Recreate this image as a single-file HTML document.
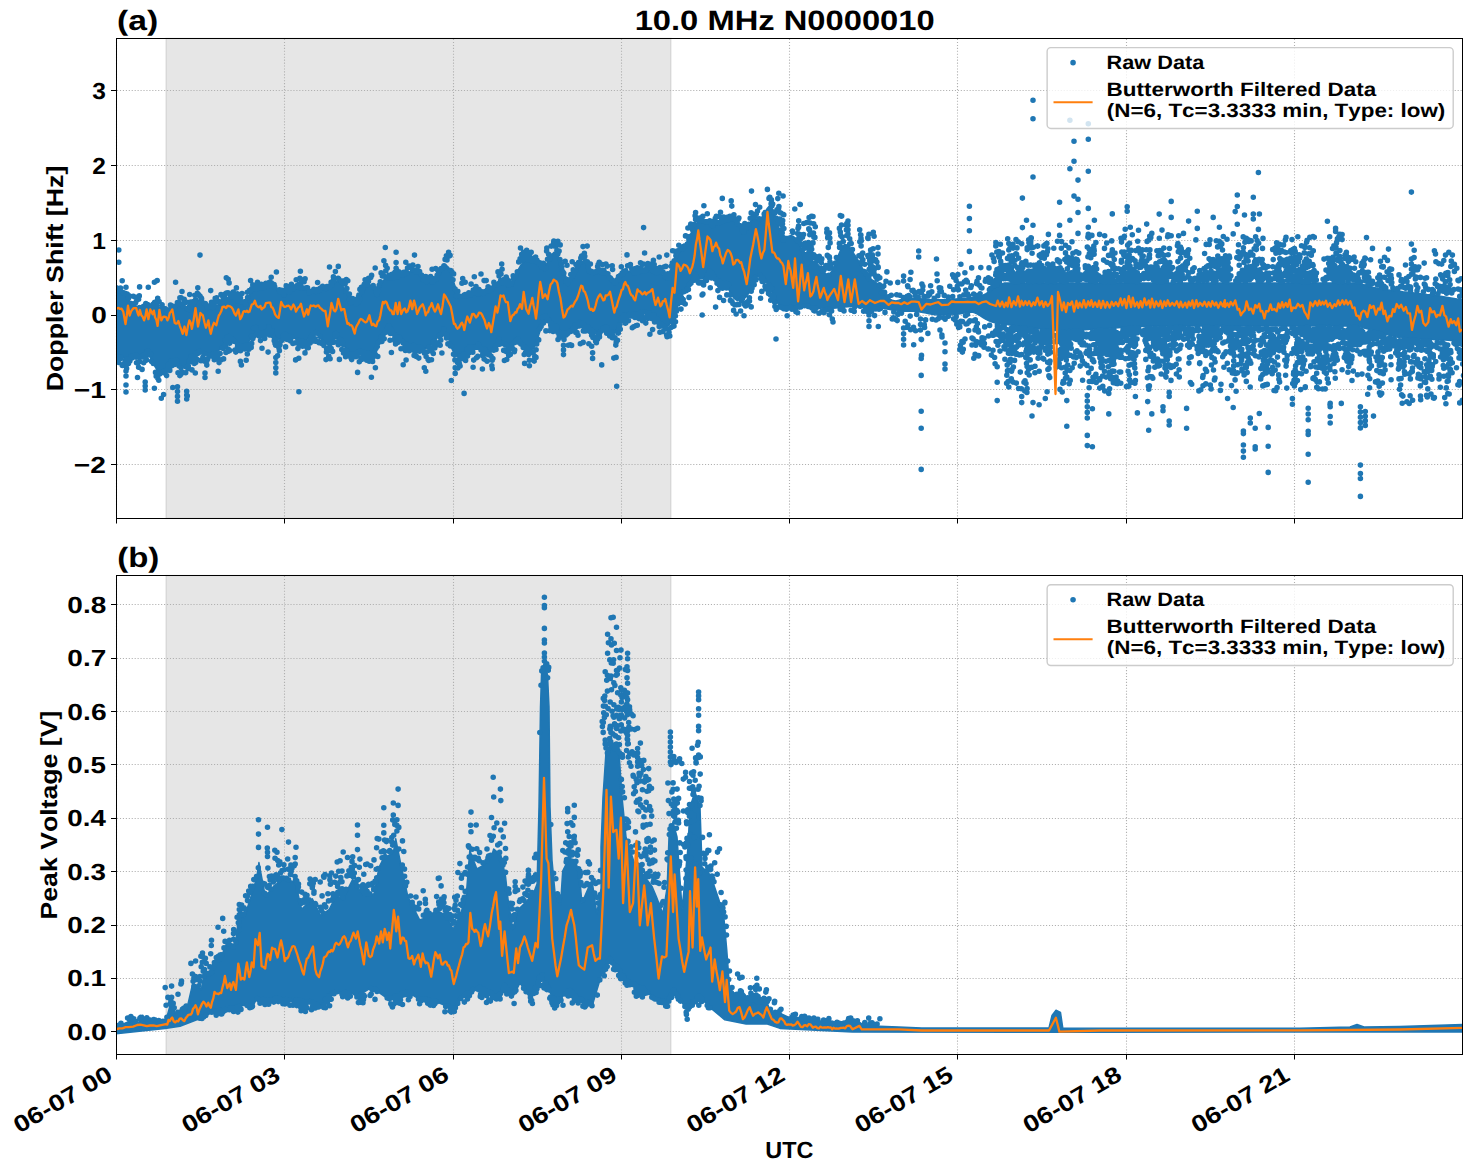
<!DOCTYPE html>
<html><head><meta charset="utf-8"><title>10.0 MHz N0000010</title><style>html,body{margin:0;padding:0;background:#fff;overflow:hidden}svg{display:block}text{font-family:"Liberation Sans",sans-serif;font-weight:bold;fill:#000;font-kerning:none;text-rendering:geometricPrecision}</style></head><body>
<svg width="1471" height="1172" viewBox="0 0 1471 1172">
<defs><clipPath id="c1"><rect x="116.5" y="38.4" width="1345.95" height="480"/></clipPath><clipPath id="c2"><rect x="116.5" y="575.5" width="1345.95" height="479"/></clipPath></defs>
<rect width="1471" height="1172" fill="#fff"/>
<rect x="166" y="38.4" width="504.9" height="480" fill="#808080" fill-opacity="0.2" stroke="#808080" stroke-opacity="0.2" stroke-width="1.39"/>
<path d="M116.5 39V518M284.5 39V518M453.5 39V518M621.5 39V518M789.5 39V518M957.5 39V518M1126.5 39V518M1294.5 39V518M117 90.5H1462M117 165.5H1462M117 240.5H1462M117 315.5H1462M117 389.5H1462M117 464.5H1462" fill="none" stroke="#b0b0b0" stroke-width="1.11" stroke-dasharray="1.11,1.83"/>
<g clip-path="url(#c1)">
<path fill="#1f77b4" stroke="#1f77b4" stroke-width="1.5" stroke-linejoin="round" d="M116 290.4 L119 290.8 L122 291.7 L125 294.7 L128 299 L131 302.4 L134 305.1 L137 306.3 L140 307 L143 308 L146 307.8 L149 306.5 L152 305.6 L155 305.8 L158 307 L161 308.8 L164 310.3 L167 310.9 L170 310.5 L173 309.2 L176 307.1 L179 305.8 L182 305.6 L185 306.5 L188 307.1 L191 306 L194 303.1 L197 300.3 L200 299.7 L203 301.4 L206 304.3 L209 306.1 L212 306.6 L215 305.8 L218 304.7 L221 303.5 L224 301.3 L227 298.9 L230 297.7 L233 298 L236 300.2 L239 302.1 L242 303.1 L245 301.2 L248 297 L251 292.8 L254 289.1 L257 288 L260 287.8 L263 287.2 L266 286.4 L269 285.7 L272 285.8 L275 287.2 L278 290.1 L281 292.3 L284 293.6 L287 293.3 L290 291.8 L293 290.3 L296 288.9 L299 288.2 L302 288.5 L305 289.7 L308 291 L311 291.6 L314 291.3 L317 290.4 L320 289.5 L323 288.6 L326 287.9 L329 286.3 L332 283.6 L335 281.7 L338 281 L341 283.1 L344 287.8 L347 293.3 L350 298.2 L353 301.7 L356 302.1 L359 298.5 L362 293.4 L365 287.8 L368 284.3 L371 285.3 L374 287.9 L377 288 L380 285.6 L383 281.1 L386 277.6 L389 277.1 L392 277.3 L395 277.2 L398 276.7 L401 275.7 L404 274.4 L407 272.9 L410 271.8 L413 271.3 L416 272.1 L419 274.6 L422 277.4 L425 279.9 L428 281.4 L431 281.1 L434 279.4 L437 276.6 L440 272.5 L443 267.6 L446 265.1 L449 267.9 L452 276.1 L455 286.1 L458 293.1 L461 295.8 L464 295.3 L467 294.9 L470 294.5 L473 294.1 L476 293.7 L479 293.3 L482 292.6 L485 291.7 L488 290.6 L491 289 L494 287.2 L497 285 L500 283.5 L503 282.9 L506 283.2 L509 283.6 L512 281.4 L515 276.5 L518 270.2 L521 264.8 L524 261.4 L527 260.3 L530 260.1 L533 260.6 L536 262 L539 264.3 L542 265.9 L545 265.5 L548 261.8 L551 255.4 L554 252.2 L557 253.8 L560 260.8 L563 270.6 L566 276.9 L569 278.5 L572 276.1 L575 271 L578 265.8 L581 261.6 L584 261.6 L587 264.4 L590 268.7 L593 271.6 L596 271.6 L599 271.3 L602 271.9 L605 273.8 L608 276.5 L611 279.1 L614 280.8 L617 280.4 L620 278.1 L623 274.7 L626 272.1 L629 271.2 L632 271.7 L635 272.4 L638 272.3 L641 271.3 L644 270.2 L647 269.5 L650 269.5 L653 270.2 L656 271.6 L659 273.1 L662 274.6 L665 275.5 L668 273.8 L671 269.2 L674 262.7 L677 256.4 L680 251.7 L683 248.4 L686 244 L689 237.9 L692 231.1 L695 225.2 L698 221.6 L701 220.7 L704 221.2 L707 222.5 L710 223.6 L713 224 L716 223.6 L719 222.5 L722 221.4 L725 220.3 L728 219.4 L731 219.5 L734 221 L737 223.9 L740 227.4 L743 228.6 L746 227.4 L749 223.9 L752 219.7 L755 218.1 L758 219.7 L761 218.4 L764 214 L767 208.8 L770 205.3 L773 209.7 L776 218.2 L779 227.7 L782 234.1 L785 236.3 L788 236.4 L791 235.5 L794 237 L797 240.3 L800 245.7 L803 252.8 L806 258.1 L809 261.6 L812 261.4 L815 261.7 L818 264.4 L821 268.4 L824 272.2 L827 274.6 L830 273.8 L833 269 L836 261.9 L839 253.7 L842 247.1 L845 244.4 L848 245.2 L851 248.9 L854 253.9 L857 258.4 L860 263.6 L863 269.5 L866 274.9 L869 278.4 L872 279.8 L875 281.4 L878 284.6 L881 288.8 L884 292.9 L887 296.5 L890 299.2 L893 300.6 L896 300.9 L899 300.1 L902 299.3 L905 298.8 L908 298.5 L911 298.5 L914 298.5 L917 298.6 L920 298.7 L923 298.9 L926 299.1 L929 299.4 L932 299.7 L935 299.8 L938 299.8 L941 299.7 L944 299.6 L947 299.4 L950 299.2 L953 299.1 L956 298.9 L959 298.7 L962 298.5 L965 298.3 L968 297.9 L971 297.5 L974 297.1 L977 296.7 L980 296.1 L983 295.1 L986 293.6 L989 291.7 L992 289.6 L995 287.4 L998 285.4 L1001 283.9 L1004 283.1 L1007 283 L1010 283 L1013 283 L1016 283 L1019 283 L1022 283 L1025 283 L1028 283 L1031 283 L1034 283 L1037 283 L1040 283 L1043 283 L1046 283 L1049 283 L1052 283 L1055 283 L1058 283 L1061 283 L1064 283 L1067 283 L1070 283 L1073 283 L1076 283 L1079 283 L1082 283 L1085 283 L1088 283 L1091 283 L1094 283 L1097 283 L1100 283 L1103 283 L1106 283 L1109 283 L1112 283 L1115 283 L1118 283 L1121 283 L1124 283 L1127 283 L1130 283 L1133 283 L1136 283 L1139 283 L1142 283 L1145 283 L1148 283 L1151 283 L1154 283 L1157 283 L1160 283 L1163 283 L1166 283 L1169 283 L1172 283 L1175 283 L1178 283 L1181 283 L1184 283 L1187 283 L1190 283 L1193 283 L1196 283 L1199 283 L1202 283 L1205 283 L1208 283 L1211 283 L1214 283 L1217 283 L1220 283 L1223 283 L1226 283 L1229 283 L1232 283 L1235 283 L1238 283 L1241 283 L1244 283 L1247 283 L1250 283 L1253 283 L1256 283 L1259 283 L1262 283 L1265 283 L1268 283 L1271 283 L1274 283 L1277 283 L1280 283 L1283 283 L1286 283 L1289 283 L1292 283 L1295 283 L1298 283 L1301 283 L1304 283 L1307 283 L1310 283 L1313 283 L1316 283 L1319 283 L1322 283 L1325 283 L1328 283 L1331 283 L1334 283 L1337 283 L1340 283 L1343 283 L1346 283 L1349 283 L1352 283 L1355 283.1 L1358 283.5 L1361 284.1 L1364 284.8 L1367 285.6 L1370 286.4 L1373 287.2 L1376 287.9 L1379 288.6 L1382 289.2 L1385 289.6 L1388 289.9 L1391 290.3 L1394 290.6 L1397 291 L1400 291.3 L1403 291.7 L1406 292 L1409 292.4 L1412 292.7 L1415 293.1 L1418 293.4 L1421 293.8 L1424 294.1 L1427 294.5 L1430 294.8 L1433 295.2 L1436 295.5 L1439 295.9 L1442 296.4 L1445 296.9 L1448 297.4 L1451 297.9 L1454 298.4 L1457 299 L1460 299.3 L1463 299.6 L1463 299.6 L1463 340.9 L1463 340.9 L1460 340.8 L1457 340.7 L1454 340.6 L1451 340.4 L1448 340.3 L1445 340.1 L1442 340 L1439 339.9 L1436 339.7 L1433 339.6 L1430 339.4 L1427 339.3 L1424 339.1 L1421 339 L1418 338.9 L1415 338.7 L1412 338.6 L1409 338.4 L1406 338.3 L1403 338.1 L1400 337.7 L1397 337.1 L1394 336.3 L1391 335.5 L1388 334.7 L1385 333.8 L1382 333 L1379 332.1 L1376 331.3 L1373 330.5 L1370 329.6 L1367 328.8 L1364 328 L1361 327.1 L1358 326.5 L1355 326.2 L1352 326 L1349 326 L1346 326 L1343 326 L1340 326 L1337 326 L1334 326 L1331 326 L1328 326 L1325 326 L1322 326 L1319 326 L1316 326 L1313 326 L1310 326 L1307 326 L1304 326 L1301 326 L1298 326 L1295 326 L1292 326 L1289 326 L1286 326 L1283 326 L1280 326 L1277 326 L1274 326 L1271 326 L1268 326 L1265 326 L1262 326 L1259 326 L1256 326 L1253 326 L1250 326 L1247 326 L1244 326 L1241 326 L1238 326 L1235 326 L1232 326 L1229 326 L1226 326 L1223 326 L1220 326 L1217 326 L1214 326 L1211 326 L1208 326 L1205 326 L1202 326 L1199 326 L1196 326 L1193 326 L1190 326 L1187 326 L1184 326 L1181 326 L1178 326 L1175 326 L1172 326 L1169 326 L1166 326 L1163 326 L1160 326 L1157 326 L1154 326 L1151 326.1 L1148 326.1 L1145 326.3 L1142 326.4 L1139 326.6 L1136 326.8 L1133 327 L1130 327.1 L1127 327.3 L1124 327.5 L1121 327.6 L1118 327.8 L1115 328 L1112 328.1 L1109 328.3 L1106 328.5 L1103 328.6 L1100 328.8 L1097 329 L1094 329.1 L1091 329.3 L1088 329.5 L1085 329.7 L1082 329.8 L1079 330 L1076 330.2 L1073 330.3 L1070 330.5 L1067 330.7 L1064 330.8 L1061 330.8 L1058 330.7 L1055 330.4 L1052 330.1 L1049 329.8 L1046 329.5 L1043 329.2 L1040 328.9 L1037 328.6 L1034 328.3 L1031 327.9 L1028 327.5 L1025 327.1 L1022 326.7 L1019 326.2 L1016 325.8 L1013 325.4 L1010 324.9 L1007 324.5 L1004 324 L1001 323.6 L998 323.2 L995 322.7 L992 322 L989 320.9 L986 319.4 L983 317.5 L980 315.6 L977 313.8 L974 312.6 L971 312.1 L968 312.2 L965 312.8 L962 313.4 L959 314 L956 314.5 L953 314.8 L950 315 L947 315 L944 315 L941 315 L938 314.9 L935 314.7 L932 314.2 L929 313.7 L926 313.1 L923 312.5 L920 311.9 L917 311.5 L914 311.3 L911 311.2 L908 311.2 L905 311.2 L902 311.2 L899 311 L896 310.7 L893 310.2 L890 309.6 L887 309 L884 308.4 L881 307.8 L878 307.4 L875 307 L872 306.7 L869 306.4 L866 306.1 L863 305.9 L860 305.9 L857 306 L854 306.2 L851 306.5 L848 306.8 L845 307.1 L842 307.4 L839 307.7 L836 308 L833 308.3 L830 308.6 L827 308.9 L824 308.9 L821 308.8 L818 308.3 L815 307.7 L812 307.1 L809 306.6 L806 306.1 L803 306 L800 306 L797 306.3 L794 306.6 L791 306.9 L788 307 L785 307 L782 306.7 L779 305.1 L776 300.5 L773 294.7 L770 288.1 L767 282.9 L764 279.7 L761 277.2 L758 276.4 L755 279.5 L752 285.9 L749 292.7 L746 297 L743 299 L740 299.8 L737 300.5 L734 298.4 L731 293.9 L728 288.1 L725 284 L722 282 L719 279.9 L716 277.1 L713 274.4 L710 273.9 L707 275.7 L704 278.1 L701 279 L698 278.2 L695 278.1 L692 280.4 L689 284.8 L686 289.3 L683 293.8 L680 299.8 L677 307.2 L674 315.7 L671 322.5 L668 325.9 L665 326.6 L662 324.6 L659 321.5 L656 318.5 L653 315.9 L650 313.9 L647 312.8 L644 312.2 L641 312.2 L638 312.7 L635 313.7 L632 314.4 L629 314.8 L626 315.3 L623 318.2 L620 323.9 L617 329.2 L614 332.8 L611 332.4 L608 329.9 L605 329.3 L602 330.4 L599 332.1 L596 332.9 L593 332 L590 329.8 L587 327.5 L584 325.4 L581 324.4 L578 324.5 L575 325.8 L572 327.9 L569 330.3 L566 332.2 L563 332.4 L560 330.8 L557 327.7 L554 324.5 L551 321.5 L548 319 L545 319.4 L542 325 L539 334.2 L536 343.8 L533 349.6 L530 350.8 L527 348.6 L524 345.5 L521 342.3 L518 341 L515 341.8 L512 344.2 L509 345.4 L506 344.6 L503 342.4 L500 342.1 L497 344.9 L494 349 L491 352.2 L488 352.5 L485 350.4 L482 348.1 L479 346.7 L476 346.3 L473 346.9 L470 348.2 L467 350.1 L464 352.8 L461 356.1 L458 357.2 L455 354.9 L452 348.9 L449 340.1 L446 334.1 L443 331.9 L440 333.4 L437 337.5 L434 341.3 L431 344.9 L428 347.5 L425 348.8 L422 348.8 L419 347.8 L416 346.9 L413 346.1 L410 345.3 L407 344 L404 342.2 L401 339.7 L398 336.9 L395 333.7 L392 330.7 L389 329.6 L386 330.4 L383 334.1 L380 339.9 L377 346.2 L374 351.2 L371 353.6 L368 353.4 L365 352.3 L362 352 L359 352.5 L356 353.7 L353 354.1 L350 352.9 L347 350 L344 345.7 L341 341.2 L338 338.6 L335 338.7 L332 341.3 L329 343.9 L326 344.1 L323 341.4 L320 337.1 L317 334.7 L314 334.6 L311 336.8 L308 339.6 L305 341.1 L302 341.2 L299 340.2 L296 339 L293 337.8 L290 336.4 L287 335.6 L284 337.3 L281 339 L278 339.3 L275 336.9 L272 332.5 L269 330.3 L266 330.2 L263 331 L260 330.8 L257 330.8 L254 334.1 L251 338.4 L248 343.2 L245 345.7 L242 345.6 L239 344.6 L236 342.9 L233 340.5 L230 338.5 L227 339.4 L224 342.9 L221 347.5 L218 351.6 L215 353.7 L212 354.7 L209 355.1 L206 354.9 L203 354 L200 353.3 L197 353.7 L194 355.4 L191 359 L188 363.7 L185 366.8 L182 367.3 L179 364.6 L176 361.5 L173 361.2 L170 363.7 L167 367.8 L164 370.9 L161 372.9 L158 371.6 L155 366.7 L152 360.7 L149 355.4 L146 353.6 L143 354.7 L140 355.8 L137 356.2 L134 356.6 L131 357.2 L128 357.9 L125 358.3 L122 358 L119 357.5 L116 357Z"/><path fill="none" stroke="#1f77b4" stroke-width="5.56" stroke-linecap="round" d="M118.8 250h0M118.8 262.3h0M154.4 282.2h0M148.3 287.2h0M182 291.5h0M189.7 294.5h0M228.2 279.2h0M300.4 271.2h0M333.4 276.9h0M126 371h0M126 376h0M126 385h0M126 392h0M137.5 377.5h0M145.2 382h0M145.2 386h0M145.2 390h0M154.4 388.2h0M161.3 398.2h0M172.8 387.5h0M177.5 386.7h0M177.5 391.6h0M177.5 396.4h0M177.5 401.3h0M186.7 391.3h0M186.7 395.1h0M186.7 399h0M205 373h0M205 377.5h0M218.2 371.3h0M240.4 361.4h0M228.2 349h0M235.8 352.1h0M262 348.3h0M268.1 352.1h0M275.8 357.5h0M275.8 362.6h0M275.8 367.8h0M275.8 372.9h0M298.8 358.3h0M305 352.9h0M328.8 356h0M396.1 252.3h0M396.1 262.6h0M396.1 268.2h0M414.5 255.1h0M432.1 269.2h0M448.6 252.3h0M465.2 282.3h0M502.1 269.2h0M523.7 252.3h0M523.7 258.8h0M531.2 252.3h0M553.8 241h0M338.3 266.4h0M346.3 279.5h0M370.7 277.6h0M357.6 372.4h0M375.4 367.7h0M409.2 350.8h0M416.7 350.8h0M426.1 356.5h0M440.2 345.2h0M455.2 367.7h0M455.2 373.4h0M487.1 361.2h0M491.8 365.8h0M508.7 355.5h0M514.3 351.8h0M529.4 360.2h0M529.4 365.8h0M536 357.4h0M548.1 320.8h0M598.2 264.5h0M659.2 257h0M666.8 255.1h0M665.8 266.4h0M563.5 345.2h0M563.5 349.9h0M563.5 354.6h0M583.2 342.4h0M591.7 346.2h0M592.6 352.7h0M592.6 358.4h0M616.1 357.4h0M659.2 326.5h0M760.6 298.3h0M794.8 209h0M848 221h0M848 225.3h0M848 229.7h0M848 234h0M878 247.6h0M878 254h0M918.7 251h0M918.7 257h0M936.5 259h0M903.6 276h0M903.6 281h0M969.4 206.3h0M969.4 218.5h0M969.4 230.7h0M969.4 251.4h0M991.9 255h0M955.5 277.5h0M937 274h0M959 284h0M921.2 339.3h0M921.2 358.4h0M921.2 375.4h0M921.2 411.2h0M921.2 428.2h0M921.2 469.4h0M972 338h0M972 345h0M978.5 332h0M978.5 356h0M988.5 336h0M988.5 349h0M832.3 319h0M833 322h0M869 315h0M869 320.8h0M869 326.5h0M878.3 326.5h0M903.6 328h0M903.6 333.7h0M903.6 339.3h0M903.6 345h0M920.5 319h0M920.5 324.5h0M920.5 330h0M921.5 339.6h0M921.5 355.4h0M936 320h0M940 330h0M942 337h0M945 343h0M945 351.8h0M945 364h0M945 369h0M969 322h0M975 330h0M982 337.7h0M978.7 355.6h0M988 349h0M1033 100.2h0M1033 118.7h0M1033 177h0M1022.4 198.1h0M1026.5 220.2h0M1022.4 227.6h0M1033 225.2h0M1059.6 202.2h0M1074 141.2h0M1088.3 139.2h0M1074 161.3h0M1069.9 168.8h0M1088.3 171.3h0M1078 180.1h0M1074 196.1h0M1078 199.2h0M1078 212.5h0M1088.3 208.4h0M1069.9 220.2h0M1094.4 220.2h0M1059.6 225.2h0M1059.6 235.4h0M1048.4 234.4h0M1088.3 227.2h0M1088.3 234.4h0M1078 233.4h0M1099.6 234.4h0M1104.7 235.8h0M1112.3 213.9h0M1127.2 206.7h0M1127.2 211.2h0M1130.3 227.2h0M1125.2 229.3h0M1138.5 230.3h0M1146.7 224.1h0M1159.2 214.1h0M1171.2 201.4h0M1171.2 217.4h0M1162 230.1h0M1188.6 221.1h0M1197.3 211.2h0M1197.3 228.4h0M1213.2 217.4h0M1219.4 227.2h0M1183.5 233.4h0M1171.2 235.8h0M1151.8 233.4h0M1069.9 120.3h0M1088.3 123.8h0M997.2 366.8h0M997.2 382.2h0M997.2 400.6h0M1021.7 396.5h0M1021.7 402.6h0M1032 416h0M1039.1 404.7h0M1033 402.6h0M1045.3 398.5h0M1026.9 392.4h0M1066.8 400.6h0M1066.8 426.2h0M1066.8 377h0M1087.3 395.5h0M1087.3 401.1h0M1087.3 406.8h0M1087.3 412.4h0M1087.3 418h0M1092.4 408.8h0M1087.3 435.4h0M1087.3 445.6h0M1092.4 446.7h0M1108.8 393.4h0M1108.8 413.9h0M1137.4 412.9h0M1147.7 401.6h0M1151.8 413.9h0M1148.7 430.3h0M1163 406.7h0M1163 410.8h0M1169.2 421h0M1169.2 425h0M1186.6 408.4h0M1186.6 428.2h0M1169.2 392.4h0M1169.2 396.5h0M1135.4 396.5h0M1220.4 390.4h0M1227.6 398.5h0M1191.7 384.2h0M1258.4 172.5h0M1237.3 195h0M1253.3 197.2h0M1237.3 206.5h0M1235.2 211.6h0M1244.5 215h0M1253.3 214h0M1253.3 219h0M1259.4 214h0M1237.3 224.3h0M1258.4 229.4h0M1233.2 233.9h0M1327.4 221.2h0M1335.6 228.4h0M1335.6 231.4h0M1342.1 234.5h0M1342.1 239.6h0M1313 236.6h0M1411.4 192.1h0M1411.4 244.1h0M1411.4 259h0M1411.4 264.1h0M1411.4 269.3h0M1411.4 274.4h0M1454.4 264.2h0M1454.4 271.4h0M1330 369.7h0M1342.1 369.7h0M1327.4 361.5h0M1336.6 357.4h0M1317.2 335.9h0M1330 404.5h0M1341.3 403.5h0M1399 363.5h0M1399 378.9h0M1439 374.8h0M1439 378.9h0M1448.2 374.8h0M1448.2 381h0M1243.4 431h0M1243.4 433.6h0M1243.4 445h0M1243.4 451.1h0M1243.4 457.3h0M1255.2 446.7h0M1255.2 449h0M1268.2 446.3h0M1268.2 472.4h0M1268.2 427.4h0M1255.2 428.2h0M1250.3 418h0M1250.3 423h0M1259.3 413.5h0M1233.2 407.5h0M1292.4 398.5h0M1292.4 404.2h0M1308.2 408.3h0M1308.2 414h0M1308.2 419.7h0M1308.2 431.2h0M1308.2 434.4h0M1308.2 454.3h0M1308.2 482.2h0M1330.2 403.4h0M1330.2 406.7h0M1330.2 416.5h0M1330.2 423h0M1341.3 403.4h0M1360.4 406.7h0M1360.4 412h0M1360.4 417.3h0M1360.4 422.6h0M1360.4 427.9h0M1365.3 411.6h0M1365.3 416.2h0M1365.3 420.8h0M1365.3 425.4h0M1373.5 416.1h0M1360.4 465.1h0M1360.4 473.6h0M1360.4 478.5h0M1360.4 496.4h0M1406.9 401.8h0M1412.6 400.2h0M1427.3 396.9h0M116.4 287.7h0M117.1 288.4h0M118.1 288.7h0M118.8 291.2h0M120.5 288h0M122.2 280.8h0M122.5 292.2h0M123.7 292.9h0M125 293.3h0M126 287.2h0M127.2 294.1h0M128.5 298.2h0M129.2 295.8h0M129.8 304.1h0M132.3 306.6h0M133.3 296.3h0M135 297h0M135.6 302.7h0M136.8 300.2h0M139.3 295.9h0M139.6 307.5h0M142.1 309.8h0M143.2 309.5h0M143.6 306.3h0M144.8 308.8h0M145.8 303.6h0M146.9 308h0M147.6 304.6h0M148.8 306.8h0M149.8 305.7h0M153.1 304.3h0M154.5 302.6h0M155.4 302.1h0M156.4 305.5h0M156.7 306.1h0M157.7 298.2h0M159.1 301.5h0M159.5 309.6h0M161.2 309.8h0M162.1 304.9h0M163.2 310.6h0M165.4 308.9h0M166.4 310.9h0M166.8 312.2h0M167.7 312.3h0M168.6 309.8h0M170.5 305.1h0M171.1 307.9h0M171.5 311.1h0M173.5 306.2h0M175.2 306.6h0M175.6 282.3h0M177.4 302.6h0M178.3 302.2h0M179.2 304.2h0M179.9 297.7h0M181.1 297.9h0M182.1 303.8h0M183.1 305.9h0M184.2 299.4h0M185.1 302.8h0M185.6 301.8h0M187.1 308.7h0M188.2 308.6h0M189.4 306.8h0M189.8 310.1h0M190.7 307.9h0M191.9 303.4h0M193.2 304.3h0M194.3 302.2h0M194.9 295.3h0M195.6 299.9h0M197.3 293.4h0M197.8 287.8h0M198.8 294.7h0M200.1 296.3h0M201.3 298.1h0M201.6 298.7h0M204.2 303.3h0M205.3 303.5h0M206.5 305.3h0M207.6 307.8h0M210.1 306.3h0M211.5 302.3h0M212 307h0M213 307.4h0M213.8 306.4h0M215 302.6h0M215.9 301.5h0M216.6 297.8h0M217.6 301.3h0M219.4 301.9h0M220.4 302h0M221 294.5h0M222.2 303.4h0M223.2 300.2h0M224.5 295.4h0M225.3 300.3h0M226.4 293h0M226.9 299.4h0M228 292.8h0M230.3 295.1h0M231.3 294.9h0M232 296.8h0M233.2 292h0M234.4 297.1h0M235.8 298.9h0M237 299h0M237.8 300.7h0M239.4 298h0M240.5 297.8h0M240.7 301.5h0M242.1 302.1h0M243.9 302h0M245 301.6h0M246 304.3h0M247.4 292.2h0M247.6 297.5h0M249.4 290.5h0M249.7 291.7h0M250.6 280.6h0M251.7 288.9h0M252.8 284.9h0M253.6 285.6h0M255 288.5h0M256 288.2h0M256.9 287.4h0M257.7 288.4h0M259 285.4h0M260.4 285.7h0M261.3 284.3h0M261.8 287.7h0M263.5 287.7h0M263.7 287.7h0M264.6 286.7h0M266.3 285.5h0M267.2 285.2h0M269.4 282.2h0M270 285.4h0M271.2 282.9h0M271.6 285.5h0M274.1 284.5h0M274.7 286.9h0M276.4 272h0M279.3 289.7h0M280 291.4h0M280.5 292.1h0M281.7 290.2h0M282.9 291.5h0M284 295.1h0M286.2 289.1h0M286.9 290.8h0M288.5 291.3h0M289.4 292.2h0M290.3 287.5h0M291.4 284.3h0M292.3 286.7h0M292.6 286.8h0M293.5 288.6h0M295.1 286.7h0M296.2 279.7h0M297.1 285.5h0M298.5 287.1h0M299.3 284.1h0M300.1 287.7h0M300.9 287h0M302.6 287.7h0M304.1 281.8h0M305.1 278.7h0M306.3 287.8h0M307.5 287.7h0M309 292.8h0M310.1 291.3h0M312 291.1h0M312.8 291.1h0M313.8 289.4h0M314.5 290.8h0M315.7 291.5h0M317.4 289.6h0M318.5 290.8h0M319.4 290.4h0M320.5 288.1h0M321.4 287.6h0M322.5 287.7h0M322.6 286.4h0M323.7 287.3h0M325.9 288.4h0M326.8 286.5h0M328.3 286.5h0M329.5 267h0M329.6 286.9h0M331.1 282.3h0M332.2 284.8h0M333.1 280.8h0M333.7 281.3h0M335.4 271.5h0M338.1 278.4h0M338.6 278.7h0M341.1 280.9h0M341.7 282.5h0M343.3 281.1h0M345.1 284h0M345.9 291.2h0M346.9 288.5h0M347.8 280.7h0M349.4 294h0M349.6 299.4h0M350.6 303h0M352.2 301.2h0M352.6 298.6h0M353.6 300.3h0M355.2 299.8h0M355.9 304h0M356.6 303.2h0M358.4 302.1h0M358.9 295h0M359.8 299h0M361.4 287.4h0M361.9 292.1h0M362.9 288.6h0M364.3 284.2h0M365.1 279.7h0M366.4 280.5h0M367 284.9h0M368.5 281.5h0M368.6 278.3h0M369.6 278h0M371.6 275.4h0M373.2 285.5h0M373.7 287.8h0M375.3 288.9h0M376.5 292.7h0M377 294.4h0M378.4 290.7h0M379.2 285.2h0M380.3 281.9h0M381.1 272.9h0M382.3 276h0M382.6 275.1h0M383.9 260.7h0M384.9 276.6h0M385.6 265.4h0M387.1 277.4h0M387.6 277.3h0M389.4 275.2h0M390.7 277.9h0M392.1 274.4h0M392.8 278h0M393.8 273.6h0M395 272.4h0M396.4 270.5h0M397.5 275.2h0M397.5 276.9h0M398.9 271.9h0M399.8 274.8h0M400.7 273.4h0M403.3 274.6h0M403.7 272.4h0M404.8 273.7h0M406.1 271.9h0M407 272.8h0M407.5 268.1h0M409.3 266.1h0M410.6 267h0M412.5 269.4h0M412.8 265h0M414.4 270.2h0M416 271.8h0M417.3 272.2h0M417.6 271.8h0M419.2 271.7h0M419.6 271.5h0M421.5 275.1h0M421.5 275.2h0M422.7 276.3h0M423.5 280.1h0M424.7 277h0M425.9 281.4h0M426.8 281.4h0M427.8 278.8h0M428.8 278h0M430.2 279.7h0M430.6 276.5h0M432.2 282.3h0M432.9 281.9h0M433.6 278.9h0M434.6 280.1h0M436.4 279h0M437.1 275.4h0M437.9 270.4h0M438.5 273.2h0M440.5 269.5h0M441.1 268.5h0M443.2 268h0M444 265.8h0M445.1 259.4h0M446.4 258.4h0M447 259.9h0M448.5 255h0M449.3 255.9h0M450.1 255.4h0M450.7 270.5h0M451.8 271.9h0M453 279.7h0M453.6 273.9h0M455.1 289.1h0M456.4 296h0M457.1 291.5h0M457.8 291.2h0M459.1 296.2h0M460 296.3h0M463.4 281.3h0M464.2 295.1h0M465.1 294.5h0M465.7 296h0M466.9 295.3h0M468 295.1h0M468.8 292.7h0M470.2 295.3h0M471.1 284.1h0M472.1 293.4h0M473.3 290.1h0M474.3 276.7h0M474.9 293h0M476 286.5h0M477.4 292.6h0M478.2 294.3h0M479.1 289.7h0M480.1 292.9h0M482 291.9h0M483.2 293.5h0M483.8 292.3h0M484.6 291.9h0M486.2 280.6h0M487.3 290.1h0M488.1 286.8h0M489.3 290.9h0M490.5 288.1h0M491.8 288.7h0M493.9 282.4h0M494.5 284.5h0M497 284.7h0M498 271.9h0M499.4 283.1h0M500.3 282.8h0M500.7 280.5h0M501.7 264h0M503.4 282.5h0M504.8 279.3h0M506.2 277.1h0M507.4 280.4h0M507.7 284.6h0M508.7 280.9h0M510.2 284.6h0M511.2 284.3h0M511.7 283.1h0M513.2 275.7h0M513.6 278.3h0M515 276.8h0M516.1 275.7h0M517.3 271.8h0M518.7 261.9h0M519.7 261h0M520.5 248h0M521.9 258.1h0M522.7 260.2h0M523.9 258.6h0M525 256.4h0M526.2 254.8h0M526.7 250.4h0M528.1 259.9h0M529.3 258.1h0M529.7 254.8h0M531.1 259.8h0M532.1 260.9h0M533.4 258.5h0M533.5 261.3h0M534.9 260.3h0M535.6 257.1h0M537 260.2h0M537.6 262.6h0M538.8 264h0M539.8 262.9h0M541.3 266.5h0M541.7 267.2h0M543.3 263.3h0M544.7 268.6h0M546 268h0M546.6 251.1h0M547.5 259.3h0M548.6 254.3h0M549.9 258.8h0M553.2 244.7h0M554.1 246h0M555.4 244.8h0M556.5 245.6h0M556.9 250.5h0M557.8 254.1h0M559.1 251h0M559.9 259.5h0M561.3 263.7h0M561.7 267.4h0M562.7 271.6h0M563.8 273.3h0M565.2 261.3h0M565.9 281.3h0M567.8 283.4h0M569.9 279.9h0M570.8 274.6h0M572.4 276.4h0M573.2 269.9h0M573.8 272.9h0M575.4 270.8h0M576 264.6h0M577.5 266.2h0M578.5 262.6h0M580 262.5h0M580.8 258.1h0M581.6 256.1h0M583.2 256.3h0M584.4 253.3h0M584.8 256.2h0M585.5 261h0M587.3 261.9h0M588.2 267.2h0M589.2 271.3h0M590.4 264.1h0M590.6 271h0M591.6 272.3h0M593 272.1h0M593.9 272.4h0M595.2 271.9h0M595.8 271.7h0M597.1 271h0M598.2 268.8h0M599.6 270.5h0M601 272.1h0M601.8 270.4h0M602.8 272.8h0M603.8 270.2h0M605 272.8h0M605.9 264h0M607.3 266.1h0M607.9 273.9h0M609.3 277.4h0M610.4 278.1h0M611.8 279.8h0M612.6 269.5h0M614.2 281.8h0M615 282.7h0M616 281.7h0M617.1 279.9h0M618.5 276.5h0M619.4 279.8h0M620.2 275.5h0M621.3 266.8h0M622 273.6h0M622.8 274h0M623.7 271.5h0M624.7 271.4h0M625.6 270.9h0M627.6 265.8h0M629 265.6h0M630.4 264.5h0M632.3 270.5h0M632.8 269.4h0M633.8 273.1h0M635.3 268.5h0M636.2 272.6h0M637.3 267.8h0M638.2 271.9h0M638.5 272.3h0M640.5 262.7h0M640.9 268h0M642.4 269.8h0M643.2 271.1h0M643.8 270.8h0M644.6 253h0M646 270.4h0M646.8 268.6h0M647.8 263.6h0M649.3 266.4h0M650.2 267.8h0M650.6 264.4h0M652.4 270.2h0M652.6 268.7h0M654.1 271.5h0M654.8 268.6h0M655.9 270.2h0M656.6 272.9h0M657.6 272.3h0M659.5 271.7h0M660 267.5h0M660.9 269.3h0M663.1 272.3h0M664.4 266.8h0M665.3 275h0M665.5 276.9h0M666.6 277.6h0M667.8 273.7h0M668.7 277.7h0M670 274.7h0M671.2 266.2h0M672.3 263h0M672.6 250.8h0M674.2 260.9h0M674.5 251.3h0M675.9 255.8h0M677.3 251.8h0M677.9 250.9h0M678.8 245.3h0M680.7 246.8h0M682.2 247.7h0M682.6 249.1h0M683.5 246.5h0M684.8 245.7h0M685.7 235.9h0M687.3 244.1h0M687.9 228h0M688.9 239.4h0M689.8 236.6h0M690.8 224h0M692.5 229.8h0M692.9 224.8h0M694.1 224.5h0M695.1 215.8h0M695.6 219.4h0M697 218h0M697.9 219.9h0M699.1 218.3h0M700.1 221.2h0M701.1 217.9h0M702 220.2h0M702.8 216.4h0M703.9 205.7h0M705.5 221.8h0M706.3 221.9h0M707.3 213.7h0M708.5 221.5h0M709.8 220.9h0M711 223.7h0M711.8 225.5h0M713.1 225.6h0M713.7 223.1h0M715.3 218.3h0M716.3 216.4h0M716.6 222.7h0M719.3 216.5h0M719.9 222.4h0M721.4 219.3h0M723.1 221.2h0M723.7 217.1h0M724.5 219.3h0M726.1 219.7h0M727.2 217.4h0M728.2 219.8h0M728.6 219.5h0M729.9 216.3h0M731.2 200.9h0M731.8 217.4h0M733.1 218.9h0M733.9 214.8h0M735.4 219.7h0M735.7 219.2h0M737.4 223.7h0M738.2 219.4h0M738.9 218h0M739.9 225.6h0M741.9 230.4h0M743.2 231.6h0M743.9 232.3h0M744.8 223.6h0M746.3 228.3h0M747 224.9h0M748.9 224.2h0M750.2 218.3h0M751.4 213.1h0M752.9 216.7h0M754.2 216.6h0M755.5 204.6h0M756.3 214.1h0M757.5 211h0M759.2 218.8h0M759.7 207.3h0M760.9 225.4h0M761.7 228.4h0M763.2 223.2h0M764.2 214h0M765 212.6h0M767.4 189.4h0M769 198.4h0M769.8 197.2h0M771.1 203.8h0M772 205.7h0M772.7 204h0M773.7 212.2h0M775 212.7h0M776.4 218.4h0M777 209.8h0M778.4 222.2h0M777.8 219.2h0M777.8 198.6h0M778.8 193.3h0M778.9 206.6h0M778.6 208.2h0M779 222.8h0M780.4 212.8h0M780 223.5h0M779.8 219h0M779.9 219.4h0M781.2 233.1h0M780.9 223.4h0M780.9 234h0M782.1 225.1h0M781.8 225.1h0M782.5 229h0M782.5 224h0M782.2 232.9h0M783 214.3h0M783.1 196h0M783.2 240.3h0M782.7 220.5h0M783.8 214.8h0M783.8 239.6h0M783.9 228.6h0M792.4 231h0M792.8 232.6h0M796.6 239.8h0M798.4 227.1h0M798 228.5h0M797.7 240.9h0M797.7 233.5h0M798.6 227.2h0M798.7 220.8h0M799.1 236.8h0M799.3 240.1h0M798.6 226.1h0M800.3 204.5h0M800 234.6h0M799.9 204.2h0M800.5 238.7h0M800.9 244h0M802.5 237.3h0M802.7 244.9h0M803.4 249h0M802.6 249.9h0M803.6 234.5h0M804.3 254.5h0M803.8 223.5h0M805.5 256.4h0M804.9 259.1h0M805.1 255.5h0M804.8 243.4h0M806.5 264.2h0M805.7 246h0M807.1 256.2h0M806.7 254.5h0M806.6 246.4h0M806.7 222.6h0M807.7 257.8h0M808.2 248.5h0M808.4 261.7h0M807.7 254.7h0M808.4 242.6h0M808 246.8h0M808.8 228.9h0M809 253.6h0M809.1 217.6h0M808.5 253.4h0M810.5 252.7h0M810.1 259.2h0M809.5 229.9h0M810.2 223h0M809.8 234.7h0M811.4 216.2h0M811.1 246.8h0M810.6 258.6h0M812.2 257.1h0M811.7 249.2h0M811.6 258.5h0M812.9 257.3h0M813 242.9h0M813 216.5h0M813.5 233h0M813.7 223.7h0M813.9 237.2h0M813.8 254.7h0M814.9 237.4h0M815.3 226.7h0M815.7 256.6h0M816.3 256.7h0M816.8 261h0M819 259h0M818.9 258.3h0M819.3 256.2h0M821.3 262.6h0M820.8 268h0M821.8 258.9h0M822.8 271.3h0M823.9 269.9h0M825.4 268.1h0M825.6 266.9h0M826 265.6h0M826.9 229.2h0M827.3 255.4h0M826.8 232.6h0M827.8 236.7h0M828.3 247.4h0M828 265.5h0M827.7 237.7h0M829.5 232.9h0M828.8 257h0M828.9 275.2h0M829.3 256.9h0M829.2 268.4h0M829.5 258h0M830.1 262.5h0M829.8 238h0M830.1 242.9h0M830 262h0M830.9 264.7h0M830.9 264.6h0M834.3 269.1h0M835.4 263h0M836.4 257.6h0M839.4 228.4h0M839.3 243.5h0M840.3 232.1h0M839.6 247.4h0M840.3 215.5h0M840.3 246.4h0M841.4 216.2h0M840.8 235.5h0M841.7 216.1h0M842.1 237.1h0M841.5 225h0M843.3 241.6h0M846.4 229.9h0M846.4 225.3h0M846.8 235.6h0M847.2 226h0M846.8 223.5h0M849.7 244.1h0M849.7 238.8h0M850.6 243.4h0M851.2 243.5h0M852.4 249.5h0M858.9 255.7h0M859.8 241.8h0M859.7 229.7h0M861.4 257.1h0M861.3 240.7h0M860.9 235.1h0M861.1 245.9h0M860.6 234.8h0M861 238.4h0M861.7 261.8h0M861.9 263.7h0M861.9 254.4h0M862.4 263.7h0M862.7 253h0M862.9 259.8h0M863.7 271.5h0M864.2 271.6h0M864.8 264.2h0M866.6 274.4h0M867.8 237.9h0M868.1 238.4h0M867.8 255.6h0M868.4 257h0M868 277.1h0M868.8 278.9h0M869.2 269.4h0M868.9 234.2h0M868.7 277.1h0M870.1 269.3h0M869.9 263.3h0M870 259.1h0M869.7 260.4h0M870.4 258.6h0M869.6 254.9h0M871.5 261.2h0M870.6 259.7h0M870.9 263.7h0M870.6 250.1h0M870.6 266.9h0M872.3 254.9h0M871.6 273.7h0M871.9 273.7h0M872.4 256.7h0M872.7 267.1h0M872.7 260.8h0M873.3 232.3h0M873.1 248.7h0M874.1 270h0M874.1 268.5h0M874.1 273.8h0M874.1 236.2h0M875.8 276.7h0M875.6 259.9h0M877 279.1h0M876.9 262.1h0M877.1 279.2h0M878.2 267.4h0M878 276.4h0M878 266.7h0M879.4 284.9h0M131.3 303.5h0M138.6 299.2h0M139.6 286.9h0M157.2 280.6h0M189.5 302.2h0M190.7 302h0M192.8 301.7h0M200 255.1h0M210.7 290.6h0M215.2 298.4h0M222.7 296.5h0M225.1 294.1h0M226.3 277.8h0M229.1 282.9h0M236.4 287.9h0M237.3 293.9h0M242 293.5h0M257.5 282.3h0M265.9 283.3h0M271.2 277.2h0M286.2 285.9h0M299.9 278.3h0M301.6 282.4h0M317.6 282.5h0M358.4 297h0M359.9 289.4h0M375.2 268h0M375.7 289.9h0M376.7 288.9h0M385.3 247.5h0M385.8 270.9h0M387.2 268.3h0M396.7 270h0M405.8 262.2h0M418 266.6h0M425.8 276.5h0M435.7 268.5h0M446.4 255.8h0M461.9 283.3h0M462.7 278.5h0M478.7 289.4h0M481 274h0M484.1 280.6h0M488.1 286.9h0M499.1 275.9h0M501 274h0M504.3 279.4h0M506.9 279.1h0M520.1 258.9h0M521.7 254.4h0M524.9 256.3h0M546.8 248h0M549.8 255.6h0M551.2 246.1h0M553.7 242.6h0M557.9 241.3h0M558.6 251.8h0M560.2 244.9h0M567 265.3h0M572.2 261.8h0M583 246.6h0M587.2 246.1h0M597.6 266.5h0M599.2 262.2h0M602.4 264.5h0M612.2 265.7h0M622.2 273h0M627 254.9h0M631.8 268.9h0M632.6 268.8h0M635.2 269.2h0M643.4 264.1h0M643.6 227.6h0M647.3 264.5h0M653.4 260.2h0M654.2 264.6h0M657.9 268.5h0M676 252.7h0M685.5 235.9h0M690.2 226.4h0M695.6 212.5h0M714.9 220h0M720.5 212.3h0M722.3 198.4h0M731.8 206.1h0M743.7 225.9h0M751.2 212.9h0M751.5 191.1h0M753.4 214.2h0M771.4 199.9h0M116.2 359.8h0M116.7 356.4h0M118.2 356.9h0M118.7 359.2h0M120.3 358.8h0M120.8 356.9h0M122.3 365.4h0M123.2 364.6h0M123.8 364.2h0M125.3 360.9h0M125.9 360.2h0M126.6 359.1h0M128.5 363.6h0M129.2 360h0M129.9 360.9h0M131 356.9h0M132.1 358h0M133 355.8h0M133.7 356.3h0M135.2 355.5h0M136.2 357.2h0M136.6 355.4h0M138.1 362.5h0M139.4 357.3h0M139.7 361.7h0M141.2 357.1h0M142.1 369.4h0M143.1 355.4h0M143.9 357.2h0M144.8 354.5h0M145.6 356.7h0M147.1 351.5h0M147.5 353.6h0M148.6 351.3h0M150.8 354.3h0M151.6 361.4h0M153.3 363.5h0M155.5 372.4h0M156.2 376.2h0M157 373.4h0M157.8 378.3h0M158.8 380.2h0M159.7 374.1h0M160.9 372.9h0M163.3 371.7h0M164.3 371h0M165.1 373.3h0M165.9 370.6h0M166.6 375.6h0M167.8 366.9h0M168.6 364.4h0M170.4 364.9h0M171 361.1h0M171.8 365.7h0M172.6 360.7h0M174.6 364.4h0M175.8 360h0M177.2 360.9h0M178 372.7h0M179.1 365.9h0M180.4 372.7h0M181 367.8h0M181.8 372.1h0M182.6 372.3h0M186.2 367.1h0M187.3 395.9h0M188.3 366h0M189.3 361.2h0M190.5 359.5h0M191.3 358.2h0M191.5 356h0M193.4 356.6h0M194.4 361.6h0M195.3 373h0M196 353.2h0M196.7 354.1h0M197.7 353.4h0M199.3 351.4h0M200.1 352.1h0M201 360.8h0M201.7 359.8h0M202.9 357.2h0M204.4 353.5h0M204.7 361.2h0M206.8 365.1h0M207.7 358.9h0M208.9 354.9h0M209.7 356.2h0M212.4 356h0M213.4 353.8h0M214.3 359.8h0M215.2 357.8h0M215.6 353.5h0M216.6 355.5h0M218 355.3h0M218.9 359.5h0M220.1 353.6h0M220.9 360h0M222.2 348.1h0M222.9 348.3h0M225.3 340.3h0M225.9 352.5h0M227.2 337.4h0M228.8 336.5h0M229.7 350.6h0M230.7 339.1h0M231.6 338.9h0M232.9 339.8h0M233.5 341.1h0M234.7 341.5h0M236.2 350.8h0M237.3 347.9h0M237.6 344.7h0M239 347.7h0M240.2 345.6h0M240.7 347h0M242.1 348.3h0M243.2 346.1h0M245.4 345.5h0M246.3 346h0M246.6 346.3h0M248.2 345.2h0M249.2 347h0M249.9 345.2h0M251.6 336h0M252.9 338.4h0M253.5 328.2h0M254.7 328h0M255.9 327.6h0M256.6 333.7h0M258.1 332.2h0M259.1 335.9h0M260.1 332.9h0M260.9 334.7h0M262.9 333.8h0M263.9 335.1h0M265.1 334.2h0M266 331.7h0M267.2 333.3h0M268.1 330.2h0M268.9 326.8h0M269.5 334.9h0M271 333.3h0M272.3 330.7h0M272.6 335.5h0M274.2 340.8h0M274.5 338.7h0M276.2 341h0M277.4 342.8h0M277.6 355.7h0M278.9 348.1h0M280 344.7h0M281.7 340.6h0M283.4 336h0M283.5 335.2h0M285.2 334.1h0M285.6 346.9h0M286.5 339.2h0M288.2 335.9h0M289 339.4h0M290 336.6h0M290.6 341h0M292.1 337.1h0M295.4 342.8h0M295.6 359.9h0M296.7 342.6h0M298 340h0M299.1 344.2h0M300.7 342.8h0M301.8 341.4h0M302.6 346.2h0M304.2 342h0M305.2 342.5h0M305.8 342.6h0M307.1 347.7h0M308.9 341.9h0M310.2 339.4h0M311.4 336.4h0M312.4 334.7h0M313.1 334.9h0M313.7 340.9h0M315 338.9h0M316.2 332.5h0M317.2 333.1h0M318.3 341.7h0M319.1 342.7h0M320.1 336.6h0M321.8 343.6h0M322.7 342.6h0M323.9 345.4h0M326 359.6h0M326.6 348.6h0M327.6 348.8h0M328.5 350.5h0M329.7 344.2h0M331.2 348.6h0M332.4 342.5h0M332.6 351.4h0M334.3 342.1h0M335.4 335.7h0M335.6 333.6h0M336.7 334.4h0M338.3 344.7h0M338.5 341.2h0M340.4 339.6h0M341.2 340.5h0M342.4 342.2h0M343.1 344.6h0M345.4 350.4h0M345.6 356.7h0M346.7 350.9h0M348.7 354.2h0M350.2 354.2h0M350.9 357.7h0M351.9 356.5h0M353.2 355.6h0M353.6 354h0M355.3 355h0M355.9 356.7h0M357 354.4h0M357.7 352.2h0M359.3 361.7h0M360.2 351.2h0M360.9 357.8h0M361.7 352.7h0M362.9 357.9h0M363.7 352.3h0M365.5 358.2h0M365.8 352.8h0M366.7 353.2h0M367.6 352.8h0M369.4 357.2h0M370.1 354.8h0M372.9 357.4h0M373.8 353.9h0M374.6 352.2h0M375.9 348.5h0M377.3 346.6h0M377.8 356.5h0M378.6 342.6h0M379.9 341.4h0M380.8 337.2h0M381.8 336.9h0M383.1 334.8h0M384.2 338.8h0M385.3 331.5h0M386.4 332.1h0M386.8 329.3h0M388.4 326.6h0M388.7 326h0M390.4 333.4h0M390.9 329.4h0M392.1 331.2h0M394.4 334.5h0M394.8 338.4h0M395.6 343.9h0M396.8 338.4h0M397.7 342.5h0M399 337.3h0M399.6 338h0M401 348.7h0M402.2 341.1h0M403.2 342.9h0M405.4 350.5h0M406.4 349h0M406.6 344.4h0M408 345.8h0M410.1 345.8h0M410.7 346.5h0M411.6 346.5h0M413.4 345.3h0M414.1 355.4h0M414.8 348h0M417.2 350.7h0M418.1 346.7h0M418.8 358.1h0M420.1 347.2h0M420.7 350.5h0M422 349.7h0M422.7 349.3h0M424.3 367.8h0M424.6 353.2h0M425.8 371.3h0M427.1 351.8h0M428 359.2h0M429.1 347.1h0M429.9 347.8h0M431.5 351.3h0M431.8 347.7h0M433.1 341.8h0M434.2 345.1h0M434.9 341.3h0M436.2 345.2h0M437.4 342.9h0M439.2 336.5h0M440.2 334.9h0M440.6 335.5h0M442.4 333.6h0M443.2 332.4h0M443.8 328.9h0M445.3 334.3h0M445.8 334.5h0M447 335.3h0M447.9 343.9h0M449.4 343.8h0M450.4 345.9h0M451.5 345.7h0M453.5 354.3h0M454.5 354.7h0M454.9 360h0M456.1 360.6h0M457.5 362.5h0M457.8 360.1h0M458.7 361.2h0M460.1 366.1h0M460.7 356.1h0M461.7 358.7h0M463 356.1h0M463.6 354h0M467.2 349.3h0M467.5 356.1h0M469.4 350.2h0M469.6 346.9h0M471.4 346.7h0M472.4 350.7h0M473.1 367.3h0M473.7 360.1h0M475 347.4h0M476.5 357.8h0M477.5 347.3h0M478.4 344.4h0M478.8 344.6h0M480.5 347.8h0M481 350.1h0M482.4 369h0M483 355.8h0M484.1 359.1h0M485 349.6h0M486.1 351.5h0M488 354.6h0M488.8 353.9h0M489.7 355h0M491.1 356.2h0M492.3 368.8h0M492.9 358.5h0M493.7 350.2h0M495.1 347.7h0M496.2 345.6h0M498.4 340.9h0M499.2 339.1h0M499.6 344.3h0M503 343.5h0M503.7 350.4h0M505.3 344.4h0M505.5 344.9h0M506.8 359.5h0M508 347.1h0M508.7 351.9h0M510 347.7h0M511.5 347.9h0M511.8 344.8h0M512.6 348.5h0M514.1 342.7h0M514.7 350.1h0M516.1 340.2h0M517.3 342h0M517.9 339.1h0M519.4 341.5h0M519.8 341.6h0M520.8 344h0M522.2 344.7h0M523.2 345.7h0M524.2 354.5h0M525.4 347.2h0M527.1 349h0M528.2 350.4h0M528.6 354.5h0M530.1 352.2h0M531.4 352.3h0M533.1 353h0M533.9 360h0M534.7 356.2h0M536.1 349.8h0M536.7 343.9h0M538.3 339.6h0M538.7 339.9h0M539.7 328.8h0M541.1 326.4h0M542 317.6h0M542.9 322.5h0M543.5 323.1h0M545.3 316h0M545.5 316.6h0M547.1 318.4h0M547.6 319.6h0M548.9 320.2h0M549.8 330.6h0M551 326.4h0M551.6 323.3h0M553.1 331.5h0M554.2 330.2h0M554.5 326.4h0M556.4 326.2h0M556.5 328.1h0M557.9 332.5h0M559.2 335.8h0M560.2 335.7h0M561.4 334.2h0M562.3 333h0M563.3 335.2h0M564 339.4h0M564.6 333.4h0M566.1 335h0M566.9 334h0M567.7 333.4h0M569.3 331.6h0M570.3 344.9h0M570.8 331.5h0M571.6 345.4h0M573.2 328.2h0M573.6 329.9h0M575.1 325.1h0M575.8 327.3h0M577 332.5h0M578 335.3h0M579.3 326h0M579.7 322.3h0M581.1 322.9h0M581.5 324.5h0M582.7 326.1h0M583.6 324.6h0M584.9 329.3h0M585.7 330.9h0M587.1 327.7h0M588.3 327.4h0M588.6 328.5h0M590 331.6h0M590.6 329.7h0M591.6 335.2h0M592.9 337.5h0M594 332.1h0M594.9 337.3h0M596.4 342.7h0M597.5 339.3h0M598.3 333.8h0M599.4 334.1h0M600.4 331.8h0M603.2 328.2h0M605.1 327.4h0M605.7 330.9h0M606.9 327.6h0M608.9 332h0M610.2 331.5h0M611.3 331.7h0M612.3 337.7h0M612.9 335.4h0M614.2 337.7h0M615 337.7h0M616.2 342.2h0M617.5 340.3h0M617.7 332h0M618.9 327.7h0M620.3 329.3h0M621.4 320.3h0M621.7 317.5h0M622.9 317.4h0M624 315.3h0M625 323.1h0M625.6 320.9h0M626.7 316.7h0M628.5 320.8h0M629.2 314.6h0M630.3 315.3h0M631.5 316h0M632.3 327.7h0M633.2 314.3h0M634.9 317.4h0M636.2 325.5h0M637.3 325.3h0M637.8 313.8h0M638.9 318.6h0M639.9 312.5h0M640.6 316.9h0M642.2 317h0M642.6 312.6h0M643.5 319.1h0M645.5 312.2h0M645.8 323.1h0M647.3 314.9h0M648.3 318.2h0M649 312.7h0M649.9 334.3h0M650.8 315.3h0M651.6 318.5h0M653.5 316.8h0M653.9 314.8h0M654.6 321.9h0M656.1 318.6h0M657.4 319.3h0M657.9 321.7h0M658.9 323h0M659.9 332.2h0M660.7 324.1h0M662.3 325.9h0M662.7 325.5h0M663.7 326h0M666.2 328.5h0M666.7 335.2h0M668.4 334.4h0M669 332.6h0M669.8 336h0M671 327.6h0M672.3 322.1h0M673.4 318.6h0M674 326.1h0M675.4 316h0M676.4 311.3h0M676.8 309.5h0M677.8 304h0M679 300.8h0M680.2 295.8h0M681.4 297.5h0M683.2 299.5h0M683.9 291.8h0M685.2 304h0M686.2 290.8h0M687.1 288.8h0M688.4 289.5h0M689 285h0M690.3 283.8h0M691.1 283.1h0M692.8 280.4h0M694.1 280.3h0M694.7 277.5h0M695.6 274.2h0M697.3 278.3h0M698.2 281.9h0M698.7 283h0M699.9 282.9h0M700.8 282.6h0M702.1 295h0M703.5 282.9h0M703.6 284.9h0M705 280.8h0M706.3 279.2h0M707.4 274.7h0M707.7 275.1h0M709.6 271.1h0M711.1 273.5h0M712.2 273.1h0M712.8 274.6h0M713.7 276.4h0M715.2 279.1h0M715.8 278.7h0M718 282.8h0M719.2 281.3h0M719.7 285.7h0M720.5 281.7h0M721.8 282.7h0M722.5 288.3h0M723.6 300.5h0M724.9 286.5h0M726.3 283.6h0M726.5 288h0M728.5 284.4h0M730.4 300.4h0M730.6 300.8h0M731.9 301.6h0M732.9 303.6h0M733.6 310.4h0M734.7 304.7h0M736.1 314h0M736.8 304.8h0M737.6 304.3h0M739.1 304.5h0M740.6 311h0M741.8 300.8h0M742.6 298.3h0M744 315.8h0M744.7 304.7h0M745.6 306h0M747.1 302.3h0M748.4 301.4h0M749.4 297.7h0M749.5 301.1h0M751.2 291.2h0M752 288.2h0M753.2 282.5h0M754.2 284.7h0M754.7 277.5h0M755.8 280.1h0M760.3 275.4h0M760.9 278.5h0M762.2 281.4h0M763.1 278.3h0M764.5 281h0M765 286.2h0M765.7 288.8h0M766.7 287h0M768.4 291.2h0M768.7 285h0M769.6 286.5h0M770.6 295.3h0M771.7 288.3h0M772.8 294.7h0M774 297.3h0M774.7 302.3h0M776.2 309.5h0M778.3 307.3h0M778.9 307.1h0M780.8 306.8h0M782.5 307.9h0M783.6 308.7h0M785.4 307.9h0M786.4 309.2h0M787.2 315.8h0M790.5 307.2h0M791.9 309.2h0M792.9 308.9h0M795.9 311.7h0M796.8 307.6h0M797.6 312.7h0M799.3 307.1h0M800.7 306.9h0M804.6 305.8h0M808.2 306.4h0M811.9 307.9h0M813.8 310.6h0M814.8 310.9h0M816 308.2h0M819 313.3h0M822.1 311.2h0M823 312.2h0M824.1 312.6h0M824.7 310.2h0M826 309.9h0M828.4 309.1h0M829.4 314.7h0M831.6 311.1h0M840.2 309.3h0M841.2 307.8h0M842.5 308.7h0M844 310.9h0M851.1 310.2h0M854.2 311.4h0M854.8 306.7h0M860.1 306.2h0M860.8 306.1h0M863.6 311.2h0M865.5 307.9h0M867.1 311.4h0M869.9 309.4h0M871.2 306.7h0M871.6 311.1h0M873.1 308.9h0M874.6 315.6h0M875.9 309h0M879 309.2h0M880.4 308.4h0M118.8 362.4h0M124.7 363.1h0M125.8 365.1h0M126.6 368.6h0M136.5 362.8h0M138.6 367.3h0M143.7 362.7h0M146.6 360.1h0M147.8 355.1h0M163.6 394.6h0M169.8 370.4h0M171.8 365.4h0M179.8 375.6h0M180.8 374.4h0M185.7 372.8h0M188.3 368.5h0M192 369.9h0M192.9 362.2h0M194.3 363.5h0M195.7 362.6h0M196.8 359.4h0M206.9 360.8h0M219.1 362.6h0M223.6 358.9h0M225.6 344.8h0M227.5 342h0M228.4 351.3h0M229.6 343.3h0M235 350.1h0M237.2 349.1h0M240.5 350.7h0M241.4 365h0M244.6 349h0M246.2 360.3h0M247.3 354h0M248.9 349.3h0M251.2 347.4h0M251.7 343.4h0M253.9 336.1h0M259.6 336.2h0M260.5 340.6h0M264.7 338.5h0M275 343.5h0M275.7 345.2h0M279.4 350.8h0M287.3 339.4h0M292.9 343.4h0M297.9 348.6h0M298.9 391.8h0M301.7 345.6h0M303.3 345.5h0M308.3 347.8h0M309.3 343h0M310.1 343.1h0M313 340.4h0M315.3 341.3h0M321 342.2h0M326.4 352h0M330.1 358.7h0M339.4 359.4h0M341.8 349.6h0M343.5 353h0M345.4 351.4h0M351.7 359.6h0M361.7 359.5h0M363.3 355.8h0M364.3 354.5h0M366.7 360.2h0M369.2 361.2h0M371.4 377.2h0M372.6 361.5h0M375.9 355.2h0M379.8 341.7h0M381.9 341.5h0M382.9 339.6h0M390 340.3h0M391.4 352.5h0M395.2 341.3h0M403.2 364.8h0M404.9 346.5h0M406.1 360h0M406.5 349.1h0M408.8 348.6h0M411.6 349.7h0M412.7 349.2h0M415.1 352.3h0M416.3 356.4h0M419.6 351.3h0M428.8 360.5h0M431.5 359.8h0M433.3 353.5h0M434.8 348h0M440.8 340.2h0M441.9 353h0M446.5 337.9h0M451.3 380.5h0M457.9 368h0M459.4 363.9h0M464.1 393.4h0M465.4 356.4h0M465.6 360.4h0M466.8 355.5h0M468.1 352.1h0M469.6 352.6h0M472.8 352.2h0M477.8 356.4h0M482.1 350.8h0M482.8 354h0M492.2 360.3h0M496 349.4h0M504.4 360.5h0M506.2 351.6h0M510.3 354.5h0M519 342h0M523.2 347.4h0M524.6 363.4h0M525.6 352.6h0M534.2 361.1h0M545.9 330.9h0M550.7 325h0M558 339.5h0M559.4 337.6h0M568.3 345.3h0M575.8 332.5h0M580.3 343.7h0M583.3 331h0M588.8 343.7h0M595.6 341.3h0M599.5 336.9h0M601.7 364.9h0M606.7 333.2h0M609.7 336h0M613.8 358.1h0M615.8 345.1h0M616.7 386.3h0M618.3 333.1h0M619.7 325h0M622.6 319h0M625.7 323.1h0M633.6 326.8h0M636.4 316.9h0M640 315.2h0M642.5 320.8h0M646.2 317.2h0M652.6 329.6h0M654.5 321.3h0M663 331.5h0M667.1 336.8h0M675.5 321.8h0M681 309.1h0M681.6 302.2h0M683.8 303.1h0M689 297.4h0M702.2 315h0M702.9 294h0M706.5 280.5h0M710.3 287.8h0M711.5 278h0M715.6 307.1h0M717 283.3h0M717.9 290.6h0M719.3 285.1h0M719.6 297.4h0M726.8 294.9h0M730.1 294.9h0M738.6 304.4h0M741.5 299.6h0M748 304.6h0M751.2 306.9h0M761.8 291.4h0M768.5 293.6h0M770.7 300.3h0M774.9 306.6h0M776 339h0M879.8 277.7h0M882.6 287.1h0M883.8 286.1h0M884.6 292.4h0M886 281.2h0M886.9 271.9h0M888.3 296.8h0M890.2 283h0M891.3 295.2h0M896.7 294.8h0M897.8 282.4h0M899.8 295.3h0M903.4 297.6h0M907.2 296.2h0M908 286.8h0M908.7 295.5h0M909.9 296.9h0M910.9 272.3h0M912 290.6h0M913.1 290.3h0M914.4 292.3h0M915.4 295.8h0M918.2 296.9h0M919 291.5h0M921.3 292.3h0M921.9 284.1h0M922.7 290h0M924 296.4h0M925 296.5h0M928.2 296h0M928.8 293h0M929.7 294.4h0M930.6 285.8h0M931.8 291.7h0M934.2 298.2h0M937.2 280.7h0M937.9 295.8h0M939.2 287.8h0M939.9 291.7h0M941.3 291.5h0M944.2 295.4h0M948.2 297.1h0M949.8 286.3h0M952.7 296.5h0M953.7 277.2h0M956.1 280.6h0M957.3 286.2h0M958.3 289.7h0M959.9 296.8h0M963.9 294.9h0M964.9 272.7h0M967.3 281.9h0M967.6 294.1h0M968.6 295.8h0M973.7 294h0M975.6 295.3h0M978.5 277.9h0M980.1 293.8h0M981.2 287.7h0M981.9 288h0M985.3 281.2h0M989.4 289.7h0M990.4 288.6h0M990.6 279h0M993.9 285.7h0M995.1 283.1h0M885 312.4h0M892.2 319h0M893.3 317.8h0M893.8 312h0M895.9 319.5h0M897.2 320.6h0M897.9 314.5h0M899.4 312.8h0M901.5 313.1h0M905.2 321.3h0M907 327.3h0M908 325h0M910.2 316.1h0M910.6 329.7h0M913.5 327.3h0M913.7 344.8h0M915.6 330.7h0M916.7 314.4h0M924.3 324.8h0M924.6 327.5h0M925.6 319.9h0M927.9 333.4h0M932.3 319.3h0M938.2 318.8h0M939.6 317.3h0M941.9 335.1h0M943.5 317.7h0M945.1 319.3h0M948.4 316.3h0M953.6 318.7h0M955.1 320.1h0M956.2 316.8h0M956.8 324.2h0M958.6 327.5h0M959.8 326.9h0M962.5 321.6h0M965.5 315.8h0M967.5 314.2h0M973.4 320.7h0M975.3 319.7h0M976.3 327h0M989.6 325.4h0M995.7 275.1h0M996.1 244.5h0M996 272.8h0M995.8 245.9h0M995.9 242.6h0M997 282.1h0M996.8 275.4h0M996.8 252h0M997 269.6h0M997.3 284.8h0M998 279.2h0M997.5 277.5h0M997.5 280.7h0M997.8 272.1h0M997.7 277.6h0M998.5 255.4h0M999.3 282h0M998.9 251.6h0M999 270.9h0M999.3 257.2h0M998.6 281.3h0M1000.1 272.7h0M999.5 268.6h0M999.8 276.3h0M1000.4 244.3h0M1000.7 275.5h0M1001.3 271.7h0M1001.1 264.3h0M1000.7 261.4h0M1002.4 274.5h0M1002 277h0M1002.2 268.5h0M1002.6 270.2h0M1002.5 253h0M1003.6 278.7h0M1003.6 277.9h0M1005.3 265.6h0M1006.1 275.9h0M1005.6 278.6h0M1007.5 258.4h0M1007.3 270.2h0M1007.3 275.1h0M1007.7 238.8h0M1007.6 268.2h0M1008 265.8h0M1008 265.4h0M1008.8 278.8h0M1008.8 250h0M1008.8 243.5h0M1009.3 269.3h0M1009.9 248.2h0M1009.5 256.1h0M1009.6 257.9h0M1010.1 274.3h0M1009.9 258.9h0M1010.8 268.7h0M1010.7 274.4h0M1011.3 261.8h0M1011.4 267.3h0M1011.3 269.5h0M1012.4 245.5h0M1012.4 257.8h0M1012 273.7h0M1012 260h0M1011.8 280.4h0M1011.9 255.9h0M1013.1 248.1h0M1012.9 278.3h0M1012.6 272.3h0M1012.9 244.4h0M1013 276.3h0M1013.7 261.6h0M1013.9 281.8h0M1014.5 274.4h0M1015.1 260.2h0M1015 265.6h0M1014.7 276.7h0M1015.2 280.8h0M1015.4 278.1h0M1016.4 275.5h0M1015.7 280.3h0M1015.9 253.8h0M1016 239.6h0M1017.2 267.5h0M1016.6 254.2h0M1017 247.9h0M1017.9 281.9h0M1018.4 276.3h0M1017.5 281.2h0M1018.3 271.8h0M1018.2 276.4h0M1018.1 241.7h0M1018.6 258.1h0M1019.4 276.6h0M1018.8 277.8h0M1019 279.4h0M1020 278.5h0M1020 280h0M1020.1 274h0M1020.7 272h0M1021.4 264.2h0M1020.8 275.2h0M1021.4 269.9h0M1020.7 273.3h0M1021 269.3h0M1021.7 243.7h0M1021.9 262.7h0M1021.9 265.9h0M1022.1 268.6h0M1022.8 281.3h0M1022.8 267.3h0M1023.1 278.9h0M1023.7 277.5h0M1024.4 263.8h0M1024 279.9h0M1024.5 276h0M1025.5 276.1h0M1024.8 278.7h0M1025.5 273.1h0M1025.1 263.9h0M1025.8 261.2h0M1025.9 273.4h0M1025.8 277.7h0M1025.9 262.9h0M1027.2 247.9h0M1026.8 264.6h0M1027.2 249.6h0M1027.9 265.2h0M1027.5 276.1h0M1028 271.6h0M1028.4 278.5h0M1028.6 271.2h0M1029.1 279.7h0M1028.9 242.7h0M1028.7 239.8h0M1028.7 271.1h0M1028.5 281.4h0M1030.1 279.6h0M1030 271.7h0M1029.6 281.2h0M1030.5 265.1h0M1029.6 277h0M1031 237.7h0M1030.8 240.8h0M1030.8 273.8h0M1031.1 271.6h0M1031.3 238h0M1030.7 247.7h0M1030.7 242.8h0M1032.5 271.4h0M1032.2 272.1h0M1032.1 253.2h0M1032.2 278.4h0M1032.6 275h0M1033.2 280.7h0M1032.9 281.6h0M1033.4 247.3h0M1033.9 279.9h0M1033.9 281.3h0M1033.8 265.2h0M1035 278.5h0M1035 272.9h0M1035 267.6h0M1036.5 277.8h0M1037.4 246.1h0M1036.9 264.7h0M1036.7 278.8h0M1037.3 270.8h0M1037.8 281.1h0M1037.7 269.1h0M1037.8 246.1h0M1038.4 280h0M1038.6 276h0M1039.4 262.9h0M1038.9 272.3h0M1039.3 255.4h0M1039.4 281.9h0M1040.3 268.9h0M1039.8 278.4h0M1039.9 275.2h0M1039.6 271.6h0M1040.5 279.6h0M1040.8 254.2h0M1041.1 273.1h0M1040.7 256.2h0M1041.2 257.4h0M1042.5 269.4h0M1041.8 265.5h0M1042.4 256.2h0M1043 268.7h0M1043.1 274h0M1043.1 252.7h0M1042.9 280.5h0M1044.4 274.2h0M1043.9 245.9h0M1043.7 275.5h0M1044.3 258.3h0M1044.1 268.5h0M1045 278.8h0M1045 277.9h0M1044.7 274.2h0M1045.4 275.3h0M1045.7 244.4h0M1046.2 270.6h0M1045.9 278.5h0M1046.5 254.8h0M1046 279h0M1047.4 269.7h0M1047.3 281.7h0M1046.9 243.4h0M1047.3 251.8h0M1046.6 270.5h0M1047.9 248.7h0M1047.6 264.1h0M1049.2 277.9h0M1049.2 277.6h0M1049.5 266.6h0M1050.4 273.8h0M1049.6 266.8h0M1050.1 280.4h0M1051 280.5h0M1051 275.5h0M1051.2 269.5h0M1051.4 278.7h0M1051.9 265.1h0M1052.1 275.4h0M1053.5 271.6h0M1053.1 267h0M1053.4 277h0M1052.8 264h0M1054.4 275.7h0M1053.8 248.2h0M1053.5 267.6h0M1054.9 268.6h0M1054.7 281.9h0M1054.8 277.6h0M1055.1 276.8h0M1056 269h0M1055.9 278.2h0M1055.9 276.5h0M1056.5 277.1h0M1057.4 268.9h0M1057.4 259.8h0M1057.5 241.2h0M1057.2 274.2h0M1057.4 269.6h0M1057.7 280h0M1057.7 272.4h0M1058 274.9h0M1057.8 261h0M1059.5 262.3h0M1059.4 261h0M1059.5 271.7h0M1060.2 267.8h0M1060.3 280.6h0M1061.5 241.6h0M1061.5 272.3h0M1060.7 279.1h0M1061.3 248.2h0M1061.9 276.9h0M1061.5 269.8h0M1063.2 272.6h0M1062.7 281.5h0M1064.2 277.4h0M1063.9 275.9h0M1065.5 252.9h0M1064.8 259.5h0M1065.1 281.1h0M1064.7 281.7h0M1065.5 277.8h0M1066.5 281h0M1065.5 245.3h0M1067.4 257h0M1066.8 257.7h0M1066.6 261.9h0M1067.3 268.8h0M1068.4 280.1h0M1067.7 275.9h0M1068.5 273.9h0M1068.9 247.9h0M1069.2 263.7h0M1069.9 263.6h0M1069.7 260.1h0M1070.2 277.9h0M1070.2 279.7h0M1070.9 263.1h0M1071.3 272.9h0M1070.9 279.9h0M1071.8 265.2h0M1071.5 257.8h0M1072 241.7h0M1072.8 280h0M1072.9 253.2h0M1072.6 277.3h0M1072.5 261.3h0M1073 261.3h0M1072.6 260.6h0M1074.2 279.2h0M1074.4 260.8h0M1074.1 265.9h0M1073.8 265h0M1075.4 277.9h0M1075 270.4h0M1076.2 251.7h0M1076.1 276.2h0M1076.3 275.8h0M1075.7 259.1h0M1076.5 268.6h0M1076.7 273.2h0M1076.6 261.3h0M1077 259.6h0M1077.3 264.8h0M1077.3 268.9h0M1077.3 274.3h0M1077.9 268.5h0M1077.8 277.1h0M1077.9 281.5h0M1077.7 261.1h0M1077.7 271.6h0M1078.8 253.1h0M1079.5 274.9h0M1080.4 279.5h0M1081.4 275.1h0M1083.9 278.8h0M1085.3 265.8h0M1084.9 279.1h0M1085.7 273.6h0M1085.5 267.9h0M1086.2 276.5h0M1087.3 247.1h0M1086.6 279.7h0M1087.1 273.5h0M1086.9 276.5h0M1087.9 236.9h0M1087.9 256.7h0M1087.6 269.8h0M1088.3 266.6h0M1088.3 266.4h0M1088.2 277.2h0M1088.7 237.6h0M1089.3 253.7h0M1089.2 249.1h0M1089.8 269.3h0M1090 252.9h0M1090.3 280.9h0M1090.1 268.7h0M1091.1 272.3h0M1090.8 257.7h0M1091.1 276.3h0M1092.3 272.3h0M1092.1 280.5h0M1091.9 235.4h0M1092.2 276h0M1092.8 277.5h0M1092.7 275.9h0M1092.8 279h0M1094.1 281.3h0M1094 249.4h0M1093.5 267.6h0M1093.8 246h0M1094.2 250.7h0M1094.1 254.3h0M1095 280.4h0M1095.2 277.8h0M1094.6 281.3h0M1095.4 281.7h0M1095.9 242.6h0M1096.5 269h0M1095.9 263.7h0M1095.6 273.5h0M1095.6 266.8h0M1097.1 274.7h0M1096.7 269h0M1098.4 278.6h0M1098.7 275.9h0M1100.2 278.4h0M1100.8 280.7h0M1101.1 280.6h0M1102.4 277.3h0M1103 281.4h0M1104.5 248.4h0M1104.1 278.7h0M1103.6 260.1h0M1105.1 272.3h0M1105 275.8h0M1105.7 281.4h0M1105.9 281.5h0M1106.7 243.1h0M1107.1 277.1h0M1106.9 262.2h0M1107.1 279.3h0M1108.3 277h0M1108.5 271.6h0M1107.9 278.7h0M1107.6 277.5h0M1109.4 273.5h0M1108.5 255.4h0M1109.2 272.1h0M1109.2 279.9h0M1110.1 263.5h0M1110.2 282h0M1110.4 280h0M1110.5 281h0M1111.1 275.6h0M1111.2 275.8h0M1110.8 281h0M1111.2 279h0M1112 274.7h0M1112.3 249.8h0M1111.7 277.1h0M1111.5 264.9h0M1111.7 240.9h0M1112 252.5h0M1113 274h0M1113.4 281.5h0M1112.6 255.9h0M1112.9 268.2h0M1112.9 264.9h0M1114.3 275.6h0M1114.3 259.6h0M1114.5 269.1h0M1114.4 267.7h0M1115.1 268.3h0M1115 253h0M1115.3 281.4h0M1114.8 280.9h0M1115.6 274.2h0M1116.2 274.3h0M1118.3 278.5h0M1118.6 277.5h0M1118.6 268.7h0M1120.2 280.5h0M1120.2 278.6h0M1120.4 280.9h0M1121.4 260.2h0M1121.4 272.5h0M1121 238.3h0M1121.3 262.2h0M1121.7 269.6h0M1122.1 273.1h0M1121.5 242.1h0M1122.5 275h0M1121.8 252.1h0M1123.2 278.5h0M1122.7 276.1h0M1123.8 237.8h0M1123.6 270.7h0M1124.4 236.3h0M1123.8 255.1h0M1124.2 252h0M1125.1 275h0M1124.9 256.2h0M1124.8 267.3h0M1125.4 273.8h0M1125.4 280.7h0M1125.3 276.9h0M1125.6 272.9h0M1126.5 281h0M1125.6 277.1h0M1126.2 279.7h0M1127.1 262.2h0M1127.2 257.6h0M1127.1 277.6h0M1127 262.8h0M1127.6 267.5h0M1127.6 245.2h0M1128.3 260.3h0M1127.7 275.9h0M1129.2 254.5h0M1128.7 276.5h0M1128.9 261.6h0M1129.4 261.6h0M1128.6 280h0M1129.1 250.1h0M1130.1 266.1h0M1129.9 271.6h0M1129.8 280.6h0M1129.6 243.3h0M1130.7 250.7h0M1131.3 278.9h0M1131.4 281.2h0M1131.3 250.4h0M1131.3 280.3h0M1132.3 234.7h0M1132 280.6h0M1131.9 278.8h0M1132.4 258.5h0M1132.8 278.1h0M1132.7 274.1h0M1133.3 259.6h0M1132.8 269.7h0M1134 271.5h0M1133.9 277h0M1134.1 269.6h0M1134.9 281.1h0M1135.1 260.7h0M1135.8 250.6h0M1136 265.3h0M1136.1 264.1h0M1136.9 281.9h0M1137.3 272.8h0M1137.2 265.3h0M1136.7 276.1h0M1138 281.5h0M1137.7 241.3h0M1137.5 281.8h0M1137.8 279.9h0M1138 279.8h0M1138.6 278.2h0M1139.3 267.5h0M1138.5 248.3h0M1138.7 279.8h0M1139.6 280h0M1140.1 264.2h0M1139.6 275.5h0M1140.1 253.3h0M1140.8 252.7h0M1140.9 267.3h0M1141.1 261.2h0M1141.6 276.8h0M1142 259.3h0M1142.2 249.9h0M1142 256.3h0M1143.2 256h0M1143.9 278.6h0M1143.8 273.5h0M1145.2 264.1h0M1145.4 265.8h0M1146.4 275.6h0M1146.4 249.8h0M1146.4 266.5h0M1147.1 241.4h0M1146.8 260.8h0M1146.9 272.7h0M1146.9 268.6h0M1148.3 278.4h0M1148 276.7h0M1148.3 278.4h0M1148.7 240.2h0M1148.9 257h0M1149.5 254.7h0M1149.5 258.1h0M1148.9 272.4h0M1149.9 249.9h0M1150.2 277.6h0M1150.3 238.2h0M1150.5 277.2h0M1149.7 236.3h0M1151.1 277.2h0M1150.7 270.5h0M1150.6 267.1h0M1150.8 237.4h0M1152 275h0M1152.3 278h0M1152.1 267.4h0M1152.6 269.7h0M1152.8 276.9h0M1153.4 279.9h0M1153.8 272.1h0M1153.7 277h0M1154.5 281.1h0M1154.8 270.1h0M1156 263.6h0M1155.9 271.5h0M1156 280.7h0M1155.8 275.9h0M1156.9 281.4h0M1156.6 272.7h0M1157.2 267h0M1156.9 250.7h0M1156.8 275.4h0M1158.1 274.5h0M1158.1 274.8h0M1157.8 272.9h0M1158.2 255.7h0M1159.4 276.8h0M1159.3 238.2h0M1159 276.2h0M1159.2 255.6h0M1158.7 270.3h0M1158.6 272.9h0M1159.7 275.6h0M1160.4 278.5h0M1159.8 250.5h0M1160.3 275.7h0M1159.6 261.8h0M1161.3 254.7h0M1161.3 274.7h0M1160.6 270.6h0M1161 281.8h0M1161.2 253.2h0M1161 250.8h0M1162.4 260.4h0M1162 281.7h0M1161.5 277.3h0M1162.7 274.9h0M1163.1 261.6h0M1163.4 272.7h0M1163.1 268h0M1164.3 279.5h0M1164.1 255.4h0M1163.8 248.1h0M1164.4 266.5h0M1164.1 278.4h0M1164.7 260.6h0M1165.5 277.6h0M1164.6 276.4h0M1165.5 261.8h0M1165.8 274.9h0M1166.5 264.7h0M1166.6 280.9h0M1166.6 275.4h0M1167.3 269.6h0M1167.2 262.8h0M1167 268.6h0M1167.2 273.1h0M1167.6 271h0M1167.6 236.7h0M1168.1 277h0M1168.2 254.8h0M1167.9 269.9h0M1168 234.9h0M1169.5 248.5h0M1169 270.3h0M1168.9 265.5h0M1168.7 274.8h0M1168.6 235.1h0M1169.8 267.9h0M1169.9 262.5h0M1169.6 269.2h0M1170.5 269h0M1171.2 273.7h0M1171.2 275.7h0M1171.5 268.4h0M1171.9 276.7h0M1172.5 267.5h0M1173.2 281.7h0M1174 275.7h0M1175 276.4h0M1174.8 279.2h0M1176.3 278.2h0M1175.9 274.2h0M1177.2 280h0M1176.7 273.3h0M1177.4 245.8h0M1177.3 275h0M1177.9 243.6h0M1178.3 251.7h0M1177.8 272.2h0M1177.9 261.6h0M1178.2 268.9h0M1178.9 275.7h0M1178.6 271.9h0M1178.7 235.8h0M1179.3 249.7h0M1179.6 278.6h0M1179.8 267.7h0M1179.7 281.3h0M1180.4 281.6h0M1180.5 247.1h0M1181.2 248.5h0M1180.9 252.9h0M1180.6 258.1h0M1180.7 279.2h0M1181.5 267.3h0M1182.4 270.2h0M1182.2 274.8h0M1183.3 269.4h0M1182.7 265.7h0M1182.7 268.9h0M1183.8 252.6h0M1183.7 278.3h0M1184.3 278h0M1184.5 278.5h0M1185.3 263.6h0M1185.1 264.8h0M1184.9 264.7h0M1185.8 265.9h0M1186.2 255.6h0M1185.5 270h0M1187.4 263.4h0M1186.8 251.9h0M1186.6 261.9h0M1187.3 261.5h0M1187.6 253.5h0M1188.5 249.9h0M1188 275.7h0M1188.8 272.8h0M1189.8 258.3h0M1190.1 279h0M1189.9 278.2h0M1190.8 281.1h0M1192.2 281h0M1192.5 271.4h0M1192.8 269.1h0M1192.9 280h0M1194.2 267.8h0M1194.2 278.5h0M1195 278.2h0M1195.9 279.1h0M1195.9 239.9h0M1197.1 278.8h0M1198 281.6h0M1199.1 281.2h0M1199 275.1h0M1200 272.6h0M1199.7 270.6h0M1201 277.9h0M1201.2 276.9h0M1201.1 278.9h0M1201.8 274.5h0M1201.7 278.6h0M1202.2 278.4h0M1201.5 278.7h0M1203.4 280.5h0M1203.4 276.1h0M1202.6 276.9h0M1203.1 277.8h0M1203.7 274.6h0M1204.1 268.6h0M1204.2 279.6h0M1204.6 253.5h0M1205.4 277h0M1204.5 276.1h0M1205.5 271.7h0M1206.3 267.1h0M1206.2 244.4h0M1207.4 277.2h0M1207 280.5h0M1207.9 266.3h0M1208.4 274.5h0M1207.9 265.9h0M1209.1 258.8h0M1209.2 244.4h0M1208.6 274.7h0M1208.6 272.7h0M1209.6 277.9h0M1210.2 259.7h0M1210 239.9h0M1211.2 265h0M1210.7 266.3h0M1211.1 271.1h0M1210.9 264.3h0M1211.5 278.5h0M1212.2 279h0M1211.8 272.8h0M1213.4 282h0M1213.2 259.6h0M1213.3 277.1h0M1213.6 281.1h0M1213.8 278.1h0M1215.1 266.5h0M1214.9 262.4h0M1214.6 273.2h0M1216.3 240.7h0M1216.1 277.8h0M1215.6 263.4h0M1216.1 280.8h0M1216.9 260.7h0M1217.4 267.4h0M1216.9 264.6h0M1216.9 277h0M1217.6 273.5h0M1217.8 256h0M1218.1 268.2h0M1217.6 246.9h0M1218.3 272.4h0M1219.2 241.2h0M1218.8 259h0M1220.1 269.7h0M1219.8 263.6h0M1220.1 242.3h0M1220.1 259.7h0M1220.5 246.3h0M1221.2 260h0M1221.3 276.7h0M1221.3 263.9h0M1220.7 264.1h0M1221.8 243.9h0M1221.9 261.5h0M1221.7 273.2h0M1221.9 258.8h0M1221.6 279.2h0M1223.1 269.3h0M1222.6 270.9h0M1223.3 236.5h0M1223.5 280.6h0M1222.5 250h0M1223.5 275.6h0M1224.1 266.4h0M1224.2 267.1h0M1223.9 269.7h0M1224.7 260h0M1224.6 258.4h0M1224.7 267.2h0M1225.5 255.7h0M1225.1 262h0M1225.5 256.2h0M1225.9 280.7h0M1226.3 258.5h0M1226.3 277.6h0M1225.7 259.5h0M1227 239.3h0M1226.8 282h0M1226.7 271.1h0M1226.8 275.6h0M1228 271.9h0M1227.8 262h0M1228.1 274.5h0M1228.1 262.8h0M1229.1 277.4h0M1229.2 256h0M1229.3 275.3h0M1228.5 267.2h0M1229.6 279h0M1230.4 269h0M1229.6 257.8h0M1230.9 275.7h0M1236.4 281.9h0M1235.8 280.9h0M1236.7 281.2h0M1236.8 257.6h0M1237.3 278.3h0M1238.3 280.7h0M1238.2 251.7h0M1238.3 282h0M1239.1 258.8h0M1239.2 273.9h0M1238.5 244.8h0M1239.2 265.3h0M1240.2 257h0M1240 280.1h0M1240 255.8h0M1239.5 277.6h0M1241.5 273.9h0M1241.1 280h0M1242.1 272.1h0M1242.3 270.3h0M1242.2 272.9h0M1243.2 252.1h0M1243.2 236.9h0M1243.4 247.8h0M1243.4 275.9h0M1244.3 279.1h0M1244.4 280.1h0M1244 262.4h0M1243.7 272.4h0M1244.9 254.4h0M1244.9 242.2h0M1244.9 281h0M1245.4 269.8h0M1245.7 254.5h0M1246.1 258.1h0M1245.6 281.3h0M1245.5 261.3h0M1246.3 238.4h0M1246.8 239.9h0M1246.7 267.1h0M1246.9 277.8h0M1246.7 256.8h0M1247.1 268.2h0M1246.9 275.6h0M1247.6 271.4h0M1248.1 261.1h0M1248.4 256h0M1247.9 272.7h0M1247.9 268.3h0M1248.4 239.9h0M1249.5 276.6h0M1248.8 241.5h0M1248.7 276.6h0M1249.2 278.1h0M1248.8 266.7h0M1249.7 279.7h0M1250.4 252.2h0M1250.2 274h0M1251 269h0M1251 278.6h0M1251.2 240.9h0M1252.3 271.5h0M1251.7 272.7h0M1252.5 254.9h0M1252.1 266.2h0M1252.8 277h0M1252.5 268.4h0M1253.1 271h0M1252.9 255h0M1254.2 248.8h0M1253.6 269.4h0M1255 273.6h0M1255 268.6h0M1254.6 261.9h0M1256.3 261.6h0M1255.7 259.9h0M1256.3 246h0M1256.3 249.6h0M1255.9 248.2h0M1256 245.7h0M1255.6 236.8h0M1257.1 240.6h0M1256.6 264.3h0M1257.3 277.3h0M1257.5 275.4h0M1256.9 275.9h0M1256.9 261.7h0M1258.2 281.1h0M1258.3 279.8h0M1258 278.1h0M1257.7 278.7h0M1258.7 243.2h0M1259.1 272.7h0M1259.2 259.3h0M1258.9 270.5h0M1259.9 270.7h0M1260 269.7h0M1259.6 279.2h0M1260 275.1h0M1260.2 277.1h0M1260.7 273.2h0M1260.7 274.4h0M1261.5 280.8h0M1262.2 259.5h0M1261.5 279.4h0M1262.2 263.5h0M1262.5 248.4h0M1263 238.4h0M1262.9 279.3h0M1263.2 267.5h0M1264.4 274.6h0M1263.9 265.3h0M1264.5 267.8h0M1264.7 275.3h0M1266.3 277.6h0M1265.6 267.8h0M1266.8 273h0M1267.5 276.9h0M1267.9 266.5h0M1268.5 281.4h0M1269.3 273.3h0M1268.7 277h0M1271 279.8h0M1271.6 279.1h0M1273.2 259.6h0M1272.8 266.7h0M1272.6 249.5h0M1274.2 278.5h0M1273.7 272.7h0M1275.2 276.8h0M1274.9 272.5h0M1274.7 248.2h0M1275.9 253.1h0M1276.3 276.8h0M1276 249.2h0M1276.2 275.5h0M1276.8 271h0M1277.1 269.1h0M1276.8 268.7h0M1276.6 242.8h0M1276.7 246.9h0M1278.1 265.6h0M1278 248.6h0M1278.1 275.5h0M1278 250.1h0M1278.3 280h0M1279 267.2h0M1279.3 264.1h0M1278.9 278.3h0M1279.3 278.9h0M1279.3 271.3h0M1279.8 258.6h0M1279.6 244.4h0M1279.9 278.6h0M1280.5 260h0M1279.6 252.6h0M1281.2 279.5h0M1280.9 281.9h0M1280.7 274.1h0M1281.3 250.3h0M1282.2 264.2h0M1281.9 274h0M1281.6 259.7h0M1281.6 275.7h0M1283 275.7h0M1282.7 281.1h0M1283.5 244.9h0M1283.6 260.7h0M1283.6 251.7h0M1284 264.8h0M1285.2 266.2h0M1285.3 240.1h0M1285.4 275.4h0M1285 275.2h0M1284.9 273.3h0M1285.9 260h0M1286 237.4h0M1285.8 252.5h0M1286.2 270.8h0M1286.8 274.1h0M1287.3 259.2h0M1286.6 271.8h0M1288.2 266.8h0M1287.7 280.3h0M1288.8 261h0M1288.8 262.2h0M1289 280.2h0M1290.1 271.2h0M1289.6 277.5h0M1290.1 251.9h0M1290.5 275.2h0M1291 273.5h0M1290.9 252.1h0M1290.7 258.1h0M1290.8 250.6h0M1291.4 269.3h0M1292 280.4h0M1291.9 260.8h0M1292.3 270.8h0M1292 239.6h0M1292.1 253h0M1291.6 278.4h0M1293.3 265h0M1293.2 266h0M1292.9 253h0M1293.1 279.4h0M1292.6 276.1h0M1292.7 249.6h0M1294.3 269.5h0M1294.4 275.8h0M1294.2 278.7h0M1294.4 248.6h0M1294.6 275.8h0M1295.1 281.3h0M1295.3 276.4h0M1294.7 264.1h0M1295.2 251.4h0M1295.6 256.9h0M1295.5 257.8h0M1296 275.6h0M1296.2 278h0M1296.8 264.5h0M1296.9 277.5h0M1297.2 278.6h0M1297.3 261h0M1296.9 272.9h0M1298.2 278.3h0M1297.8 236.7h0M1297.9 281.1h0M1299.4 279.6h0M1298.6 261.7h0M1299.1 254.7h0M1300.3 272.5h0M1299.5 269.6h0M1300 256.7h0M1299.6 258.2h0M1300.7 280.9h0M1300.7 281.1h0M1301 274.5h0M1300.9 278.3h0M1301.8 281.4h0M1301.5 245.7h0M1302.5 266h0M1301.8 273.8h0M1303.2 267.8h0M1303.3 270.7h0M1302.8 275.5h0M1302.6 281.1h0M1302.9 275.2h0M1303.9 281.1h0M1303.8 269.1h0M1304.3 252.9h0M1303.8 275.3h0M1304.6 261.9h0M1304.9 247.4h0M1304.8 246h0M1304.5 266.9h0M1305.2 262.2h0M1305 264.6h0M1306.4 273.7h0M1305.8 268h0M1306.3 259.1h0M1305.8 264.5h0M1305.6 273.8h0M1306.2 282h0M1306.6 242.3h0M1307.3 274.5h0M1307.1 240.4h0M1307.2 276.5h0M1306.7 279.9h0M1308.3 266.7h0M1308.2 275.2h0M1308.1 273.5h0M1308.1 263.4h0M1308.7 253.8h0M1308.6 281.7h0M1308.6 278.8h0M1309.2 261.4h0M1309 275.7h0M1309.6 279.9h0M1309.8 237.4h0M1309.6 247.7h0M1310.3 265.3h0M1310.5 272.9h0M1311.3 255.3h0M1310.8 274.8h0M1311 279.9h0M1311.9 278.7h0M1312.2 279.8h0M1311.7 275.7h0M1311.6 253.3h0M1313.5 275.4h0M1312.7 264.5h0M1313.3 250.7h0M1313.1 265.5h0M1313.6 271.4h0M1314.3 280.9h0M1314.1 270.6h0M1314.3 237.3h0M1315.1 278.7h0M1315.4 276h0M1314.7 273.2h0M1316.5 273.1h0M1316.3 280.1h0M1323.1 279.2h0M1324 259.1h0M1324.3 280.8h0M1324.7 281.6h0M1326.1 277.6h0M1326 270.1h0M1327.5 258.2h0M1327.6 278.4h0M1328.9 272.9h0M1328.7 263.5h0M1329.5 258.6h0M1329.8 266.3h0M1329.9 270.2h0M1329.7 236.7h0M1330.9 274.3h0M1331.3 273.3h0M1331.7 275.9h0M1332.2 278.7h0M1331.9 268h0M1332.5 248.5h0M1333 260.8h0M1333 257.4h0M1332.7 277.3h0M1332.6 264.8h0M1333.9 278.7h0M1333.9 245.8h0M1334.1 259.7h0M1334.1 281.1h0M1335.2 271.8h0M1335.2 277.1h0M1335 267.9h0M1334.7 265.6h0M1336 253h0M1336 247.4h0M1336.5 242.9h0M1336.3 253.9h0M1336 269h0M1337.3 279.1h0M1337.4 238.9h0M1336.8 280.1h0M1337.2 278.1h0M1337.1 271.7h0M1336.7 260.1h0M1338 269.7h0M1338.1 281.2h0M1337.6 278.4h0M1337.8 276.4h0M1338.4 281.8h0M1337.8 259.3h0M1339.2 269h0M1339 236.3h0M1338.8 239.3h0M1339.2 260.9h0M1339.2 279.9h0M1339.4 273.4h0M1338.7 280.5h0M1339.9 257.5h0M1339.7 267.5h0M1339.9 234.2h0M1339.6 260.6h0M1339.9 256.6h0M1339.9 250.6h0M1341.3 263.1h0M1340.8 261.7h0M1341.4 279.5h0M1342.4 274.9h0M1341.8 270h0M1342.1 270.2h0M1341.9 266.4h0M1342.6 281.8h0M1342.6 264.5h0M1343.7 277.1h0M1343.7 275.1h0M1345.1 277.6h0M1345.1 258.5h0M1345.1 254.7h0M1346.4 252.2h0M1346.1 277.9h0M1346.2 254.6h0M1345.6 269.6h0M1345.6 270.3h0M1347.1 276.6h0M1346.9 266.6h0M1346.5 273h0M1346.7 268.3h0M1348.1 281.8h0M1348.4 271.2h0M1348.4 261.4h0M1348 277.8h0M1349.1 279.3h0M1349.4 259.2h0M1348.9 257.6h0M1350 277.7h0M1349.6 275.7h0M1350.2 268.3h0M1350.6 273.4h0M1351.7 259.4h0M1351.7 278.6h0M1352.9 274.9h0M1353.2 279.2h0M1354.2 278.4h0M1354.1 257h0M1353.5 279.9h0M1354.6 278.9h0M1354.5 268.3h0M1355.6 279h0M1355.8 261.8h0M1356.7 278.2h0M1357.2 281.6h0M1356.6 276.5h0M1358.2 278.5h0M1357.7 274.7h0M1359 272.8h0M1360.4 281.9h0M1361.3 266h0M1362 263.1h0M1362.3 271h0M1363.5 266h0M1362.6 272.9h0M1364.2 264.6h0M1363.8 260.9h0M1364.4 277.6h0M1365.4 278.7h0M1365.2 280.7h0M1365.4 258.6h0M1365 258.4h0M1364.9 258h0M1365.7 275.1h0M1365.5 272.5h0M1366.3 281h0M1366.9 272.6h0M1366.5 237.6h0M1366.6 281.1h0M1367.8 283.9h0M1368.4 272.2h0M1368.8 284.5h0M1368.9 277.5h0M1370.3 280.8h0M1371 283.7h0M1370.6 259.7h0M1372.5 248.4h0M1372.2 283.6h0M1372.5 281.4h0M1377.3 284.4h0M1377.5 285h0M1377.8 277.8h0M1379.4 281.8h0M1378.9 277.7h0M1380.1 281.2h0M1379.6 275.1h0M1379.6 283.1h0M1379.7 279.5h0M1380.6 282.7h0M1380.5 261.3h0M1381.3 286.3h0M1381.7 266.7h0M1381.7 284.1h0M1383.2 267.1h0M1383.3 266.5h0M1384.3 277.3h0M1384.1 286.3h0M1384.5 257.2h0M1384.9 288h0M1385.8 287.9h0M1387.1 271.8h0M1387.5 260.4h0M1388 271.9h0M1388 280.5h0M1388.5 249.1h0M1388.9 274.9h0M1389 280.4h0M1389.9 279.3h0M1390 269h0M1389.8 269h0M1391.3 284.2h0M1391.4 278.4h0M1390.9 275.3h0M1391.8 282.6h0M1391.6 269.3h0M1392.9 287.9h0M1395.9 289.3h0M1396.9 288.9h0M1397.7 289.2h0M1397.9 288.2h0M1399 274.9h0M1400.5 286.6h0M1401.1 280.9h0M1401.6 279.5h0M1402.5 286.9h0M1402.6 281.9h0M1404.5 287.6h0M1405.5 265h0M1405.6 288.2h0M1406.3 278.3h0M1407 281.5h0M1408.1 286.1h0M1408.8 276.5h0M1410.5 290.7h0M1410.1 286.9h0M1410.6 287.4h0M1411.9 274.2h0M1412.8 273.4h0M1412.8 268.9h0M1414.2 250.3h0M1414.1 257.6h0M1415.4 278.9h0M1415 266.8h0M1416 277h0M1416.1 284.8h0M1416.1 269.7h0M1417 290.7h0M1416.9 277.6h0M1417.8 287.7h0M1417.6 269.7h0M1418.8 267.1h0M1420.4 277.4h0M1423.4 291.8h0M1424.2 263.1h0M1424.3 284h0M1425.1 278.3h0M1425.1 285h0M1425.8 287.6h0M1425.6 287.2h0M1426.6 277.8h0M1428.4 289.4h0M1432.3 289.5h0M1433.4 290.9h0M1432.5 293.7h0M1434.4 250.7h0M1435.2 283.8h0M1435.5 253.9h0M1435.9 261.7h0M1435.8 279.1h0M1437.2 285.3h0M1437.9 293.7h0M1437.6 286.6h0M1438.7 263.6h0M1439.1 286.2h0M1439.7 290h0M1440.4 290.7h0M1440.7 286.5h0M1440.6 274.7h0M1441.7 264.1h0M1442 276.8h0M1442.2 290.8h0M1443.2 291.3h0M1442.7 279h0M1442.9 276.8h0M1443.8 260.6h0M1444.3 285.7h0M1445.2 289.5h0M1445.3 281.6h0M1446.1 274.5h0M1445.8 273.3h0M1445.5 255.1h0M1446.6 293.2h0M1447.8 275.7h0M1447.8 289.4h0M1447.9 272.5h0M1448.7 287.3h0M1448.8 252.4h0M1450.1 284.5h0M1450.1 291.9h0M1449.7 279.7h0M1451.3 261h0M1451.5 266h0M1450.8 266.5h0M1451.7 293h0M1452.4 255.1h0M1452.8 290.5h0M1453.9 289.6h0M1456.8 268.2h0M1458.1 289.1h0M1458 280.2h0M1458.5 280.7h0M1459.7 296.4h0M1461 289.9h0M1461.1 278.8h0M1462.4 292h0M1463.4 292.3h0M996.1 341.5h0M995.8 330.9h0M997.4 324.8h0M997.4 326.4h0M998 334.6h0M997.6 332.6h0M999.1 330.4h0M999.5 341.4h0M998.5 329h0M1000 351.1h0M1000.5 336.3h0M1001.3 335.8h0M1001.3 326.9h0M1001.4 327h0M1001.8 336.2h0M1002 326.6h0M1001.9 328h0M1001.6 327h0M1003.1 340.3h0M1003.3 334.7h0M1003.1 334h0M1004.2 326.1h0M1003.8 335.2h0M1004 346.7h0M1004.9 359.2h0M1005 348.9h0M1005.2 336.9h0M1006.4 336h0M1006.1 345.5h0M1005.8 342.7h0M1007.2 365h0M1006.6 383.3h0M1006.7 329.5h0M1006.8 375.3h0M1008.3 338.2h0M1008.1 381.6h0M1007.5 370.9h0M1008.3 331.5h0M1008.4 370.4h0M1008.4 353.3h0M1008.5 342.4h0M1009 362.6h0M1009.1 351.5h0M1008.6 337.4h0M1008.8 387h0M1010.3 343.7h0M1010.2 339.8h0M1010.4 330.2h0M1009.9 362.4h0M1010.2 349.7h0M1009.6 353.1h0M1009.6 331.6h0M1010.5 359.3h0M1011.3 378.8h0M1011 334.1h0M1011.3 328.4h0M1011.3 343h0M1010.9 340.9h0M1011.3 347.2h0M1011.9 353.5h0M1011.7 331.8h0M1011.5 371.2h0M1012 369.5h0M1012 337.5h0M1012.2 339.9h0M1013 382.1h0M1012.7 348.4h0M1012.5 352.3h0M1013.4 367h0M1012.6 339.1h0M1013.1 330.7h0M1013.5 330.5h0M1013.6 327.3h0M1015 351.8h0M1014.6 347.2h0M1014.7 348.5h0M1014.9 347.5h0M1014.6 360.4h0M1016.3 383.1h0M1015.6 337.9h0M1016 347.5h0M1016.3 340.7h0M1015.9 329.2h0M1016 354.3h0M1016.7 353.5h0M1016.6 346.9h0M1016.5 335.7h0M1016.5 336.4h0M1016.6 328h0M1018.5 388.5h0M1018.5 344h0M1018 335.2h0M1018.5 342.5h0M1019.3 337.1h0M1019.1 337.4h0M1018.9 336.2h0M1018.6 345.2h0M1019.3 355h0M1018.7 328.6h0M1019.5 333.5h0M1019.7 332.4h0M1020.3 372.1h0M1020 328.8h0M1020.8 335.3h0M1020.9 331.7h0M1021.5 354.6h0M1021.4 388.7h0M1022.2 334.7h0M1023 328.3h0M1023.4 333.1h0M1022.9 344.6h0M1024 328.4h0M1023.8 333.7h0M1024.2 342.7h0M1024 382.3h0M1024.4 332.2h0M1025 380.7h0M1025.3 328.2h0M1025 330.7h0M1025.2 334.3h0M1025.4 343.8h0M1024.8 391h0M1025.2 336.5h0M1026 383.6h0M1025.7 334.9h0M1025.8 357.6h0M1026.5 363.6h0M1026 351.6h0M1027.1 366.4h0M1027 355.9h0M1026.6 339h0M1026.6 357.9h0M1026.9 344.7h0M1027.2 372.7h0M1027.1 388.6h0M1026.7 349h0M1028 342.8h0M1027.7 345.6h0M1028.3 336.6h0M1027.7 354.3h0M1027.8 338.1h0M1028.2 331h0M1029.3 341.9h0M1029.2 353.3h0M1029.2 375h0M1029.4 331h0M1028.6 369.3h0M1029.9 348.4h0M1030 348.1h0M1030.2 359.9h0M1030.2 351.9h0M1031.1 329h0M1031.1 339.5h0M1031.2 352h0M1030.8 331.9h0M1031.6 367.4h0M1032.5 331.1h0M1032.2 346.6h0M1032.9 337.4h0M1032.6 346.9h0M1034.4 348.5h0M1033.8 352.1h0M1033.8 338.3h0M1033.9 339.9h0M1034.9 372.8h0M1035.4 349.6h0M1035.4 337.9h0M1034.8 333.4h0M1035 366.2h0M1035 343.1h0M1035.8 341.6h0M1036.1 330.2h0M1035.6 351.1h0M1035.7 330.8h0M1037.1 331.8h0M1036.7 333.7h0M1038.2 353.1h0M1038.1 358.2h0M1038.1 339.3h0M1038.3 334.7h0M1038.7 347.7h0M1039.3 350.6h0M1039.2 371.2h0M1039.8 334.2h0M1039.9 353.3h0M1040.8 338.2h0M1041.4 344.6h0M1040.9 343.1h0M1042 346.9h0M1041.7 336.3h0M1042.5 342.8h0M1042.7 358.2h0M1043 332.2h0M1042.6 330.8h0M1043.7 359.1h0M1044 338.7h0M1043.6 335.9h0M1044.2 332.2h0M1044.9 331.3h0M1045.2 350.3h0M1044.9 338.3h0M1045.2 335.6h0M1045.7 332.4h0M1046.1 334h0M1045.9 336h0M1045.8 341.7h0M1046.8 342.5h0M1046.6 348.4h0M1046.6 348.4h0M1046.8 339.3h0M1047.1 343.5h0M1047.1 391.8h0M1047.6 362.2h0M1048.2 349.8h0M1047.8 347.2h0M1047.8 354.1h0M1047.9 369.5h0M1048.5 344.6h0M1048 347h0M1048.7 332.8h0M1048.6 350.4h0M1049.5 363.2h0M1049.4 353.2h0M1049 368.6h0M1049 331.2h0M1048.9 375.9h0M1049.8 350.8h0M1049.8 339.1h0M1050 361.1h0M1050.1 331.4h0M1049.7 377.6h0M1051.3 336.4h0M1050.7 352.2h0M1051 341.7h0M1050.7 347h0M1051.9 333.3h0M1051.8 331.6h0M1055.1 341.8h0M1056.2 335.5h0M1056.5 367h0M1056.9 335.4h0M1056.7 336.4h0M1057.1 340.3h0M1057.9 361.8h0M1058.4 338.4h0M1057.8 363.7h0M1058.3 341.5h0M1057.8 362.7h0M1058.4 337.5h0M1059.2 363.5h0M1059.3 359.4h0M1059.4 350.2h0M1059.1 338.5h0M1058.6 360.8h0M1059.4 336.5h0M1060 389.4h0M1060 337.2h0M1059.8 352.5h0M1060.3 332.8h0M1059.8 355h0M1060.1 357.8h0M1060.2 352.6h0M1060.8 358.8h0M1061.4 348.7h0M1061.5 367.8h0M1061.1 350h0M1060.6 350.7h0M1061.7 344h0M1062.2 348.8h0M1061.8 357.5h0M1061.8 356.2h0M1062.2 392h0M1062.2 348.7h0M1062.1 335.3h0M1061.8 337.2h0M1062.8 383.3h0M1063 339.6h0M1063.3 381.2h0M1063 332.1h0M1063.1 334.5h0M1063.5 351.2h0M1062.5 336.5h0M1062.6 349h0M1064.3 337.1h0M1063.7 382.7h0M1063.8 342.2h0M1064.1 356.5h0M1064.1 334h0M1064 332.1h0M1065.2 373.1h0M1064.9 367.2h0M1065 350.8h0M1064.6 344.9h0M1066.3 360.1h0M1066 354.9h0M1066.2 368h0M1065.6 352h0M1066 348h0M1065.5 378.2h0M1066.6 350.4h0M1066.7 356.2h0M1066.8 342.3h0M1067 353.4h0M1066.9 344.5h0M1066.7 333.2h0M1067 338.1h0M1067.8 335.5h0M1067.9 344.2h0M1068.1 333.8h0M1067.7 365.1h0M1067.6 354.9h0M1067.9 346.7h0M1067.9 340h0M1069.2 383.8h0M1069.2 355.1h0M1069 341h0M1068.9 331.6h0M1069.2 343h0M1070.2 380.4h0M1070 346.9h0M1070.4 355.2h0M1069.9 370.5h0M1070.1 343.6h0M1071 337.4h0M1070.7 344.2h0M1071.2 348.2h0M1072.3 333.7h0M1072.2 367.8h0M1072.2 332.4h0M1073.4 333.9h0M1073.5 331.4h0M1073 331.9h0M1074.2 363.2h0M1073.5 356.9h0M1074.6 338.7h0M1074.8 336.4h0M1076.2 357.6h0M1075.6 352.1h0M1076.3 339.4h0M1075.7 331.4h0M1077 350.7h0M1076.8 336.1h0M1076.7 333.5h0M1078.4 335.8h0M1077.8 337h0M1078.7 339.4h0M1078.7 333.6h0M1078.7 340h0M1078.6 331.1h0M1079.4 352.7h0M1080.1 353.9h0M1080.4 341.1h0M1079.5 336.2h0M1080.2 342.5h0M1080.2 366.1h0M1081 337.9h0M1081.3 356.8h0M1081.4 338.5h0M1081.9 344.8h0M1081.9 335.2h0M1082.4 360.8h0M1082 332.3h0M1082.6 380.2h0M1083.4 342.8h0M1083.5 344.7h0M1084.6 363.7h0M1085.5 336.7h0M1086.4 337h0M1085.8 345h0M1086.4 334.3h0M1086 353.1h0M1086.8 353.5h0M1087.1 351h0M1087 365.4h0M1087.9 335.4h0M1088.5 353.5h0M1088.5 334.9h0M1088.7 372.8h0M1089.3 350.2h0M1089.1 387.8h0M1088.5 336.3h0M1089.2 346h0M1089.3 381.5h0M1090.1 334.2h0M1089.7 355.9h0M1089.6 349.3h0M1090 335.2h0M1090.8 334.4h0M1091.2 368.4h0M1091 338.4h0M1091.7 335.6h0M1092.4 360.1h0M1092.2 381.5h0M1091.5 333.6h0M1093 377.2h0M1092.6 331.7h0M1093.2 353.8h0M1092.9 359.9h0M1093.4 336.1h0M1093.8 334.5h0M1094 334.2h0M1093.6 344.7h0M1093.8 361.8h0M1093.7 338.2h0M1095.2 331.5h0M1094.7 345.1h0M1094.9 344.7h0M1095.3 377.3h0M1094.8 335.4h0M1096.4 353.2h0M1096.4 332.8h0M1096 349.9h0M1096 330.9h0M1096.2 382.5h0M1095.9 374.4h0M1097.4 339.7h0M1096.9 332.7h0M1096.7 348.7h0M1097.3 337.8h0M1096.9 351.1h0M1098.2 337.1h0M1097.9 343.3h0M1098.4 336.1h0M1097.8 331.1h0M1098.7 330.2h0M1098.7 332.7h0M1098.6 354h0M1098.7 340h0M1100.2 339.9h0M1100.2 339h0M1099.9 378.5h0M1099.9 357.7h0M1099.7 388.1h0M1100.3 347.2h0M1099.6 330.1h0M1099.6 379.9h0M1101.1 363.5h0M1101.1 367.6h0M1100.8 329.9h0M1100.8 362h0M1100.9 349.6h0M1102.1 343.6h0M1102.2 347.1h0M1102.3 353.5h0M1101.9 358.9h0M1103.4 332.6h0M1102.6 376h0M1103.1 336.3h0M1102.9 340.9h0M1102.8 386.3h0M1102.6 366.4h0M1104.5 330.7h0M1103.5 339.3h0M1104.5 343.4h0M1103.9 332.8h0M1103.8 346.5h0M1103.8 336.2h0M1104.6 337.9h0M1104.9 350.3h0M1104.7 390.9h0M1104.5 371.3h0M1105 334.7h0M1105.1 337.8h0M1105.9 361.2h0M1106.5 340.9h0M1105.7 347.3h0M1106.1 377.1h0M1105.8 332.9h0M1106.3 337.4h0M1107.4 351h0M1106.8 331.7h0M1106.9 354.4h0M1107 347.7h0M1106.9 333.5h0M1108.1 347.8h0M1107.5 336.2h0M1107.9 346.7h0M1108.3 366.7h0M1108 339.1h0M1108.1 342.8h0M1109.2 337h0M1109.1 360.5h0M1108.9 360.6h0M1108.7 331.1h0M1109.1 354.8h0M1109.2 372.6h0M1109.6 375.1h0M1109.6 388.8h0M1109.6 377.1h0M1110.5 334.1h0M1110 360.2h0M1110.5 360.9h0M1111.1 351.9h0M1110.6 378.8h0M1111.2 349.8h0M1110.6 339h0M1111.2 344.6h0M1111 377.1h0M1111.4 346h0M1111.1 330.7h0M1112 354.8h0M1112.3 371.1h0M1112.2 357.5h0M1112 335.8h0M1112.4 364h0M1111.8 371.7h0M1111.7 337.8h0M1111.8 364.5h0M1111.9 354.3h0M1112.8 331.7h0M1112.8 339.7h0M1113.3 382.8h0M1112.8 377.5h0M1113 332.5h0M1113.3 380.9h0M1113.3 361.5h0M1113.1 350.6h0M1112.9 352.4h0M1114 371.3h0M1113.7 343.8h0M1113.9 329.7h0M1113.6 358.9h0M1114.1 338.8h0M1114 364.1h0M1114.3 380.8h0M1114.3 357.5h0M1114.2 337.3h0M1113.8 348.8h0M1115.2 342.7h0M1114.6 332.6h0M1115.1 333.4h0M1115 337.1h0M1114.6 357.2h0M1114.7 355.2h0M1115.1 355.1h0M1116.1 377h0M1116 356.7h0M1116.2 347.6h0M1115.9 334.5h0M1116.3 383.5h0M1115.9 343h0M1117.3 340.9h0M1116.6 336.7h0M1117.4 341.8h0M1117 349h0M1116.6 332.5h0M1117.6 381.1h0M1117.6 351.7h0M1117.8 383.6h0M1117.8 334.7h0M1118.2 334.4h0M1118.5 342.8h0M1118.6 334h0M1118.6 351.7h0M1118.7 335.1h0M1119.5 354.3h0M1119.5 372.1h0M1120 339.9h0M1120.4 342.3h0M1119.8 334h0M1119.7 357.2h0M1120.7 372h0M1121.2 333.2h0M1121 352.8h0M1120.7 350.3h0M1120.8 383.3h0M1121 356.4h0M1122.2 337.5h0M1122.4 342.4h0M1121.9 357.2h0M1122 334.3h0M1122.8 331.4h0M1123.1 329.3h0M1125.4 349.9h0M1125.4 331.6h0M1125.6 358.8h0M1126.4 386.6h0M1126.3 335.1h0M1127.2 331.6h0M1126.7 348.3h0M1126.6 340.6h0M1127 386.4h0M1126.8 338.4h0M1127.7 331.1h0M1127.9 346.5h0M1128.1 352.1h0M1128.1 371.3h0M1127.6 328.6h0M1128 348.8h0M1129.4 345.7h0M1129.4 374.7h0M1128.8 386.3h0M1128.9 358.3h0M1128.6 334.9h0M1129.1 365.3h0M1130.3 342.8h0M1130.4 356.7h0M1130.1 328.6h0M1129.6 379.9h0M1130.4 382h0M1130.2 357.4h0M1131.3 352.5h0M1130.8 342.6h0M1130.6 342.5h0M1131.4 340.4h0M1130.9 353.3h0M1131.3 382.3h0M1132.1 335.5h0M1132.1 329.6h0M1131.6 364.4h0M1131.8 358.1h0M1131.6 340h0M1132.2 357.4h0M1131.9 353.4h0M1132.8 328.5h0M1132.9 352.9h0M1132.6 330.8h0M1132.6 335h0M1133.2 336.5h0M1133.2 334.7h0M1133.6 356.5h0M1133.9 335.1h0M1134.3 346.6h0M1133.9 328.8h0M1134.1 359.2h0M1134.1 333.1h0M1133.8 355h0M1134.5 363.8h0M1134.9 383.2h0M1135.4 343h0M1134.8 368h0M1135.4 380.5h0M1134.8 327.9h0M1134.8 342.9h0M1135.6 344.8h0M1135.7 355.5h0M1135.6 327.8h0M1136.2 328.9h0M1135.6 373.2h0M1137.5 332.8h0M1137 339.1h0M1138.5 328.1h0M1138.1 351.7h0M1137.9 327.8h0M1138.9 331.8h0M1141.9 331.3h0M1142.8 334.6h0M1142.6 332.8h0M1144.5 331.8h0M1144.8 330h0M1144.9 334.2h0M1145 340.6h0M1145.6 339.4h0M1145.8 359.4h0M1145.8 342.4h0M1146.4 333.1h0M1145.8 350.4h0M1146.3 333.6h0M1146.6 338h0M1146.7 344.8h0M1147.4 347.2h0M1147.4 377.8h0M1147 328.5h0M1148 349h0M1147.5 333.9h0M1148.3 328.2h0M1148.4 386.3h0M1148 370.8h0M1148.7 338.4h0M1149.4 385.9h0M1148.8 367.4h0M1149 331.6h0M1149.5 352.5h0M1148.8 389.3h0M1149.7 333.3h0M1150.3 332.7h0M1149.8 328h0M1149.8 376.5h0M1149.7 348.1h0M1149.8 347.2h0M1150.2 356.3h0M1149.6 328.3h0M1150.9 337.6h0M1151.4 354.8h0M1150.9 353.1h0M1151.2 337.2h0M1152.4 330.5h0M1152 330.9h0M1151.8 355.2h0M1151.9 376.9h0M1152.8 378.2h0M1152.9 332.3h0M1153.3 360.9h0M1152.8 339.1h0M1153.5 342.2h0M1153.7 344.6h0M1154.4 328.4h0M1153.6 355.6h0M1155.4 333.2h0M1154.5 341.6h0M1155.3 334.6h0M1154.9 346.8h0M1155.4 334h0M1155.1 339.5h0M1154.8 367.2h0M1155.9 349.1h0M1155.7 332.8h0M1155.6 328.1h0M1155.7 342h0M1155.6 334.1h0M1156 337.3h0M1157.5 363.7h0M1157.1 347.9h0M1157.5 330.5h0M1156.9 359.6h0M1157.7 361.5h0M1158.2 344.6h0M1158.5 333.3h0M1157.9 341.1h0M1157.5 359h0M1159.5 365.5h0M1158.6 366h0M1158.9 328.8h0M1159.4 339.1h0M1159.1 347.5h0M1159.9 334.7h0M1159.8 328.9h0M1160.1 331.7h0M1161.4 343.1h0M1160.8 361.2h0M1161 340.6h0M1160.7 327.9h0M1161.2 374h0M1161.8 341.2h0M1162.3 350.5h0M1161.8 349h0M1163.3 361.3h0M1162.9 330.2h0M1163.3 334.7h0M1162.8 353.7h0M1164.3 328h0M1164.4 346.1h0M1164.3 339.9h0M1164.1 332.9h0M1164.1 328.1h0M1164 331.8h0M1164.8 352.7h0M1164.6 335.9h0M1165.2 365.4h0M1164.5 342.6h0M1165.2 347.1h0M1165.2 375.3h0M1165 368.1h0M1164.5 341.7h0M1165.5 330.9h0M1165.6 368.6h0M1166.2 346.8h0M1165.9 345.9h0M1166 355.1h0M1166 377.1h0M1165.9 366.2h0M1166 356.8h0M1167.3 359.8h0M1167.1 349h0M1166.7 336.1h0M1166.8 339.2h0M1166.7 330.7h0M1166.7 371.8h0M1167.3 353.3h0M1167.5 353.4h0M1168.4 350.2h0M1168.2 331.1h0M1168.4 339.3h0M1167.7 335.8h0M1168.5 331.4h0M1169.4 327.7h0M1168.7 364.8h0M1169.3 355.4h0M1169.1 331h0M1170.4 345h0M1169.9 352.4h0M1169.5 329.8h0M1169.9 355.3h0M1170.7 327.7h0M1171 365.8h0M1171 367.5h0M1171 380.4h0M1172.3 345.3h0M1172.3 337.1h0M1172.5 338.3h0M1173.3 345.9h0M1173.4 366.5h0M1173 339.8h0M1173.2 340.2h0M1172.9 333.2h0M1173.1 347.7h0M1174.2 337.3h0M1174.4 339.6h0M1173.6 341.1h0M1173.7 365.7h0M1175.4 334.6h0M1175 331.2h0M1175.3 327.5h0M1175.2 329.2h0M1176.4 374h0M1175.6 344.2h0M1176.4 331.1h0M1176.2 364.3h0M1175.8 336.8h0M1176.8 327.4h0M1176.8 332.2h0M1176.6 350.9h0M1178 337.6h0M1178.2 349.8h0M1177.6 327.8h0M1178.3 359h0M1179.1 369.8h0M1178.8 337.7h0M1179.3 332.8h0M1179.3 377h0M1179 359h0M1179.6 331.1h0M1179.9 348.5h0M1180.9 345.3h0M1180.8 327.3h0M1181.4 336.3h0M1183.8 328h0M1183.7 339.3h0M1185.2 333.7h0M1185 330.1h0M1187.3 329h0M1187.2 332.3h0M1188.4 330.9h0M1188.4 344.8h0M1187.6 345.4h0M1187.6 338.5h0M1188.9 363.1h0M1189.4 347.2h0M1189 328.6h0M1188.7 336.5h0M1190.4 382.6h0M1189.7 342.3h0M1190.2 342.5h0M1189.5 357.5h0M1191.2 332h0M1191.2 356.9h0M1191 329.8h0M1192 336.1h0M1192.3 344.2h0M1192.1 329.4h0M1192.1 334.3h0M1193.3 331.2h0M1193.2 339h0M1193.6 330.1h0M1195.7 330.5h0M1197.3 327.2h0M1197 346.6h0M1197.2 349.3h0M1197.6 327.2h0M1198.2 330.6h0M1197.5 328.1h0M1198.2 353.5h0M1198.5 329.5h0M1199.1 342.3h0M1199 336.4h0M1198.9 390.9h0M1198.8 330.1h0M1199.6 341.7h0M1199.6 363.6h0M1199.8 362.9h0M1199.5 337.4h0M1199.7 340.7h0M1200.9 338.9h0M1200.6 349.1h0M1200.8 389.8h0M1200.9 348h0M1200.8 339.1h0M1201.8 350.5h0M1202.4 338.8h0M1201.9 345h0M1202.3 351.5h0M1202 349.2h0M1203.1 331h0M1203 385.7h0M1202.6 347.4h0M1202.7 377.4h0M1203 344.9h0M1203.1 375.6h0M1204.2 339h0M1204.5 328.6h0M1203.8 334.9h0M1204.5 327.6h0M1204.9 341.4h0M1204.5 336.6h0M1205.4 369.2h0M1205.1 343.8h0M1205.4 351.3h0M1204.9 328.7h0M1205.8 383.9h0M1205.5 332.5h0M1206.3 345.1h0M1205.8 355.4h0M1207.4 353.5h0M1206.9 339h0M1206.6 371.4h0M1207.2 328.8h0M1208.2 327.8h0M1208.4 337h0M1207.8 327.1h0M1207.7 330.6h0M1208.9 334.5h0M1209.2 333.7h0M1208.7 345.1h0M1209 328.7h0M1210.3 385h0M1209.9 336.9h0M1210.1 353.1h0M1210.5 352h0M1210 340.9h0M1210.8 335.3h0M1211.1 328.1h0M1211.1 388.9h0M1211.4 365h0M1211.4 332.8h0M1211.9 344.6h0M1212.2 333.5h0M1211.9 357.4h0M1211.6 327.7h0M1213.4 335.8h0M1213.5 341.7h0M1212.8 349.4h0M1213.5 347.1h0M1214.2 358.8h0M1213.5 370h0M1214.2 343.8h0M1214.4 379.9h0M1214.1 328.5h0M1215 378h0M1214.6 329.2h0M1215 348.4h0M1215.3 339.8h0M1214.9 329.5h0M1215.1 362h0M1214.7 333.9h0M1214.8 350.8h0M1216.4 330.2h0M1215.8 330h0M1215.6 336.5h0M1216.2 329.1h0M1217 350.6h0M1217.2 327.1h0M1216.5 339.8h0M1216.7 332.6h0M1218.5 335.8h0M1218.1 351.7h0M1218.4 332.3h0M1218 331.2h0M1219.5 332.7h0M1218.6 330.6h0M1220.2 337.8h0M1220.5 332.9h0M1221 384.2h0M1220.6 332.7h0M1220.5 331.1h0M1222 330.3h0M1222.8 343h0M1223.2 327.3h0M1222.7 356.8h0M1223.9 367.2h0M1223.9 354.6h0M1223.6 327.2h0M1224.3 329.6h0M1224.6 342.1h0M1225.4 329.7h0M1224.7 353.8h0M1226 351.9h0M1226.3 332h0M1227.3 363.2h0M1226.9 330.4h0M1227.9 333.3h0M1228.3 328h0M1228.1 340.9h0M1229.5 336.8h0M1229.3 369.8h0M1229.4 330.2h0M1230.4 350.8h0M1230.5 346h0M1229.9 337.2h0M1230 337.3h0M1229.9 332.9h0M1231.3 340.8h0M1231 341.9h0M1230.9 353h0M1231.5 385.6h0M1231.2 328.2h0M1231.8 339.1h0M1232.3 373h0M1232.2 333.7h0M1231.7 327.8h0M1233.3 353h0M1233.5 370.6h0M1232.5 370.6h0M1233.3 328.2h0M1234.3 355.7h0M1233.8 345.4h0M1233.7 365.9h0M1233.7 360.8h0M1234.7 340.1h0M1235.1 373.6h0M1234.6 348.3h0M1235.3 334.8h0M1235.1 379.9h0M1236 373.5h0M1236.5 328.3h0M1236.1 391.2h0M1235.9 343.2h0M1237.3 372.9h0M1236.8 340.7h0M1237.1 347h0M1238.3 335.9h0M1237.6 364.8h0M1238.1 334.5h0M1239.2 342.1h0M1239.4 329h0M1238.9 333.1h0M1239.5 328.3h0M1240.4 329.3h0M1240 344.5h0M1240.2 350h0M1240.4 333.5h0M1239.7 356.1h0M1241.1 333h0M1241.1 334.7h0M1241 363.4h0M1240.8 328.7h0M1240.5 343.9h0M1242.1 353.3h0M1242.2 354.5h0M1242.1 370.9h0M1241.9 369.1h0M1242 335.4h0M1242 356.3h0M1241.8 349.3h0M1241.6 359.9h0M1243 340.6h0M1243.2 337.1h0M1242.9 329h0M1243.5 340.5h0M1244.3 339.9h0M1244.2 335.4h0M1244.1 375h0M1244.4 343.4h0M1245.4 339.3h0M1245.5 365.5h0M1245.1 355.8h0M1245.4 341h0M1244.7 329.8h0M1246.3 381.4h0M1245.7 338.3h0M1246.1 342.3h0M1245.6 333.6h0M1245.9 328.8h0M1246.3 367.4h0M1245.9 332.4h0M1245.5 366.1h0M1247.2 372.6h0M1246.6 365.6h0M1246.8 339.2h0M1247.2 328.2h0M1246.7 354h0M1247.3 362.5h0M1247.1 333.8h0M1247.2 330.9h0M1247.6 342.3h0M1248.2 357.7h0M1247.7 353.5h0M1247.6 331h0M1248 347.6h0M1247.6 328.7h0M1248 353.7h0M1248.6 349.1h0M1249.1 332.7h0M1248.7 353.3h0M1250.2 387h0M1249.8 340.5h0M1249.9 360.8h0M1249.7 361.1h0M1250.3 328.4h0M1251.2 335.5h0M1251.4 347.5h0M1250.8 363.2h0M1251.6 348.2h0M1252.3 335.8h0M1252.1 330.9h0M1253.2 345.9h0M1253.1 332.5h0M1253.4 353.8h0M1254.2 350.6h0M1253.6 335.7h0M1254.1 341.4h0M1255.4 355.7h0M1254.7 328.3h0M1256.5 327.9h0M1255.9 340.2h0M1257 328h0M1258 328.8h0M1258.9 330.6h0M1258.9 328.2h0M1259 356.9h0M1260.3 345.3h0M1260 340.2h0M1260.8 368.6h0M1261 377h0M1260.7 378.9h0M1261.3 352.2h0M1262.2 338.1h0M1262.3 329.4h0M1262.3 338.9h0M1262.2 351.7h0M1262.5 365.4h0M1262.8 374.6h0M1263.2 337.6h0M1262.8 385.9h0M1263.4 360.4h0M1263.8 355.4h0M1264.2 355.9h0M1263.6 341.8h0M1264.4 350.5h0M1264.3 334.9h0M1265.2 384.9h0M1264.9 358.5h0M1264.8 336.9h0M1264.6 329h0M1265.2 371.3h0M1266.2 373h0M1266.2 344.8h0M1266.5 355.6h0M1265.9 367.5h0M1266.4 327.6h0M1266.3 351.2h0M1267.3 384.4h0M1266.9 361.6h0M1267.3 331.3h0M1266.7 367.6h0M1268.1 329.7h0M1267.8 369.8h0M1267.7 363.8h0M1267.7 345.9h0M1269.3 336.7h0M1268.8 352.5h0M1269.5 329.8h0M1268.6 345.9h0M1269.2 331.2h0M1270.3 360.2h0M1270.2 342.1h0M1270 355.2h0M1269.9 346.7h0M1269.7 350.3h0M1271.3 372.2h0M1270.6 343.8h0M1271.5 337.9h0M1270.6 335.4h0M1271.6 336.5h0M1271.6 360.4h0M1272 351.7h0M1272.1 329.4h0M1271.5 334.2h0M1272.2 373.7h0M1271.6 329.8h0M1273.5 340.1h0M1273.5 329.3h0M1273.3 352.8h0M1272.6 367.3h0M1273.6 350.8h0M1274.4 362h0M1273.6 336.5h0M1274 390.5h0M1274.2 348.1h0M1274.9 346.8h0M1275.5 329.7h0M1275.3 341.4h0M1275.2 370.1h0M1275.3 342.8h0M1274.9 345.5h0M1275.9 349.4h0M1275.7 339.3h0M1275.7 390.7h0M1275.5 346.5h0M1275.6 329h0M1277 339.8h0M1277.5 357.1h0M1277.1 387.6h0M1278.3 347.5h0M1277.5 332h0M1277.9 365h0M1278.1 331.8h0M1278.9 379.2h0M1278.7 341.9h0M1279.2 350.6h0M1278.6 374.9h0M1279.4 346.5h0M1279.7 336.5h0M1279.6 382.1h0M1281.4 336.7h0M1281.1 329h0M1281.6 341.7h0M1282.1 336.9h0M1283.3 348.8h0M1283.1 347h0M1282.6 328h0M1284 352.3h0M1283.6 339.1h0M1283.6 347h0M1285 328.4h0M1284.8 360.3h0M1285.2 336h0M1285.4 342.6h0M1286 340.8h0M1285.6 375.2h0M1286.1 366.1h0M1286.3 362.1h0M1286.4 360.7h0M1287.2 355.8h0M1286.9 359.8h0M1286.5 340h0M1287.1 333.9h0M1286.8 388.1h0M1287.5 337.2h0M1287.8 331.2h0M1291.9 353.4h0M1292 327.9h0M1293.5 374.2h0M1292.5 333.4h0M1292.7 383.6h0M1293.7 372.2h0M1293.8 327.9h0M1293.9 351.6h0M1294 380.4h0M1293.7 333.8h0M1294.4 385.9h0M1293.8 348.9h0M1295.2 369.9h0M1295.4 382.7h0M1295.3 376h0M1294.7 334.1h0M1295.5 335.7h0M1295.5 331.4h0M1295.7 349.7h0M1295.6 365.8h0M1295.8 329.4h0M1297 343.1h0M1297.4 362.6h0M1297.3 330h0M1296.7 344.5h0M1296.6 353.4h0M1297.4 380.6h0M1298.4 349.1h0M1298.1 332.6h0M1298.1 373.2h0M1298.3 342.1h0M1298.4 339h0M1297.6 339.8h0M1298.7 339.5h0M1299.2 331.2h0M1299 357.6h0M1299.4 351.6h0M1298.7 345.1h0M1298.6 362.5h0M1299.9 359.6h0M1300 359.8h0M1300 327.9h0M1300 347.4h0M1300.9 332.9h0M1300.8 350.8h0M1301.2 350.8h0M1300.7 389.6h0M1301.7 351.6h0M1302 327.9h0M1302.5 368.3h0M1302.5 344.3h0M1301.5 373.7h0M1301.9 334.5h0M1302.2 347.9h0M1302.1 341.5h0M1302.8 357h0M1303.2 365.1h0M1302.8 348.2h0M1303.5 364h0M1303 329.2h0M1304.4 331h0M1303.7 332.8h0M1304.1 345.9h0M1304.7 332.4h0M1304.9 344.6h0M1304.7 360.2h0M1305.3 386.7h0M1305.2 387.5h0M1306.4 330.3h0M1305.8 337.4h0M1306.4 344h0M1306.4 331.7h0M1306.1 371.3h0M1307 327.3h0M1307.4 350.3h0M1308.1 340.6h0M1308.1 353.7h0M1308.5 327.8h0M1308.8 340.3h0M1309.2 338.7h0M1308.7 346.1h0M1308.8 336.4h0M1310.4 349h0M1310 335h0M1309.6 349.3h0M1310.2 353.7h0M1309.7 346.9h0M1311.1 331.8h0M1310.9 346.2h0M1310.7 353.2h0M1310.8 338.5h0M1310.7 332.6h0M1310.7 366.7h0M1310.7 365.7h0M1311.6 332.1h0M1312.3 353.9h0M1311.6 348.3h0M1312.1 340.5h0M1313.1 349.4h0M1313.4 330.3h0M1313.4 329.6h0M1312.9 347.4h0M1313 378.4h0M1312.7 331.1h0M1312.6 331.4h0M1314.2 347.3h0M1313.7 338.7h0M1313.7 333.6h0M1314 377.5h0M1313.7 351.1h0M1314 361.8h0M1314.7 341.6h0M1315.2 329.5h0M1314.6 330.5h0M1315.2 350.9h0M1314.9 345.3h0M1315.3 379.4h0M1315.8 367h0M1316.1 340.3h0M1316 339.8h0M1315.7 339.1h0M1316.2 333.9h0M1316.1 329.1h0M1315.7 331.6h0M1316.7 387.2h0M1317.4 358.8h0M1317.4 350.5h0M1317.2 336.4h0M1316.8 381.6h0M1316.9 341.7h0M1316.9 387.4h0M1316.7 373.2h0M1318 360.6h0M1318.1 367.4h0M1318.4 388.7h0M1318.1 327.1h0M1318.3 343.8h0M1317.9 345.6h0M1317.6 348.8h0M1318.9 350.9h0M1318.6 359h0M1319.5 335.1h0M1319.4 381.9h0M1319.2 336.1h0M1319.4 354.6h0M1319.5 340.5h0M1318.6 352.4h0M1320.1 332.8h0M1320.4 335.2h0M1320.3 345.7h0M1319.8 348.1h0M1320.1 363.7h0M1320.3 327.3h0M1320 361.2h0M1321 334h0M1321.1 348.2h0M1320.9 331.2h0M1321.5 327.8h0M1321.3 334.8h0M1320.7 366.2h0M1322.1 361.2h0M1322.1 368.2h0M1322.2 339.6h0M1322 361.1h0M1322.1 344.2h0M1321.7 330h0M1322.3 329.3h0M1322.6 389h0M1323 340.7h0M1323.3 331.9h0M1322.6 329.6h0M1323.3 337.7h0M1323.2 336.8h0M1323.2 330.6h0M1324.1 328.5h0M1324 343.4h0M1324 332.4h0M1323.8 357.3h0M1323.8 327.3h0M1324.4 372.1h0M1324 335.8h0M1324.1 342.4h0M1325.3 349.1h0M1324.9 363.2h0M1325.2 388.9h0M1324.8 367.9h0M1325.3 334.9h0M1325.5 358.6h0M1325.9 348.1h0M1325.9 343.8h0M1326.4 332.5h0M1326.3 373.6h0M1325.8 351.5h0M1326.8 345.4h0M1327.4 331.8h0M1327.1 336.8h0M1326.9 355.5h0M1327.3 378.7h0M1328.1 335.3h0M1327.8 340h0M1328.3 383h0M1328 347.2h0M1328.7 346.1h0M1329.3 360h0M1328.5 330.3h0M1329.4 327.2h0M1329.3 347h0M1330.3 334.5h0M1330 366h0M1330.2 348.4h0M1329.7 366.9h0M1330.5 336.4h0M1331.5 339h0M1331.2 336h0M1331.2 329.3h0M1331.2 329.4h0M1332.2 332h0M1332.3 333h0M1331.7 339.3h0M1332 335.3h0M1331.9 336.2h0M1332.8 356.5h0M1333.2 355h0M1333 337.8h0M1333.2 329.1h0M1333.5 348.5h0M1333.5 358.8h0M1333.7 350.7h0M1334.4 330h0M1334 363.5h0M1333.8 345.9h0M1333.6 350.3h0M1333.9 333.9h0M1335.3 329.2h0M1334.9 371.8h0M1334.9 328.6h0M1334.7 351.7h0M1335.3 378.2h0M1336.5 328.6h0M1336.2 345.5h0M1335.7 347.3h0M1335.8 354h0M1335.9 336.4h0M1336.6 332.8h0M1337.3 327.8h0M1337.3 360.1h0M1337.3 329.5h0M1337.9 334.4h0M1337.9 334.4h0M1338.4 330.4h0M1338.4 344.4h0M1339.5 348.4h0M1339.2 327.8h0M1338.5 328.1h0M1340 337.4h0M1341 327h0M1340.8 332.6h0M1341.5 334.8h0M1342.3 333.1h0M1342.5 342.7h0M1343.2 338.5h0M1343.6 348.3h0M1344.4 331.6h0M1344.3 357.4h0M1344.1 330.7h0M1345.4 343.4h0M1344.7 332.5h0M1344.6 334.4h0M1345.4 354.8h0M1346.2 355.3h0M1346.1 351.2h0M1346.2 352.9h0M1346.5 359.4h0M1346.2 350.3h0M1347.1 353.5h0M1346.6 349.5h0M1347.1 361.2h0M1347.5 334.7h0M1347.5 349.9h0M1348.5 354.6h0M1347.8 330.3h0M1347.8 337.4h0M1348.3 344.5h0M1347.9 372.3h0M1349.3 327.3h0M1348.6 332.6h0M1348.7 366.5h0M1349.3 330.2h0M1348.7 343.5h0M1348.6 335.9h0M1350.5 347.2h0M1349.8 339.4h0M1350.5 337h0M1350.2 356.6h0M1350.1 337.2h0M1349.7 347.1h0M1349.6 334.3h0M1350.8 363h0M1351.3 328.1h0M1351.4 336.9h0M1350.5 330.9h0M1351.2 328.3h0M1350.8 344.6h0M1352.3 340.8h0M1351.9 340.1h0M1352.2 340.6h0M1351.7 359.3h0M1352 356.8h0M1352 380.5h0M1351.8 356.3h0M1353 327.6h0M1353.4 330.8h0M1353 342.5h0M1353.1 331.1h0M1353.3 371.1h0M1352.6 349.7h0M1354 343.8h0M1353.5 341h0M1354.2 332.1h0M1353.7 333.2h0M1354.2 329.2h0M1353.6 331.3h0M1355.5 329.2h0M1355.4 342.6h0M1355 339.5h0M1354.8 344.4h0M1355.3 335.3h0M1355.9 341.3h0M1356.3 332.2h0M1355.9 337.8h0M1355.6 327h0M1357.3 345.1h0M1357.3 329h0M1357.5 374.7h0M1357.1 350.6h0M1358.2 329.8h0M1357.9 337.1h0M1358.9 334.7h0M1358.6 329.3h0M1360.4 341.9h0M1360.2 353.9h0M1359.6 344.4h0M1361.4 330.6h0M1360.7 339.4h0M1362.2 338.7h0M1362.1 337.1h0M1361.8 352.3h0M1362 374.1h0M1361.9 342.6h0M1362.7 331.8h0M1362.5 334.1h0M1363.3 335.8h0M1363.7 336.1h0M1364.3 351.2h0M1364.5 334.3h0M1365.1 342h0M1366.1 338.6h0M1366.5 355h0M1365.7 355h0M1365.8 334.7h0M1366.9 341.3h0M1366.5 334.7h0M1366.6 351.1h0M1366.7 352h0M1367.9 375.4h0M1367.7 394.3h0M1368.3 342.1h0M1368.2 336.7h0M1369.3 359h0M1368.7 333.3h0M1369.3 368.4h0M1369.2 347.2h0M1369.2 359.8h0M1368.8 337.6h0M1369.9 332h0M1369.7 378.8h0M1369.6 361.7h0M1370 338.6h0M1369.5 333.3h0M1369.6 387.8h0M1371.3 344.8h0M1371.4 365.9h0M1371.3 352.1h0M1371 354.1h0M1372.4 333.8h0M1371.6 337.8h0M1373.3 339.2h0M1373.2 332.7h0M1372.9 344.1h0M1374.4 332.4h0M1375 333.9h0M1376.2 334.8h0M1375.5 381.9h0M1375.9 357.1h0M1377.2 343.7h0M1377.1 336.9h0M1377.2 360.7h0M1376.7 338.9h0M1376.8 370.6h0M1377.9 352.2h0M1378 357.6h0M1377.8 381.1h0M1377.9 333.3h0M1378.2 351.8h0M1378 382.9h0M1378 355.9h0M1379.3 365.4h0M1378.6 336h0M1379.5 392.8h0M1379.2 342.7h0M1379.2 386.2h0M1378.6 359.9h0M1380.4 358.5h0M1380.4 347.7h0M1380.4 395.1h0M1380.1 372.8h0M1379.6 343.1h0M1379.6 333.7h0M1380.4 342.7h0M1380.7 361h0M1380.5 371.6h0M1381.1 361.3h0M1381.5 358.4h0M1380.7 334.1h0M1382.4 383.1h0M1382.3 357.5h0M1381.7 393.4h0M1382.1 337.5h0M1381.9 357.5h0M1382.2 342.9h0M1382.6 364.8h0M1383.3 373.8h0M1382.9 337.7h0M1383 348.3h0M1382.6 337.5h0M1384 336.1h0M1383.7 349.8h0M1383.7 351.2h0M1383.5 339.3h0M1384.9 342.7h0M1385.1 349.4h0M1384.7 365h0M1385.1 369.9h0M1386.5 347.6h0M1386.2 341.8h0M1387.1 342.9h0M1386.6 349.5h0M1388.3 342.3h0M1388.1 346.2h0M1389.2 344.3h0M1388.6 344h0M1388.6 339.1h0M1389.9 344.2h0M1389.6 337.8h0M1389.9 338.6h0M1389.7 348.9h0M1391 364.7h0M1390.8 338.5h0M1391.1 379.7h0M1390.7 356.8h0M1392 342.9h0M1393.3 342.6h0M1393.4 345.7h0M1394.2 338.9h0M1395.7 353h0M1395.9 346.4h0M1397.1 348.5h0M1396.8 350.2h0M1397.6 342h0M1397.9 355.6h0M1398.4 369.1h0M1397.6 351.2h0M1399 367.4h0M1398.7 349h0M1399.3 348h0M1398.8 348.4h0M1399.5 340.8h0M1399.5 389.3h0M1399.6 360h0M1400 345.3h0M1399.6 344.1h0M1399.9 366.7h0M1400.7 342.7h0M1400.7 342.2h0M1400.6 385.1h0M1401.1 378.5h0M1401.6 394.8h0M1402.2 344.6h0M1402.1 354.6h0M1402.2 403.2h0M1403.2 347.4h0M1403 366.9h0M1403.4 364.9h0M1402.9 396.1h0M1404.5 371.8h0M1403.6 343.3h0M1404.2 365.5h0M1404.1 362.1h0M1404.3 339.6h0M1404.4 347.1h0M1404.8 357.7h0M1404.8 374.3h0M1404.7 352.3h0M1407.5 357.3h0M1406.8 342.5h0M1406.6 357.3h0M1408.4 347.3h0M1408 340h0M1409.2 403.5h0M1409.2 373.9h0M1409.2 346.3h0M1410.5 361.8h0M1410.1 395.8h0M1410.4 378.9h0M1409.7 350h0M1409.5 345.8h0M1409.8 348.5h0M1411.3 341.8h0M1411.5 371.9h0M1410.5 341.1h0M1410.8 349.4h0M1411.3 343.4h0M1411.8 362h0M1412.5 368.1h0M1412.3 371.5h0M1411.9 347.6h0M1413.3 340.1h0M1412.9 341.2h0M1413.4 342.8h0M1413.3 356.6h0M1413.9 341.4h0M1414.1 355.2h0M1415.4 362.4h0M1416 340.1h0M1416 341.7h0M1415.9 342.9h0M1416.8 364.3h0M1416.6 349.5h0M1417.2 349.6h0M1417.8 344.3h0M1417.9 378h0M1417.6 359.3h0M1417.9 349h0M1418.4 374.4h0M1418.2 340.8h0M1419.1 347.8h0M1419.3 344.9h0M1419 366.4h0M1418.6 347.1h0M1420.3 378.7h0M1420 375.5h0M1420.1 363.7h0M1420.4 385.9h0M1420.2 348.5h0M1420.9 347.2h0M1420.8 363.5h0M1420.9 367.7h0M1421.3 350.2h0M1420.5 396.1h0M1420.7 399.7h0M1421.9 342.3h0M1421.7 346.3h0M1422.9 341.4h0M1422.8 344.3h0M1424.3 371.9h0M1424.5 344.5h0M1424.3 382.1h0M1424.9 358.7h0M1425.2 376.8h0M1425.3 340.7h0M1426.3 350.2h0M1425.7 350.3h0M1425.6 382.4h0M1427.3 351.5h0M1426.7 364.8h0M1426.6 395.4h0M1427.5 368h0M1427.3 344.9h0M1427 377.9h0M1427.9 370.1h0M1427.5 371.7h0M1427.8 388.9h0M1427.5 343.9h0M1428.6 365.5h0M1429.3 343.4h0M1429.3 340.8h0M1429.2 349.9h0M1428.9 360.9h0M1430.5 356.5h0M1429.8 364.1h0M1430.4 353.2h0M1430.4 376.4h0M1430 354.5h0M1430.8 346.1h0M1431 394h0M1431 343.9h0M1430.6 366.4h0M1430.5 347.4h0M1431.7 355.6h0M1432.2 366.6h0M1432.4 364.7h0M1431.9 379.2h0M1431.7 370.4h0M1433.4 397.9h0M1433.3 357.2h0M1432.8 356.4h0M1433.3 354.9h0M1434.4 397.6h0M1433.9 398.2h0M1433.8 346h0M1434.7 345.5h0M1435.7 361.6h0M1437 347.5h0M1437.2 342.2h0M1440.1 349h0M1440.3 387.2h0M1440.6 343h0M1440.6 357h0M1442.3 342.4h0M1442.3 353.6h0M1442.3 350h0M1443 357.5h0M1442.6 353.2h0M1443.4 359.8h0M1443.2 365.6h0M1443.3 348.9h0M1443.9 376.3h0M1444.4 353.1h0M1444 351.8h0M1443.8 368.2h0M1444.7 397.6h0M1444.5 344.1h0M1445.9 403.8h0M1446.3 387.9h0M1446.2 349.2h0M1445.7 347.4h0M1445.7 358h0M1446.7 366.9h0M1447 376.1h0M1447.2 381.5h0M1446.7 349.1h0M1447.8 393.6h0M1447.8 358.6h0M1447.7 345.1h0M1448.2 352.5h0M1447.7 354.2h0M1449.2 394h0M1448.7 364h0M1448.5 376.7h0M1448.8 353.5h0M1450.1 364h0M1450.4 369.5h0M1450.3 358.8h0M1450.1 370.4h0M1450.5 359.1h0M1450.6 350.5h0M1450.9 352.6h0M1452.1 372.7h0M1452.3 362.7h0M1454 343.1h0M1455.1 344.1h0M1454.9 341.8h0M1455.7 342.4h0M1456.5 367.8h0M1457.4 348.6h0M1457.9 384.8h0M1457.5 343h0M1457.9 343.7h0M1459.1 385.1h0M1459.4 352.3h0M1459 357.9h0M1459.4 342.9h0M1459.6 381.6h0M1459.7 349.8h0M1459.7 402.9h0M1460.1 383h0M1461.4 356.8h0M1460.8 355.5h0M1461.2 358.4h0M1462.4 344.5h0M1462.3 356.9h0M1462.3 400.2h0M1462 343h0M1463.4 375.6h0M1462.7 364.1h0M1462.7 342.3h0M1462.5 354.5h0M907.6 285.7h0M922.9 286.2h0M952.6 274.7h0M881.5 292.7h0M910.1 279.5h0M995.5 280.5h0M977 281.4h0M954.1 276.3h0M953.6 289.7h0M940.7 288h0M957.9 274.5h0M987.9 280.1h0M965.7 290.1h0M966.2 280.2h0M961.9 283.8h0M964.4 281.7h0M988.4 277.7h0M976.5 283.6h0M999.5 255.6h0M979.7 285.6h0M989 267.9h0M970.8 287.5h0M961.6 284h0M993.4 258.3h0M971.7 267.9h0M980.8 267.6h0M995.5 280.8h0M971.3 285.7h0M960.9 264.2h0M985.9 279.3h0M992.4 283.6h0M994.1 261.4h0M989.2 282.3h0M973.8 358.3h0M993.4 335.3h0M994.6 357.5h0M959.8 349.6h0M968.7 330.5h0M975.8 345.2h0M963.2 342.3h0M993 350.3h0M991.4 355.1h0M992.6 333.4h0M973.1 338.9h0M962.4 352.1h0M984.7 326.9h0M982.5 340.7h0M966 324h0M977.4 323.6h0M981.6 344.9h0M963.3 349.3h0M959.7 322.4h0M992.3 335.3h0M975.8 344h0M976.3 341.5h0M979.2 342.3h0M960.4 345.3h0M969.9 320.7h0M975.1 354.4h0M984.4 343.6h0M978.1 330.3h0M984 338.4h0M960.7 321.2h0M961.9 341.5h0M995.1 363.8h0M967.2 323.8h0M997.9 345.3h0M965 339h0M984 347.3h0"/><path fill="none" stroke="#ff7f0e" stroke-width="2.3" stroke-linejoin="round" d="M116 308.1 L117.2 308.5 L118.5 307.8 L119.7 308.8 L121.5 308.6 L123.3 311.8 L125.5 324.1 L126.8 315.5 L128 305.7 L129.7 315.5 L131.1 311.4 L132.5 309.4 L133.7 308.1 L135 308.2 L136.2 308.1 L137.4 312.3 L138.6 315.5 L139.9 310 L141.3 315.2 L142.7 316.8 L144.1 320.4 L145.3 316.7 L146.6 309.4 L148.4 319.2 L150.3 309.4 L152.7 314.3 L153.9 310.6 L155.1 317.5 L156.4 319.9 L157.6 325.9 L159.4 310 L161.3 320.4 L163.1 317 L164.9 316.7 L166.2 317.3 L167.4 320.4 L168.6 317.9 L169.8 313 L171.1 311.6 L172.3 309.4 L174.7 322.8 L175.9 323.7 L177.2 323.3 L178.4 321 L179.8 325.8 L181.3 329.7 L182.7 333.8 L184.5 326.5 L186.4 335.1 L187.9 326.2 L189.4 320.4 L190.7 322.9 L191.9 328.9 L193.7 319.6 L195.5 308.1 L196.8 317.9 L198 326.5 L199.2 320.7 L200.4 313 L201.7 314.5 L202.9 315.5 L204.4 322.2 L205.9 327.7 L207.2 324.5 L208.4 320.4 L209.6 328.5 L210.8 333.8 L212.4 326.9 L213.9 322.8 L215.1 324 L216.3 325.3 L217.6 319.7 L218.8 315.5 L220 313.8 L221.3 311.1 L222.5 306.9 L224.3 306.6 L226.1 308.1 L227.3 306 L228.6 306 L229.8 306.3 L231.4 307.2 L232.9 309.4 L234.4 313.4 L235.9 315.5 L237.2 312.1 L238.4 309.4 L240.2 319.2 L241.8 316.4 L243.3 311.8 L244.5 311.1 L245.7 311.9 L247 310.7 L248.2 312.3 L249.4 311.8 L250.6 308.2 L251.8 304.5 L253.4 304 L254.9 300.8 L256.4 305.5 L258 306.9 L259.2 307.3 L260.4 305.9 L261.6 309.4 L262.8 308.1 L264.4 307.3 L265.9 303.2 L267.3 302.9 L268.8 302.7 L270.2 302.6 L271.4 307.1 L272.6 307.6 L273.9 310.5 L275.1 314.3 L276.9 316.8 L278.7 317.9 L279.9 310.6 L281.2 302 L282.4 304.3 L283.7 306.4 L284.9 306.9 L286.1 306.5 L287.3 305.8 L288.5 305.7 L289.8 306.6 L291 309.4 L293.4 304.5 L294.7 307 L296 311.6 L297.2 309.2 L298.4 307.4 L299.7 306.5 L300.9 303.7 L302.4 310.5 L304 316.5 L305.5 312.9 L307 309.2 L308.2 314.7 L309.4 309.7 L310.7 305.5 L312.2 306 L313.7 305.5 L315.6 306.7 L317.1 305.7 L318.6 305.5 L320 307.9 L321.4 308.8 L322.7 310.3 L324.1 311 L325.4 311 L326.6 318.2 L327.8 326.3 L329 318.6 L330.3 311.6 L331.5 303 L333.9 310.4 L335.1 311.4 L336.4 309.2 L338.2 298.8 L339.8 304.7 L341.3 310.4 L342.8 309.2 L344.3 309.2 L345.9 317.2 L347.4 323.8 L348.6 323.1 L349.8 325.1 L351.1 325.1 L352.3 326.3 L354.7 333.6 L355.9 327.7 L357.2 325.1 L358.4 323.2 L359.7 320.1 L360.9 318.9 L362.4 319.8 L363.9 321.4 L365.4 322.4 L367 321.4 L369.4 315.3 L370.6 320.7 L371.9 325.1 L373.3 323.8 L374.8 325.7 L376.2 326.3 L377.7 321.5 L379.2 320.2 L380.4 315.2 L381.7 307.9 L382.9 301.8 L384.1 303.3 L385.4 301.4 L386.6 302.4 L388.4 307.6 L390.2 310.4 L391.4 310.3 L392.7 314.2 L393.9 314.1 L395.7 303 L397.6 314.1 L399.4 302.4 L401.2 314.1 L402.4 311.3 L403.7 309.2 L404.9 308.5 L406.2 312.3 L407.4 311.6 L408.9 307.3 L410.4 300.6 L412.2 309.2 L414.1 300.6 L415.6 306.2 L417.1 314.1 L418.4 311.3 L419.6 307.9 L421.1 306 L422.7 304.3 L424.2 308.5 L425.7 315.3 L426.9 312.6 L428.1 312.1 L429.4 307.5 L430.6 306.4 L431.8 303 L433.4 308.2 L434.9 311.6 L436.4 308.9 L438 304.3 L439.5 309.6 L441 314.1 L442.6 305.7 L444.1 294.5 L445.9 297 L447.7 300.6 L449.2 303.6 L450.8 306.7 L452.4 315.1 L453.9 323.8 L455.1 324 L456.3 327 L457.5 328.7 L458.9 327.6 L460.4 324.9 L461.8 322.6 L463.1 325.1 L464.3 330 L465.8 322.3 L467.3 316.5 L468.6 319.5 L469.8 322.6 L472.2 314.1 L473.5 313.8 L474.7 315.3 L476 317.5 L477.6 315.9 L479.1 312.6 L480.5 312.8 L481.9 314.5 L483.3 317.5 L484.5 319.9 L485.8 324.9 L487 328.5 L488.8 323 L490.1 325.9 L491.3 332.2 L492.7 324.3 L494.2 315.3 L495.6 306.5 L497.4 312.6 L498.9 305 L500.5 295.5 L502 296.5 L503.5 295.5 L504.8 299.7 L506 302.2 L507.8 302.2 L509.1 311.8 L510.3 321.2 L511.5 317.4 L512.7 315.1 L513.9 314.6 L515.2 312.2 L516.4 312.6 L517.6 308.8 L518.8 307.7 L520 304.1 L521.9 308.9 L523.7 291.8 L525 300.7 L526.2 308.9 L528.6 313.8 L529.8 307.2 L531.1 303 L532.3 297.9 L533.5 305.2 L534.8 310.8 L536 318.7 L537.4 307 L538.8 292.9 L540.2 282 L541.5 288.7 L542.7 297.9 L545.1 294.3 L546.4 296.4 L547.6 299.2 L549.1 291.1 L550.6 284.5 L552.2 282.8 L553.7 279.6 L554.9 280.5 L556.2 281.2 L557.4 283.2 L558.9 291.7 L560.4 297.9 L562 308.9 L563.5 317.5 L564.8 316.6 L566 313.8 L567.5 309.7 L569 308.3 L570.2 306.9 L571.5 305.7 L572.7 306.5 L575.1 301.6 L576.7 299.4 L578.2 295.5 L579.7 290.5 L581.2 285.7 L582.4 286.3 L583.7 291.3 L584.9 291.8 L586.3 295.6 L587.8 300.8 L589.2 307.7 L590.4 309.8 L591.7 308.8 L592.9 310.9 L594.1 310.2 L595.5 306 L597 299.9 L598.4 296.7 L600.2 294.3 L601.8 297.3 L603.3 300.4 L604.5 299.7 L605.7 295.4 L606.9 295.5 L608.5 294.6 L610 291.8 L611.4 298.2 L612.9 305.7 L614.3 312.6 L615.5 308.3 L616.8 306.3 L618 301.5 L619.2 297.9 L620.4 294.5 L621.6 290 L622.9 289.2 L624.1 284 L625.3 282 L626.5 285.1 L627.8 285.7 L629 288.8 L630.2 293 L631.4 295.3 L632.7 295.9 L633.9 298.9 L635.1 300.4 L637.5 289.4 L638.7 291.3 L640 291.3 L641.2 293.2 L642.4 294.3 L643.6 293.6 L644.8 292 L646.1 294.6 L647.3 293 L648.6 292.4 L650 291.6 L652.4 289.1 L654 298.4 L655.5 305 L656.8 301.9 L658 297.7 L660.4 306.3 L661.6 304.9 L662.8 301.2 L664.1 301.2 L665.3 298.9 L666.7 304.8 L668.2 310.4 L669.6 317.3 L671.1 301.2 L672.6 287.9 L674.5 292.8 L676.9 263.4 L678.1 264.7 L679.4 266.8 L680.6 270.8 L682.2 268.3 L683.7 264.6 L685.2 265 L686.7 265.9 L688.2 268.2 L689.8 273.2 L691 269.8 L692.2 267.2 L693.4 262.2 L694.6 255.8 L695.8 244.8 L697.1 238.8 L698.3 230.4 L699.5 240 L700.8 248.7 L702 257.5 L703.2 267.1 L704.6 256.8 L706.1 246.1 L707.5 236.5 L709 238 L710.6 240.2 L712.4 251.2 L713.6 247.2 L714.9 246.2 L716.1 242.6 L717.6 246.9 L719.1 248.7 L720.3 255.3 L721.6 258 L722.8 263.4 L724.6 257.3 L726.2 252.7 L727.7 250 L729.2 250.9 L730.8 253.6 L732 257.4 L733.2 264.6 L734.6 263.6 L736.1 260.1 L737.5 259.8 L738.7 260.6 L740 262.7 L741.2 262.2 L742.7 267.8 L744.2 272 L745.5 278.6 L746.7 284.2 L748.5 272.3 L750.3 258.5 L751.7 251.6 L753.1 245 L754.5 236.9 L755.9 229.2 L757.3 235.5 L758.6 242.3 L760 252.8 L761.4 258.5 L762.9 252.9 L764.4 250 L766 231.1 L767.5 212 L768.7 223.5 L770 233.4 L771.2 243.2 L772.4 252.4 L773.6 252.3 L774.8 253.8 L776.1 257.1 L777.3 258.5 L778.5 258.3 L779.7 260 L780.9 262.2 L782.1 263.2 L783.4 265.9 L785.8 284.2 L787 273.7 L788.3 261 L789.5 267 L790.7 270.8 L792 280.4 L793.2 287.9 L795 258.5 L796.5 281.3 L798.1 301.4 L799.3 290.5 L800.5 275.7 L801.7 264.6 L803 279.2 L804.2 290.3 L805.4 284 L806.7 279.6 L807.9 273.2 L810.3 296.5 L811.8 295.1 L813.4 291.6 L814.9 283.3 L816.4 276.9 L817.6 285.3 L818.9 291.2 L820.1 297.7 L821.3 295.1 L822.6 290.7 L823.8 287.9 L825 292.8 L826.2 294.9 L827.4 300.1 L828.7 297 L830 295.2 L834.2 288.9 L838 300.2 L840.8 275.8 L844.5 302.1 L848.3 279.5 L851.1 302.1 L854.8 279.5 L858.6 303.9 L862 301 L866 304 L869.9 300.2 L875 303 L880 301 L884.3 301 L888.6 304.9 L891.8 302.4 L895 303 L898.1 302.8 L901.2 304.2 L904.3 302.2 L907.4 303.9 L911.2 301.7 L914.9 301.6 L918.7 302.1 L921.5 309.6 L926.2 303.9 L930.6 304.5 L935 303 L938.3 302.2 L941.7 305.2 L945 304.9 L948.3 304.6 L951.7 301.5 L955 302 L959.4 302.2 L963.7 302.1 L967.5 301.9 L971.2 302.1 L975 301.8 L978.7 304.1 L982.5 302.1 L986.2 301.4 L990 304 L996 306 L997.7 300.7 L999.9 306.4 L1002.1 301.6 L1004.2 307.1 L1005.9 302.6 L1007.6 306.6 L1009.1 297.5 L1011.5 307.1 L1013.7 301.2 L1015.9 305.3 L1018.1 296.4 L1019.9 306.5 L1021.6 300.8 L1023.4 305.4 L1025.3 301.3 L1027.2 305.1 L1029.1 301.2 L1031.4 306.3 L1033.5 302.2 L1035.1 305.1 L1037.5 297.7 L1039.6 305.3 L1041.8 301.1 L1043.7 307.1 L1045.5 301.9 L1047.6 306 L1050 303 L1052 296 L1055.5 394 L1058 292 L1060 300 L1062 310.4 L1063.8 302.3 L1066 312.1 L1067.9 302.9 L1069.9 305.1 L1072 301.4 L1074.1 311.5 L1076.4 300.9 L1078.1 307.9 L1079.7 302.7 L1081.8 307.4 L1083.8 300.1 L1085.9 307.5 L1088.2 301.3 L1089.8 305.7 L1091.4 300.3 L1093.1 306.9 L1095 302.4 L1097.4 306.9 L1099.1 300.8 L1101 308 L1103 300.9 L1105.3 307.7 L1107.1 302.2 L1109.6 307.6 L1111.7 301.8 L1113.7 305.8 L1115.8 302.2 L1118.2 306.2 L1120.6 298.4 L1122.2 305.3 L1124.5 299 L1126.4 308 L1128.8 296.1 L1131.1 307 L1132.8 297.6 L1134.8 306.4 L1137.1 302.2 L1138.8 307.7 L1140.6 301.1 L1142.3 307.3 L1144.5 298.3 L1146.4 305.1 L1148.8 300.5 L1150.3 307.6 L1151.9 298.6 L1154.2 307.3 L1156.1 301.4 L1158.5 306.3 L1160.5 300.8 L1162.4 308 L1164.3 301.4 L1166 306 L1167.7 300.3 L1169.9 305.7 L1172.2 302.8 L1174.4 305.6 L1176.8 301.3 L1179.1 307.4 L1180.7 301.7 L1182.7 307.2 L1185.2 302.7 L1187 307.6 L1188.7 301.7 L1190.5 305.7 L1192.4 300.4 L1194 308 L1196.4 300.2 L1198.1 306.5 L1200 302.8 L1202.5 305.8 L1204.5 301.7 L1206.9 306.7 L1208.6 302.1 L1210.7 306.6 L1212.2 301.2 L1214.6 305.5 L1216.2 302.4 L1218.3 307.8 L1220.7 302.3 L1222.9 306.3 L1224.9 300.2 L1225 307 L1227.4 303.3 L1229 306.9 L1230.7 301.9 L1232.9 305.4 L1235.2 300.4 L1237.6 309.7 L1239.2 308.9 L1240.8 315.3 L1242.3 312.9 L1244.8 310.2 L1246.6 301.3 L1249 310 L1251.3 308.6 L1253.2 313.6 L1255.3 305 L1257.3 307.7 L1259.2 303.7 L1260.7 311.4 L1262.3 311 L1264.4 318.4 L1266.1 311.1 L1268.5 311.3 L1270.5 304.4 L1272.1 309.8 L1274.5 309 L1276.7 311.3 L1278.5 303.3 L1280.2 308 L1282.1 302.1 L1283.6 307.3 L1285.8 303 L1287.6 306.9 L1289.7 299.6 L1291.5 311.1 L1293.1 307.5 L1295.6 308.2 L1297.9 303.7 L1300.3 306.7 L1302.4 304.9 L1304.4 311.6 L1306.2 314.4 L1308.2 318.5 L1310.3 302.5 L1312.8 306.2 L1315.2 301.3 L1317.5 305.6 L1319.2 300.6 L1320.7 304.8 L1322.5 301.8 L1324 304.4 L1326 300.7 L1327.7 306.7 L1329.9 303.1 L1332.1 308.1 L1334.5 304.2 L1336.1 306.2 L1338.2 300.4 L1339.9 305 L1342.4 300.3 L1344.2 304.4 L1346.1 300.3 L1347.8 304.5 L1350.3 301.1 L1352.6 308.1 L1354.5 307.5 L1356.3 315.6 L1358.3 316 L1359.9 319.6 L1361.4 312.7 L1363.4 310.7 L1365.2 311.6 L1367.4 317 L1369.9 305.2 L1371.4 307.9 L1373.6 305.9 L1375.9 314.7 L1378.2 308.5 L1379.8 309.7 L1381.6 302.6 L1383.5 314 L1385 310.8 L1387.4 321.3 L1389.3 316 L1391.4 316.3 L1392.9 309.2 L1394.5 311.9 L1396.7 304 L1399 308 L1401.1 304.8 L1403.7 310.7 L1405.8 307 L1407.6 313.3 L1410 313.4 L1412 329.9 L1413.7 321.8 L1415.7 315 L1417.4 305.9 L1419.3 312.3 L1421.2 310.8 L1423.4 323.1 L1425.7 325.7 L1428.3 322.1 L1430.1 308.2 L1432.1 312.4 L1434.1 311.1 L1436.4 317.1 L1437.9 314.9 L1440 315.4 L1442.4 305.8 L1444.4 315.2 L1446.1 316.6 L1448.6 326.6 L1450.7 319.2 L1452.2 323.1 L1454.1 321.1 L1456.3 325.3 L1458.2 318.4 L1459.9 331.5 L1461.8 329.8 L1463 330"/>
</g>
<path fill="#000" d="M116 38h1347v1h-1347zM116 518h1347v1h-1347zM116 38h1v480h-1zM1462 38h1v480h-1zM116 519h1v4.6h-1zM284 519h1v4.6h-1zM453 519h1v4.6h-1zM621 519h1v4.6h-1zM789 519h1v4.6h-1zM957 519h1v4.6h-1zM1126 519h1v4.6h-1zM1294 519h1v4.6h-1zM111 90h5v1h-5zM111 165h5v1h-5zM111 240h5v1h-5zM111 315h5v1h-5zM111 389h5v1h-5zM111 464h5v1h-5z"/>
<rect x="1047.14" y="47.66" width="406.06" height="80.77" rx="3.7" fill="#fff" fill-opacity="0.8" stroke="#cccccc" stroke-width="1.39"/>
<circle cx="1073.05" cy="62.65" r="2.78" fill="#1f77b4"/>
<path d="M1054.54 102.18H1091.57" stroke="#ff7f0e" stroke-width="2.08" stroke-linecap="square"/>
<text x="1106.62" y="69.13" font-size="19.44" textLength="97.65" lengthAdjust="spacingAndGlyphs">Raw Data</text>
<text x="1106.57" y="96.3" font-size="19.44" textLength="269.61" lengthAdjust="spacingAndGlyphs">Butterworth Filtered Data</text>
<text x="1106.85" y="117.02" font-size="19.44" textLength="338.46" lengthAdjust="spacingAndGlyphs">(N=6, Tc=3.3333 min, Type: low)</text>
<rect x="166" y="575.5" width="504.9" height="479" fill="#808080" fill-opacity="0.2" stroke="#808080" stroke-opacity="0.2" stroke-width="1.39"/>
<path d="M116.5 576V1054M284.5 576V1054M453.5 576V1054M621.5 576V1054M789.5 576V1054M957.5 576V1054M1126.5 576V1054M1294.5 576V1054M117 604.5H1462M117 658.5H1462M117 711.5H1462M117 764.5H1462M117 818.5H1462M117 871.5H1462M117 925.5H1462M117 978.5H1462M117 1031.5H1462" fill="none" stroke="#b0b0b0" stroke-width="1.11" stroke-dasharray="1.11,1.83"/>
<g clip-path="url(#c2)">
<path fill="#1f77b4" stroke="#1f77b4" stroke-width="1.5" stroke-linejoin="round" d="M116 1027 L130.9 1020.6 L133.1 1018.4 L137.3 1024.8 L142.7 1015.2 L148 1022.7 L156.5 1020.6 L165.1 1023.7 L171.5 1000.2 L175.7 1015.2 L186.4 1010.9 L192.8 983.2 L201.3 989.6 L204.5 972.5 L212 970.4 L216.3 959.7 L222.7 953.3 L226.9 942.7 L235.5 944.8 L239.7 906.4 L244 917.9 L250.4 898.7 L256.8 877.4 L258.9 862.5 L265.3 896.6 L273.9 885.9 L282.4 879.5 L295.2 881.7 L301.6 909.4 L312.2 898.7 L320.8 915.8 L329.3 909.4 L336 896 L343.2 898.4 L352.7 879.3 L359.9 891.2 L367.1 896 L374.2 893.6 L379 867.3 L383.8 857.8 L393.3 853 L395.7 838.7 L400.5 862.6 L407.7 896 L412.4 905.6 L419.6 919.9 L426.8 917.5 L436.3 910.3 L445.9 915.1 L453.1 929.4 L460.2 915.1 L466.2 896 L469.8 850.6 L476.9 869 L484.1 865 L491.3 857 L493.7 849 L500.8 855 L505.6 877 L508 899 L512.8 929.4 L517.6 910.3 L527.1 900.8 L534.3 891.2 L537.1 883.8 L539 807 L540.5 707 L541.5 675 L544.4 662 L547.5 675 L549 707 L550 807 L552 860.3 L555.2 894.5 L560.5 905.1 L562.7 871 L569.1 858.2 L575.5 860.3 L579.7 877.4 L581.9 903 L588.3 888.1 L592.5 883.8 L596.8 913.7 L601.1 888.1 L601 847 L603 797 L606 752 L612 742 L619 752 L622 797 L626 837 L634 862 L645 877 L652.3 887 L656.5 897 L662.9 913.7 L667.2 887 L669 837 L673 822 L677 837 L682.1 909.4 L688 847 L690 807 L695 792 L700 807 L702 867 L710.5 875 L719 900 L724.1 920 L726.7 949.4 L730.1 995 L734.4 1003 L741.2 995 L749.7 999 L758.3 1003 L766.8 1001 L771.9 1018 L780.4 1013.5 L789 1017.5 L799.2 1019.5 L809.5 1020 L819.7 1024 L860 1025.5 L898.7 1027 L921.8 1028 L1049 1028 L1052 1015.5 L1056 1010.2 L1060.5 1012.5 L1062.8 1028 L1100 1028.3 L1300 1028.3 L1350 1027 L1357 1024.5 L1364 1027 L1400 1026.5 L1463 1024.5 L1463 1032 L1100 1032.2 L852.5 1032 L806.2 1029.7 L780 1028.4 L767.4 1024.1 L746.1 1024.1 L724.8 1019.8 L712 1009.2 L699.2 996.4 L686.4 1009.2 L673.6 990 L667.2 1002.8 L654.4 998.5 L639.5 985.7 L626.7 981.4 L609.6 956 L601.1 976 L592.5 1004.9 L577.6 998.5 L569.1 990 L558.4 1000.6 L552 996.4 L541.3 974 L530.7 998.5 L520 983 L512.8 996.9 L505 986 L498.4 996.9 L488.9 992.1 L479.3 987.3 L465 994.5 L453.1 1008.8 L436.3 1001.7 L419.6 999.3 L407.7 992.1 L388.6 999.3 L371.8 987.3 L359.9 994.5 L336 992.1 L327.2 996.4 L322.9 1006 L312.2 1002.8 L297.3 1000.6 L278.1 998.5 L265.3 1000.6 L256.8 998.5 L252.5 1007 L244 1005.2 L226.9 1009.4 L214.1 1011.6 L201.3 1018 L180 1026.3 L165.1 1028.4 L116 1033.8Z"/><path fill="none" stroke="#1f77b4" stroke-width="5.56" stroke-linecap="round" d="M258.5 819.8h0M267.5 827.3h0M258.5 834.1h0M258.5 847.4h0M267.5 852.3h0M267.5 856.5h0M295.2 857.6h0M290.9 865.1h0M295.2 864h0M324 877.2h0M330.4 884.3h0M222.7 918.4h0M239.3 904.5h0M239.3 909.6h0M239.3 914.7h0M239.3 919.8h0M239.3 924.9h0M239.3 930h0M223.7 931.2h0M204.5 969.6h0M193.9 978.1h0M398.1 789.1h0M393.3 803h0M398.1 805.4h0M383.8 807.8h0M393.3 815h0M396.9 819.7h0M396.9 825.4h0M396.9 831h0M357.5 825h0M357.5 835.3h0M383.8 825.2h0M383.8 832.9h0M357.5 849.6h0M343.2 852h0M352.7 856.8h0M359.9 859.1h0M342 871.1h0M342 881.8h0M493.2 777.2h0M500.4 789.1h0M493.7 797h0M500.8 800.6h0M471 812.1h0M471 831.7h0M461.4 878.3h0M419.6 903.3h0M438.7 902.1h0M528.3 870.4h0M528.3 877h0M528.3 884.2h0M534.3 877h0M515.2 881.8h0M515.2 886.6h0M515.2 891.4h0M400.5 1000.1h0M419.6 1003.7h0M486.5 1002.5h0M530.7 1001.3h0M544.4 597.3h0M544.4 605.5h0M544.4 607.7h0M544.4 628.4h0M544.4 640h0M544.4 643h0M544.4 653h0M544.4 657h0M544.4 661h0M611 617.7h0M613.2 617.3h0M616.5 627.2h0M607.6 634.3h0M611 638.8h0M614.3 643.2h0M616.5 650.5h0M607.6 653.2h0M627.6 653.2h0M627.6 658.7h0M609.8 659.9h0M613.2 663.2h0M616.5 670.5h0M627.6 670.5h0M627.6 683.2h0M627.6 693h0M627.6 699.8h0M627.6 710.9h0M637.6 728.2h0M627.6 731h0M627.6 735.3h0M627.6 739.7h0M627.6 744h0M637.6 748.6h0M637.6 753h0M637.6 757.5h0M637.6 761.9h0M637.6 766.3h0M648.7 768.6h0M648.7 779.6h0M633.1 775.2h0M648.7 790.7h0M670.4 732h0M670.4 737h0M670.4 742h0M670.4 747h0M670.4 752h0M670.4 757h0M670.4 762h0M698.6 692h0M698.6 695.9h0M698.6 699.8h0M698.6 708.7h0M698.6 715.3h0M698.6 726.4h0M698.6 730.8h0M697.5 745.3h0M698.6 755h0M698.6 757.5h0M567.7 808.5h0M567.7 811.8h0M574.3 805.2h0M574.3 817.4h0M567.7 831.8h0M574.3 836.2h0M528.5 870.4h0M528.5 874.7h0M528.5 878.9h0M528.5 883.2h0M588.3 861.9h0M710.9 866.1h0M739.7 978.1h0M750.4 987.7h0M766.4 989.8h0M636.3 996.2h0M686.4 1014.4h0M531.7 1000.5h0M165.2 1021.4h0M165.6 1022.5h0M166.1 1005.2h0M166.9 1017.2h0M167.9 997.4h0M170.2 1003.8h0M170.9 1001h0M171.6 986.1h0M174.2 1007.7h0M175.7 1017.7h0M176.8 1017.3h0M177.8 1012.4h0M179.2 1013.1h0M180.2 1014.7h0M181.4 983.1h0M180.9 983.9h0M181.8 1011.1h0M182.4 1009.2h0M182.9 1011.4h0M182.9 1009.2h0M183.7 1011.4h0M185 1007.6h0M193.1 981.3h0M194.3 976.2h0M194 986.4h0M194.6 986.9h0M195.6 961h0M195.6 976.5h0M196.7 979.4h0M198 978.6h0M198.8 985.7h0M200 976.6h0M200.2 981.2h0M200.9 956.3h0M201.2 966.7h0M202.3 962.2h0M202.5 953.1h0M203.2 971.3h0M202.9 956.7h0M204.2 976.3h0M204.7 972.1h0M208.8 973.8h0M210.7 953.8h0M211 972.8h0M211.5 940.3h0M211.7 971.8h0M213.2 967.9h0M213.7 966.6h0M215.3 963.9h0M216.3 957.6h0M217.4 959.5h0M218 956.5h0M218 927.2h0M219.4 959.5h0M220 955.1h0M221.5 954.8h0M221.5 955.5h0M225.1 941.4h0M228.4 943.8h0M229.5 940.4h0M233.3 947.2h0M233.6 939.2h0M236 942.6h0M237.1 917.2h0M238.3 922.8h0M240.3 909.5h0M243.3 915.1h0M243.6 914.2h0M245.2 909.2h0M245.6 895.8h0M247.5 900.6h0M247.5 896h0M248.7 891h0M249.5 892.5h0M250.7 886.4h0M251.9 889.2h0M252.8 886.2h0M253.8 879.6h0M256.4 876.5h0M258.3 867.7h0M262.9 883.5h0M263.6 883.6h0M264.6 893.4h0M266.4 894.9h0M267.1 886.6h0M267.9 868.1h0M267.9 887.4h0M269.2 885.5h0M270.2 880h0M270.8 889.3h0M271.6 876h0M273.3 881.9h0M273.7 878.9h0M275 858.2h0M275.6 876.2h0M277 852.2h0M277.7 860.6h0M278.7 865h0M278.7 880.6h0M279.8 861.8h0M280.6 872.7h0M282.4 878.1h0M282.1 870.5h0M283.4 878h0M284.1 869.7h0M286.4 878.3h0M287.7 859h0M288.5 879.9h0M290.8 874.5h0M291.9 868.6h0M295.6 880.1h0M296.7 883.3h0M298.1 891.1h0M298.5 884h0M300.5 900.7h0M300.9 903.5h0M303.3 902.4h0M306.9 902.5h0M309 899.9h0M309.8 883.7h0M311.4 884.7h0M312.3 887.7h0M312.6 885.6h0M314 891.6h0M315.2 903.6h0M315.8 904.7h0M320.2 882h0M321.3 910.5h0M322.1 895.9h0M323.3 913h0M324.5 904.9h0M325.8 907.1h0M327.9 893.8h0M328.5 900.9h0M329.8 875.9h0M331.5 873h0M331.8 900.1h0M333.3 898h0M333 893.9h0M334.7 882.2h0M335.6 895.2h0M335.8 876.1h0M337.2 862h0M337.2 893.9h0M337.6 886.4h0M337.8 892.3h0M338.7 894h0M339.2 893.3h0M340.2 889.4h0M340.1 860.7h0M341.4 891.1h0M340.8 877.6h0M342.5 896.5h0M342 888.8h0M343.1 897.7h0M344.3 892.8h0M345.3 890.6h0M346 889.3h0M347.5 857.5h0M348.9 870.8h0M349.7 875.3h0M350.1 873.7h0M351.3 867.2h0M352.3 868.9h0M352 861.4h0M353.3 876.5h0M353.1 876.7h0M354.3 873.1h0M354.7 865.5h0M356.1 881.7h0M357.1 886.1h0M358.4 879.6h0M361.9 889.4h0M364.4 893.3h0M365.3 887.8h0M365.8 893.4h0M367.1 891.4h0M368.1 893.5h0M369.8 893.9h0M372.6 883.4h0M373.7 889.4h0M375 888.9h0M376 881.8h0M376.7 877.7h0M376.6 847.8h0M377.9 868.5h0M381.2 851.7h0M382.1 857.8h0M383.4 850.8h0M384.5 851.5h0M384.9 856.5h0M384.6 840.1h0M386.4 841.6h0M387 840.6h0M389.3 851.5h0M389.7 850.6h0M390.7 851.9h0M391.8 842.1h0M392.5 842.8h0M392.7 820h0M392.6 845.1h0M393.8 843.5h0M398.8 849.1h0M402.3 865.1h0M402.5 840.9h0M402.9 868.7h0M403.8 851.5h0M404.6 876.3h0M405.5 886h0M410.6 896h0M412.2 902.4h0M412.7 905.5h0M414.9 909.3h0M423.3 915.2h0M424.2 915.6h0M425.2 914.8h0M425.5 903.4h0M426.1 913.6h0M425.9 916.3h0M426.9 916.3h0M427 910.4h0M427.9 914.1h0M429.2 913.4h0M429.8 914.2h0M435.9 910.4h0M436.9 910.2h0M439 904.4h0M439.5 908.7h0M441.1 885.9h0M441.7 899.1h0M443.5 898.8h0M443.1 906.7h0M444.1 896.9h0M443.9 902.8h0M445.3 910.5h0M446.4 907.9h0M445.6 914.7h0M446.9 913.4h0M447.7 918.1h0M448.7 908.5h0M449.9 914.6h0M451.2 919.4h0M452.1 915.7h0M452.8 923.2h0M454.2 921.6h0M454.2 908.6h0M454.7 897.3h0M455 909.8h0M455.8 915.8h0M456 900.2h0M456.8 916.5h0M457.6 910.4h0M458.6 916.7h0M460 914.2h0M460.7 904.4h0M461.4 887.5h0M462 905.6h0M463.2 899.7h0M463.2 902.4h0M464.3 897.2h0M465.1 872.6h0M465.2 891.4h0M467.2 874.2h0M467.5 867h0M468.4 845.9h0M469.2 857.1h0M469.1 847.2h0M470.6 825.3h0M472.2 849.3h0M472.8 857.2h0M474.9 857.2h0M476.8 848.8h0M478.3 858.3h0M479.2 860.7h0M479.6 852.5h0M483 862.9h0M487.1 860.7h0M488 857.9h0M488.6 856.1h0M490.7 855.2h0M491.5 840.2h0M493.3 836.2h0M492.6 837.1h0M494.1 827.8h0M497.7 845h0M499.6 852.4h0M500.8 830h0M501.7 860.3h0M503 864.9h0M503.3 836.9h0M504.3 862.5h0M505.5 848.5h0M505.5 872.4h0M505.8 858.4h0M507.1 889.5h0M507.9 889h0M509.1 893.3h0M510.4 904.1h0M510.8 916.1h0M512.2 919.7h0M512.2 908.9h0M512.6 926.8h0M513.5 918.4h0M514.8 914.5h0M517.4 909.4h0M517.6 890h0M519.5 901.5h0M520.2 899.9h0M521.2 900.2h0M521.7 899.8h0M522.5 898.9h0M522.9 887.1h0M524.1 900.5h0M525.1 881.1h0M525.6 893.8h0M527 883.7h0M527.9 890.3h0M529.1 880.5h0M530.1 896.3h0M531.1 881.6h0M532 892.6h0M532.8 881.2h0M534.6 857.8h0M535.7 874.8h0M536.1 854.3h0M537.3 857.5h0M539.8 732.5h0M541 685.2h0M541.8 670.9h0M543.1 667.9h0M547.3 666.3h0M548.3 670.3h0M553.6 873.2h0M557.4 893.8h0M559.1 900h0M559.7 896.7h0M564.8 852h0M565.7 842.7h0M566.2 861.9h0M566.6 859.6h0M567.7 853.1h0M569.2 836.5h0M568.8 850.1h0M570.1 855.6h0M570.9 822.9h0M571 846.1h0M572.2 852.4h0M572.1 854.9h0M572.8 825.2h0M574 839.1h0M575.1 842.7h0M575.9 861.4h0M577.5 855.3h0M578.2 849.9h0M578.6 868.7h0M579.9 876.3h0M580.3 874.3h0M581 884.7h0M582.9 899.7h0M584.2 885.7h0M585.4 872.5h0M586.9 883.6h0M588.2 884.8h0M589.5 863.9h0M590.3 884.6h0M591.5 877.6h0M593.2 880.2h0M594.6 893.1h0M595.6 883.4h0M597.1 897.4h0M598.3 903.1h0M598.6 881.9h0M600.4 894.5h0M600.5 870.4h0M606 748h0M609.8 728.9h0M610.9 732.4h0M610.7 741.5h0M612 711.2h0M613.9 717.2h0M615.5 735.9h0M616.3 744h0M616.7 715.2h0M616.5 728.5h0M618.5 737.7h0M619.6 753.1h0M621.4 779.4h0M622.2 786.6h0M624.4 797.8h0M625.2 819.1h0M625.9 828.2h0M626.9 824.7h0M626.5 819.3h0M628 841.4h0M627.9 820.7h0M631 846.8h0M632.5 852h0M635.5 831.9h0M635.8 845.2h0M637 845h0M637.6 865h0M637.8 854.3h0M638.8 847.8h0M640.5 866.9h0M641.3 856.6h0M642.3 870.4h0M642.1 870.8h0M645.2 876.7h0M645.2 849h0M646.3 874.7h0M646.3 850.9h0M645.9 855.9h0M646.8 873.8h0M648.3 874.9h0M648.6 876.4h0M649.5 863.8h0M649.9 871.2h0M650.5 852.3h0M652.2 862.7h0M653.3 860.1h0M653.2 882.2h0M653.8 880.3h0M655.1 874.4h0M654.9 861h0M656.1 882.2h0M657.7 882.8h0M660.6 905.5h0M662.2 903.3h0M663.1 901.6h0M664 887.3h0M664.6 882.6h0M667.1 859.1h0M667.7 852.8h0M669.3 834.6h0M670 829.1h0M671.3 825.7h0M671.4 804h0M671.9 791.9h0M673.4 811.3h0M673.5 815.8h0M673.8 799.1h0M674.6 816.7h0M674.8 800.3h0M674.8 814.7h0M676.4 828.3h0M677 810.6h0M678.4 820.3h0M679.4 864.2h0M679.7 861.8h0M681.2 888.3h0M682.1 903.8h0M686.6 842.8h0M688.1 845.3h0M689.4 816h0M689.5 804.6h0M691.6 773.4h0M691.7 772.9h0M691.9 772.9h0M693.2 788.7h0M693 775.2h0M693 794.5h0M693.6 771.8h0M695.2 780.3h0M698.1 789.3h0M699.1 786.2h0M700 805.5h0M702.5 837.4h0M705 858.4h0M706.3 853.3h0M707.3 870.8h0M707.9 850.2h0M707.8 867.5h0M708.8 850.6h0M709.8 867.8h0M710.7 869.6h0M711.6 877.2h0M712 876h0M712.7 878.9h0M714 881.7h0M714.7 862.8h0M720.6 904.9h0M721.7 909.1h0M722.9 908h0M723.6 912h0M724.8 903h0M724.9 902.3h0M726.2 926.4h0M726.5 935h0M727.6 961.1h0M728.7 979.6h0M729.5 971h0M730.4 992.3h0M730.2 993.2h0M730.6 996h0M731.4 992.9h0M732 987.5h0M732.8 1000h0M733.7 1002h0M733.5 1000.6h0M734.6 1001.4h0M736.1 998.5h0M737.4 996.2h0M736.7 999.5h0M738.3 996.7h0M738.7 994.1h0M739.1 995.6h0M740.5 990.7h0M741.3 991.6h0M742.4 994.8h0M743.3 995.8h0M747.5 997.9h0M750.2 998.2h0M750.5 999.1h0M751.8 1000h0M753 999.4h0M753.9 1000h0M754.9 997.7h0M755 998.1h0M755.7 989.4h0M756.4 987.9h0M757 1001.4h0M756.8 978.2h0M757.7 996.9h0M759.4 1002.2h0M760.2 1002.2h0M761 999.8h0M761.9 1000h0M762.8 999.7h0M764 998.2h0M765 999.3h0M765.8 992.1h0M767.3 1001.4h0M768.3 999.5h0M769 998.7h0M770.4 1009.2h0M770.8 1013.4h0M771.8 1015.8h0M773.3 1017.3h0M774.4 1002.7h0M774.3 1013.7h0M775.3 1012.4h0M775.8 1013.3h0M778 1019.4h0M781.4 1016.9h0M785.8 1019.5h0M788.5 1019.2h0M789.2 1023.6h0M165.2 987.6h0M171.6 997.2h0M173.2 1003.4h0M178 994.3h0M181.5 981.1h0M183.6 1008.3h0M186.2 1006.1h0M190.9 963.4h0M192.4 974h0M205.4 958.3h0M206.2 963.4h0M209.9 966.9h0M211.3 945.5h0M214.4 962.5h0M224 947.9h0M233.5 933.6h0M233.7 929.5h0M236.2 932.6h0M241.6 905.1h0M244 907.9h0M264.5 883.9h0M267.3 848.1h0M269.4 876.5h0M274.8 850.2h0M276 874.8h0M277.6 876.3h0M281.9 829.6h0M283.9 864.8h0M288.2 869.3h0M288.5 842.1h0M290.4 874.2h0M291.2 871.2h0M294.2 865.8h0M295.1 876.6h0M296 847.2h0M296.7 880.8h0M298.4 887h0M300.9 901.1h0M301.7 892.1h0M304.2 899.7h0M305.1 894.4h0M305.7 895.8h0M307 895.2h0M310.1 879h0M313.3 883.1h0M313.9 893.3h0M315.2 879.5h0M320.5 907.3h0M323.6 876.3h0M325 874.6h0M329.9 879.7h0M338.7 871.2h0M340.1 881.9h0M346.9 875.9h0M357.2 879.8h0M359.3 867.2h0M362.1 885.8h0M363 884.8h0M363.8 874.3h0M365.7 864.5h0M367.1 864h0M367.8 885.4h0M368.6 884.4h0M370.7 865.8h0M372.1 885.3h0M374 859.9h0M375 881.3h0M376.2 869.3h0M377.2 838.6h0M378.9 839.1h0M391.8 837.5h0M393.1 844.6h0M393.7 835.2h0M394.8 824.4h0M398.8 827.4h0M404.5 869.1h0M406.8 882.3h0M416 897h0M417 907.2h0M418.7 908.9h0M423.2 890.7h0M425.3 899.4h0M426.3 911.4h0M436.6 896.6h0M438.3 878.4h0M439.2 878.1h0M440.5 906.9h0M455.2 905.2h0M457.3 896h0M457.9 872.5h0M459.9 863.6h0M462.1 875.2h0M474.9 858.4h0M476.2 825h0M477 859.3h0M487 849h0M490 835.5h0M491.5 817.5h0M496.8 823h0M499.8 843.5h0M503.8 862.4h0M504.6 823.3h0M508.6 889.1h0M510.5 903.2h0M512.4 903.6h0M524.9 893.8h0M527.3 895.2h0M529.3 877.4h0M534.7 879.6h0M546.7 663.8h0M547.6 677.7h0M548.7 667.4h0M550.8 824.5h0M555.8 878.7h0M562.8 850.5h0M567.1 823.6h0M568.3 844.6h0M570.3 842.7h0M576.6 853h0M580 871.2h0M580.9 882.5h0M587.8 872.4h0M613.9 704.7h0M616.8 708.9h0M622.6 791.9h0M628.4 827.5h0M628.5 822.3h0M637.9 843.2h0M642.1 864.5h0M643.1 825.2h0M644.3 853.3h0M646.6 851.2h0M648 859.8h0M652.8 876.3h0M654.2 840h0M654.5 850.1h0M657.1 876.4h0M657.9 874.6h0M659.1 883.5h0M673.1 782.9h0M677.8 812.1h0M679.7 842.9h0M692.7 786.9h0M700.2 774.1h0M703.3 853.4h0M704.7 863.8h0M709.4 834.8h0M717.2 874.3h0M717.5 852.1h0M719.5 848.7h0M721.1 892.5h0M725.1 916.9h0M733.4 994.9h0M734.8 997.1h0M736.7 994.3h0M737.6 974.1h0M742.1 977.2h0M750.9 993.4h0M751.9 994.9h0M755.3 987h0M756.2 995.1h0M756.9 985.4h0M758.1 996.6h0M759.3 988.9h0M774.7 1001.3h0M776.7 1014h0M779 1014.3h0M779.9 1010.6h0M781 1009.3h0M199.7 1018.3h0M202 1018.5h0M203.6 1016.9h0M205.8 1015.4h0M211.8 1012.2h0M214 1012.1h0M214.5 1011.5h0M216.2 1015.3h0M217.3 1013.1h0M217.9 1012.5h0M218.7 1011h0M219.9 1010.2h0M221.1 1014h0M221.7 1014h0M222.8 1012.2h0M223.6 1011.1h0M225.3 1009.6h0M225.9 1010.1h0M229.4 1009.7h0M230 1008.2h0M232.4 1008.4h0M232.5 1007.7h0M233.6 1011.5h0M234.8 1007.9h0M236.2 1007.2h0M237.9 1012.1h0M239.3 1008.4h0M239.6 1006h0M241 1009.4h0M247.2 1005.5h0M249.1 1006.5h0M249.8 1007.7h0M250.8 1006.3h0M251.8 1007.1h0M252.5 1006.3h0M257.4 998.5h0M258.5 999.2h0M258.8 999.9h0M260 1003.2h0M261.7 1000.6h0M263.3 999.6h0M264.1 1000h0M265 1004.5h0M265.7 1003.7h0M266.9 1002.1h0M268.4 999.7h0M268.7 1004.2h0M272.1 1000.6h0M272.5 1000.6h0M273.8 1002.1h0M275.2 998.6h0M277.4 998.4h0M278.3 1001.6h0M279.2 1001.1h0M279.6 998.9h0M280.6 1000.4h0M282 1000.4h0M282.9 1003.7h0M284.1 1000.1h0M284.9 1004h0M286.2 999.5h0M286.9 1001h0M289.3 1000h0M289.9 1005.3h0M293 1005.3h0M294.1 1001.8h0M295.4 1002.6h0M296.1 999.8h0M296.8 1005.6h0M297.3 1001h0M298.6 1004.1h0M299 1004.4h0M300 1000.5h0M299.6 1004.8h0M300.8 1007.5h0M301.1 1010.8h0M301.6 1008.9h0M302.2 1000.7h0M302.9 1004.4h0M302.6 1009.5h0M302.6 1009.4h0M304.1 1003.4h0M303.6 1009.1h0M304.4 1001.9h0M305.4 1011.4h0M305.7 1002.5h0M305.6 1004h0M307 1007.9h0M309.4 1001.9h0M309.8 1001.5h0M311.5 1009.7h0M312.7 1006.4h0M312.5 1002.4h0M313.8 1003.5h0M315.3 1008h0M316 1004.2h0M317.1 1004.8h0M316.8 1005.4h0M318.6 1007h0M324 1004.8h0M323.7 1007.5h0M325.5 998.9h0M325.5 1007.7h0M327.2 999.4h0M327.4 1002h0M327.8 999h0M328.8 995.8h0M329.6 1005.7h0M330.2 998.6h0M331.2 999.3h0M332.3 993.4h0M333.4 993.1h0M334 993.8h0M336.4 991.8h0M337.2 991.7h0M342 994.3h0M342.7 996.8h0M343.5 994h0M343.9 993h0M345.3 993.3h0M345.6 992.3h0M346.7 995.2h0M347.7 997.9h0M348.7 993.3h0M348.9 992.8h0M350.3 996.2h0M349.6 994.9h0M355.5 993.2h0M356.9 996.9h0M358.4 1002.6h0M358.9 996.6h0M359.9 997.9h0M360.5 1002.2h0M360.8 1001.1h0M362.3 997h0M361.9 993.8h0M363.5 999.6h0M363 1002.8h0M363.9 995.2h0M364.4 996.3h0M370.1 995.5h0M371.4 988.5h0M371.2 994.1h0M372.4 989.5h0M372.9 989.5h0M375 999.4h0M375.5 989.6h0M377 991.4h0M387.2 997.9h0M389.2 998.7h0M390.5 998.3h0M390.8 1003.8h0M391.9 1005.8h0M392.5 1006.9h0M393.6 1004.3h0M394.9 996.2h0M395.5 1000.1h0M397 1002.5h0M398.9 995.9h0M399.7 1003.3h0M401.3 996h0M402.2 993.3h0M402.5 1004.5h0M404.2 994.8h0M403.9 993.5h0M405.4 993.3h0M405.8 992.6h0M407 994.6h0M408.4 999.8h0M407.8 992.3h0M408.7 995.1h0M409.3 992.5h0M410 996.4h0M411.2 993.4h0M418.5 999.3h0M419 998.5h0M421.2 1000.8h0M421.9 999.7h0M423.1 998.8h0M425.5 1000.1h0M425.9 999.4h0M427 1001.2h0M427.7 1003.3h0M428.9 1000.2h0M430.4 1001.3h0M430.2 1005.1h0M431.1 1004.3h0M431.5 1003.9h0M432.3 1001.7h0M433 1004.3h0M433.5 1005.5h0M434.3 1001.5h0M434.8 1003.8h0M435.7 1001.5h0M436.5 1002h0M444.9 1011.7h0M445.7 1006.4h0M446.8 1005.9h0M448.4 1006h0M450.2 1010.9h0M451.2 1012.1h0M451.4 1008h0M451.9 1009.1h0M454.3 1011.5h0M455.4 1007.7h0M457.7 1003.4h0M460.7 998.4h0M464.4 1002.1h0M464.5 995.4h0M466.2 993.8h0M467.5 998.9h0M467.7 993.3h0M467.9 992.8h0M469.4 995.8h0M468.7 994.4h0M471.6 992h0M473 989.5h0M478.3 988.4h0M477.9 989.3h0M479.3 989.9h0M478.9 988.4h0M479.8 987.2h0M480.3 996.4h0M480.9 993.7h0M480.6 994.6h0M481 989.7h0M481.8 997.5h0M482.2 991.7h0M483.4 988.8h0M482.9 992.3h0M483.9 992.6h0M484.9 991.4h0M485.8 992.8h0M486.5 995.5h0M486.6 991.4h0M488.8 1000.1h0M489.1 991.7h0M489.5 993.1h0M490.4 1001.1h0M491.4 992.8h0M492.3 996.2h0M493.5 996.4h0M494 997.5h0M494.7 997.2h0M496.4 998.9h0M496.8 997h0M497.8 995.8h0M499.3 995.6h0M500.1 998.9h0M500.6 993.6h0M503.3 988.9h0M504.4 990.5h0M504.6 985.3h0M505.6 987.2h0M507.1 990.1h0M506.8 994h0M508.1 990h0M509.7 992.6h0M511.4 996.1h0M514.1 1003.5h0M514.6 991.9h0M515.9 990.4h0M523.6 988.2h0M526.1 991.7h0M530.4 997.3h0M530.5 997.7h0M532.4 1003.5h0M533 993.5h0M533.7 993.5h0M535.3 991.8h0M535.4 987.8h0M536.1 992.4h0M536.9 988.4h0M537 988.8h0M537.8 983.1h0M539.1 980.6h0M538.5 984.4h0M539.6 977.1h0M540.1 985.2h0M540.6 978.6h0M542.3 975.1h0M542 979.1h0M542.6 986.3h0M544.1 988h0M544.7 983.7h0M546 983.3h0M546.8 989.6h0M548.1 987.4h0M549.3 990h0M549.8 998.3h0M551.5 1000.1h0M550.6 997h0M552 1002.8h0M551.8 1000.9h0M553 999.9h0M553 1005h0M554.3 1001.9h0M554.1 998.5h0M554.7 1007.9h0M554.9 1000.2h0M555.7 1004.6h0M555.9 1002.3h0M556.6 1005.6h0M557.4 999.7h0M557.6 1002.3h0M559 1000.7h0M560.3 998.9h0M561 1000.2h0M563 1005.3h0M565.2 993.9h0M565.7 993.5h0M568.2 996h0M568.8 990.8h0M570 990.6h0M571 995h0M570.8 992h0M572.3 1002.9h0M572.2 992h0M572.5 995.7h0M572.8 994.1h0M574.4 999.3h0M575 995.5h0M576.2 996.8h0M576.7 1000.6h0M578.1 1003h0M578.3 1001h0M580.3 999.7h0M581 999.4h0M582 1000.2h0M582.9 1006.2h0M583.7 1001.9h0M584.8 1006.9h0M585.7 1005.8h0M587.4 1001.9h0M587.9 1003.1h0M589.2 1003.5h0M590.2 1004.3h0M591.3 1004.4h0M592 1005.7h0M597.3 995.1h0M599.8 979.9h0M603 971.4h0M604.3 975.7h0M605.3 967.6h0M605.6 969.2h0M607.2 966.6h0M607.8 961.6h0M608.9 961.2h0M610.3 959.8h0M610.6 959.2h0M612.6 962.9h0M613.6 969.2h0M615.2 969.8h0M614.8 966.4h0M616.2 967.6h0M616.5 967.4h0M617.4 966.8h0M616.6 966.3h0M617.8 969.2h0M618.7 975.4h0M620.3 971.3h0M620.7 978.8h0M621.8 978.3h0M623 975.8h0M624 977.6h0M625.2 983.1h0M625.5 981.5h0M627 985.2h0M628.4 981.6h0M628.5 983.7h0M628.8 984.5h0M630 984.8h0M632.1 984.2h0M633.2 984.6h0M634.1 983.8h0M634.4 992.3h0M634.6 984.3h0M636 988.2h0M636.2 985.9h0M637.3 989.8h0M637.2 991h0M636.5 986.4h0M638.1 993.1h0M637.6 995.5h0M638.1 986.9h0M639 987h0M639.6 994.4h0M640.2 988.1h0M641.2 994.4h0M641.2 991.7h0M642.4 997h0M643.1 992h0M643.2 988.2h0M644 990h0M645.4 993.2h0M645.6 991.6h0M646.6 992.2h0M647.7 992.6h0M651.8 997.2h0M653.7 998.2h0M654.9 999h0M658.3 999.8h0M659.1 1002.2h0M659.8 1001h0M661.3 1002.3h0M662 1002.5h0M662.7 1000.7h0M665.7 1006.1h0M666.8 1002.4h0M667.5 1006.3h0M668.8 1001.2h0M669.5 997.8h0M671.3 994.7h0M671.5 997.4h0M672.2 994.2h0M673.3 990.2h0M672.7 990.9h0M674 990.2h0M676 993.9h0M677.2 996.5h0M678.4 999.2h0M677.7 996.2h0M680.5 1001.1h0M684.9 1006.6h0M686.2 1012.4h0M687.2 1019.2h0M688.2 1009.3h0M688.2 1006.8h0M688.9 1005.9h0M689.6 1006.9h0M691.4 1005.5h0M692.3 1005.3h0M693 1001.7h0M694.3 1001.5h0M695.5 1001.7h0M697.1 997.8h0M698.3 999.3h0M698.8 1005.2h0M698.5 996.4h0M699.7 999.1h0M699.5 996.3h0M701.4 1000.4h0M701.8 1001.4h0M701.7 998.6h0M707.2 1005.5h0M708.4 1007.7h0M708.7 1007.3h0M710 1007.8h0M118 1025.5h0M121 1023.4h0M127.6 1018h0M129.5 1019.5h0M130.9 1016.5h0M133.8 1018.9h0M135.8 1021.6h0M139.8 1018.4h0M140.8 1017.2h0M145.7 1019h0M146.8 1017.8h0M148.1 1021.6h0M150 1020h0M150.9 1020.9h0M152.3 1020.3h0M153.7 1019.6h0M154.8 1019.7h0M158.8 1020.5h0M162.9 1021.3h0M791.8 1017.2h0M793.1 1015.1h0M795.4 1014.3h0M796.2 1019.3h0M798.7 1019.5h0M800.4 1018.8h0M800.8 1019h0M801.8 1016.5h0M804.6 1016.4h0M805.8 1017.8h0M806.6 1020h0M809 1018.1h0M810.3 1019.2h0M812.2 1021h0M813.1 1018.7h0M813.9 1018.1h0M815.6 1020.8h0M816.7 1021.6h0M817.8 1019.3h0M819.8 1022.9h0M823.4 1024.4h0M823.6 1020.1h0M825.2 1024h0M826 1020.9h0M826.7 1024h0M827.9 1024.6h0M828.9 1018.6h0M830 1022.8h0M831.1 1023h0M832.4 1023.3h0M833.4 1024.1h0M836.2 1024.6h0M837 1022.3h0M839.3 1023.3h0M841.1 1023.7h0M842.5 1024.8h0M843.5 1023.4h0M843.7 1023.2h0M846.2 1023.4h0M846.8 1022.1h0M847.7 1023.8h0M848.6 1018.6h0M849.8 1022.1h0M850.7 1018h0M851.6 1024.9h0M853.9 1021.1h0M855.3 1023h0M856.1 1023.9h0M857.4 1020.9h0M857.9 1024.8h0M859.2 1024.5h0M863.2 1025.3h0M864.8 1022.6h0M867.7 1025.7h0M868.7 1018.1h0M870.4 1023.2h0M871.3 1024.2h0M872.1 1022.7h0M873.3 1026.4h0M877.1 1024h0M879.9 1018.7h0M610.2 726.2h0M633.7 755h0M612.8 733.9h0M642.4 789.7h0M627.3 714.8h0M602.2 721.6h0M631.3 714.1h0M641.7 765.4h0M613.6 659.8h0M651.9 841.3h0M645.8 810h0M603.7 712.8h0M626.9 704.1h0M649.6 806.5h0M609.7 738.6h0M608.2 749.9h0M624.7 731.1h0M619.1 709.6h0M611.3 663h0M645.3 779.9h0M641 760.9h0M650.4 847.1h0M639.7 799.3h0M631 766.3h0M608.1 708.5h0M643.4 769.6h0M648.2 838.6h0M622.5 709.6h0M624.6 717.9h0M651.7 816.1h0M603.3 698.4h0M637.9 811h0M626.8 733.4h0M629.5 762.7h0M613.1 715.8h0M629.8 753.7h0M611 676.1h0M619.4 744.6h0M619.3 718.7h0M617.3 674.3h0M605.3 743.8h0M640.9 773.2h0M636.2 779.4h0M646.9 839.5h0M622.4 757.2h0M650.1 824.2h0M646.2 802.3h0M620.8 695.1h0M645.8 776.5h0M605.5 742.8h0M640.7 781h0M643.8 760.4h0M614.9 685.4h0M623 696.2h0M605.5 706.2h0M647 841.5h0M639.3 775.3h0M614.6 749h0M628.3 757h0M603.4 706.1h0M643.9 816.7h0M646.1 810.1h0M623.3 729h0M644.5 782.1h0M628.7 722.6h0M640.4 743.1h0M636.3 802.2h0M603.2 732.4h0M634.2 786.7h0M631.2 729h0M622.3 754.7h0M647.3 780.3h0M606.7 680.3h0M603.3 722.4h0M609 743.8h0M634.8 729.6h0M628.9 727.1h0M626.7 711.7h0M610.3 678.5h0M620.9 730.9h0M629.5 706.8h0M637.5 800.2h0M640.7 804.9h0M602.4 726.5h0M605.2 740.1h0M610.8 727.8h0M614.6 723.9h0M617.7 670.1h0M621.4 702h0M647 791.2h0M627.2 739.1h0M649.4 786.4h0M632.1 751.9h0M638.7 811.8h0M617.5 725.7h0M628.3 743.7h0M605.2 744h0M650.8 810.4h0M617.9 750.6h0M607.4 675.3h0M605.7 743.2h0M640 775.6h0M633.1 715.7h0M634.2 753.6h0M627.9 728.8h0M622.1 697.6h0M604.4 717.4h0M614.4 724.4h0M642.9 807.5h0M624.8 707h0M621.3 715h0M633.6 793.7h0M606.3 714.7h0M626.6 750.5h0M646.5 824.9h0M633.3 776.3h0M635.4 791.5h0M637 782.8h0M614.3 745.1h0M621.3 724.9h0M643.2 827.1h0M651.5 788.2h0M617.6 692.8h0M621.6 689.8h0M629.7 709.9h0M617.1 746.7h0M639.1 773.4h0M607.4 753.1h0M627 666.7h0M604.6 700.4h0M608.4 642.8h0M619.6 668.1h0M625.3 669.6h0M627 677.7h0M618.4 707.3h0M620.4 708.5h0M621 650.1h0M625.2 691.8h0M611.5 645h0M624.4 690.4h0M626.5 704.8h0M627.1 692.8h0M620.8 687.8h0M610.2 702h0M611.5 689.7h0M626.9 697.7h0M607.4 691.1h0M620 657.7h0M605.2 671.7h0M604.8 696h0M616.2 675.2h0M613.8 682.8h0M699.4 872.8h0M698.2 742.4h0M687.7 809.8h0M685.6 772.4h0M673.7 805.8h0M674.7 807.7h0M667.9 783h0M691.9 804.4h0M684.9 847h0M679.6 758.7h0M694.4 820.3h0M690 834.5h0M701 798.3h0M693.6 791.3h0M687 838.4h0M678 761.1h0M683.6 844.6h0M687.7 812.6h0M689.5 781.5h0M673.2 789.4h0M695.6 757.9h0M671 764.6h0M668.4 800.6h0M687 858h0M678.6 798.4h0M677.1 789.1h0M694.2 815h0M676 762.5h0M694.4 837.4h0M696 762.4h0M686.1 870h0M687.7 873.4h0M672.9 876.6h0M669 813.6h0M667.8 859.9h0M691.1 876.7h0M695.2 872.3h0M685.9 878.5h0M693.2 789.5h0M701.1 800.8h0M673.8 756.6h0M683.3 779.1h0M699.7 873.1h0M674.6 760.9h0M685.5 777.3h0M686 856.9h0M675.9 803.8h0M698.5 797.9h0M679 866.1h0M695.5 864.1h0M691.1 805.9h0M691.3 858.4h0M689.4 788.2h0M677.3 802.9h0M694 816.7h0M686.2 858.6h0M670.8 833.3h0M678.6 823h0M696.2 763h0M700.3 756.9h0M686.7 823.7h0M675.2 821.9h0M683.5 811h0M692.1 748.3h0M680.2 852.5h0M672 862.1h0M674.1 837.5h0M673.1 806.1h0M681.8 763.5h0M691.5 813.2h0M691.1 821.8h0M686.5 821.7h0"/><path fill="none" stroke="#ff7f0e" stroke-width="2.3" stroke-linejoin="round" d="M116 1029.3 L119.2 1028.4 L122.4 1028.3 L125.6 1027.2 L128.8 1027.2 L133.1 1026.6 L137.3 1025 L140.5 1024.7 L143.7 1025.3 L146.8 1026.1 L150 1025.5 L153.3 1025.3 L156.7 1026.2 L160 1025.4 L166.1 1024.2 L167.3 1024.6 L168.5 1019.9 L169.8 1021 L171 1018.8 L172.2 1017.5 L173.8 1021.5 L175.3 1022.4 L176.7 1020.8 L178.2 1021.4 L179.6 1018.7 L181.4 1018.4 L183.2 1020.5 L184.4 1021.1 L185.7 1018.1 L186.9 1016.8 L188.1 1015 L189.4 1014.6 L190.6 1014.7 L191.8 1013.2 L193 1008.9 L194.3 1007.5 L195.5 1005.2 L196.7 1008 L197.9 1014.4 L199.3 1009.6 L200.7 1006.8 L202 1003.8 L203.4 1001.6 L204.9 1003.2 L206.5 1006.5 L208.3 1002.8 L209.6 1006.3 L210.8 1007.7 L212 1002.1 L213.3 998.4 L214.5 991.8 L215.8 993.5 L217.2 993.7 L218.5 994.1 L219.9 993 L221.2 993 L222.4 987.9 L223.7 983 L224.9 975.9 L226.1 982.2 L227.3 988.1 L229.7 983.2 L231 989.9 L232.2 984.7 L233.4 982 L234.7 986 L235.9 989.9 L237.1 976.9 L238.3 963.6 L239.6 970.4 L240.8 979.5 L242.6 978 L244.4 979.5 L245.7 969.8 L246.9 962.4 L248.1 970.5 L249.3 977.1 L250.6 970.9 L251.8 962.4 L253.6 967.3 L255.4 939.2 L256.6 942.8 L257.9 945.3 L259.7 933 L261.6 966.1 L263.4 967 L265.2 968.5 L266.4 959.5 L267.7 953.8 L268.9 955.1 L270.1 960 L272 947.7 L273.5 948.9 L275 948.9 L276.2 953.3 L277.5 957.5 L278.7 951.6 L279.9 944.9 L281.1 940.4 L282.3 946 L283.6 953.1 L284.8 961.2 L286 958.2 L287.3 958.3 L288.5 956.3 L289.7 952.3 L291 950 L292.2 946.5 L293.4 946.2 L294.6 946.5 L295.9 950.3 L297.1 953.8 L298.9 960.2 L300.7 964.9 L302.2 970.8 L303.8 974.6 L305.3 965.4 L306.8 958.7 L308 957.9 L309.3 955.1 L310.5 952.5 L311.8 948.8 L313 946.5 L315.4 969.8 L316.6 973.9 L317.9 975.8 L319.1 977.1 L320.3 971.3 L321.6 968 L322.8 963.7 L324 957.5 L325.2 956.9 L326.4 955.9 L327.7 953 L328.9 951.4 L330.1 952 L331.3 949.9 L332.5 951.4 L333.7 949.1 L335 944.4 L336.2 942.8 L337.5 943.9 L338.7 944.8 L340 943.6 L341.4 940.7 L342.9 937.2 L344.3 936.3 L345.5 938.3 L346.8 943.7 L348 947.3 L349.4 942.4 L350.8 940.8 L352.1 936.7 L353.5 932.6 L355.9 938.7 L357.7 931.4 L358.9 938 L360.2 945.2 L361.4 949.9 L362.7 957.6 L363.9 964.4 L365.1 951.8 L366.3 942.4 L367.6 949.3 L368.8 955.9 L370.3 957 L371.8 955.9 L373 949.8 L374.2 946.8 L375.5 943 L376.7 936.3 L377.9 939.3 L379.2 943.6 L381 931.4 L382.8 942.4 L384.7 928.9 L385.9 933.4 L387.1 940 L388.9 932.6 L390.2 948.5 L391.4 934.8 L392.6 924 L393.8 910 L395.1 919.2 L396.3 931.4 L398.1 916.7 L399.4 931.1 L400.6 943.6 L402.4 937.5 L403.6 937.9 L404.9 940.9 L406.1 941.2 L408.5 958.3 L409.7 958.9 L411 958 L412.2 955.9 L414 964.4 L415.4 960 L416.9 958 L418.3 954.6 L419.6 960.1 L420.8 966.9 L422.6 953.4 L424.1 959.7 L425.7 963.2 L426.9 962.5 L428.1 963.2 L429.6 968.8 L431.2 976.7 L432.6 968.2 L434 958.9 L435.4 952.2 L436.6 954.3 L437.9 958.3 L439.7 954.6 L441.6 964.4 L442.8 964.5 L444.1 962.6 L445.3 961.5 L446.5 962 L447.7 965.7 L448.9 965.4 L450.2 969.5 L451.4 970.6 L452.6 978 L453.8 984 L455 979.7 L456.3 975.6 L457.5 970.6 L459 965.3 L460.5 959.5 L462.1 954.6 L463.6 947.3 L464.8 946.8 L466.1 944 L467.3 944.2 L468.5 942.4 L470.3 913 L472.2 928.9 L473.4 929.7 L474.6 931.9 L475.9 929.7 L477.1 931.7 L478.3 932.6 L480.7 946.1 L482.1 940.4 L483.6 929.9 L485 924.1 L486.6 931 L488.1 936.3 L489.9 926.1 L491.7 913 L493.1 906.5 L494.6 897.5 L496 892.2 L497.6 911.5 L499.1 928.9 L500.3 921.6 L502.1 955.9 L503.4 942.8 L504.6 931.4 L506 945.3 L507.5 960.3 L508.9 973 L510.1 972.3 L511.3 972.1 L512.6 971.6 L513.8 973 L515 960.2 L516.2 948.5 L518 963.2 L520 947.5 L522.2 942.9 L524.4 936.4 L526.1 941.1 L527.8 947.5 L530 954.3 L532.2 960.8 L533.9 951.9 L535.5 943 L537.7 947.5 L539.4 915.3 L541.1 880.9 L544 777.8 L546.6 858.7 L548.4 863.2 L550.3 900.6 L552.2 938.6 L553.9 951.8 L555.5 965.2 L557.3 976.3 L559.1 967.6 L561 958.6 L562.9 947.2 L564.7 937.4 L566.6 925.3 L568.8 918.5 L571 909.8 L572.6 918.1 L574.3 925.3 L575.8 937.5 L577.3 953.1 L578.8 965.2 L580.6 966.8 L582.5 968.4 L584.3 969.6 L586 958.7 L587.7 947.5 L589.9 946.4 L592.1 945.2 L593.8 954 L595.4 960.8 L596.9 959.5 L598.4 958.5 L599.9 958.6 L601.5 927.6 L603.2 894.2 L604.9 841.5 L606.5 790 L608.7 887.6 L610.9 796.6 L613.2 832.1 L614.9 830.5 L616.5 829.9 L618.7 858.7 L620.9 817.7 L623.1 903.1 L624.8 871.9 L626.5 841 L628.1 877.5 L629.8 912 L631.5 907.3 L633.1 903.1 L634.8 870.9 L636.5 841 L638.1 882.6 L639.8 925.3 L642 904.7 L644.2 885.3 L645.9 904.1 L647.6 925.3 L649.2 915.1 L650.9 903.1 L652.5 921.4 L654.2 938.6 L656.4 957.7 L658.6 978.5 L660.3 966.8 L662 956.3 L664.2 957.5 L666.4 956.3 L668.6 906.9 L670.8 856.5 L673.1 912 L674.6 874.3 L676.6 906.3 L678.6 938.6 L680.5 949.9 L682.3 962 L684.2 971.9 L686.4 961.3 L688.6 951.9 L690 891.2 L692.6 947.5 L695.1 867.3 L696.8 906.6 L698.2 879.2 L700.2 950.9 L701.9 937.3 L703.3 945 L704.8 953 L706.2 959.5 L707.6 955.4 L709.1 952 L710.5 947.5 L712.2 981.6 L714.7 959.5 L716.4 970.8 L718.2 980 L719.9 990.2 L722.4 971.4 L725 1002.1 L726.7 979.9 L729.2 1010.6 L731 1012.9 L732.7 1014.1 L734.4 1012.9 L736.1 1011.5 L737.8 1007.8 L739.5 1007.2 L741.2 1012.4 L742.9 1019.2 L744.6 1017.4 L746.3 1013.8 L748 1009.6 L749.7 1007.2 L751.4 1012.1 L753.1 1015.8 L754.8 1013.9 L756.6 1013.2 L758.3 1012.4 L760 1014 L761.7 1015.1 L763.4 1017.5 L765.1 1011.5 L766.8 1007.2 L768.5 1011.2 L770.2 1015.6 L771.9 1019.2 L773.6 1019.9 L775.3 1021.9 L777 1022.6 L778.4 1022.3 L779.9 1018.7 L781.3 1018.3 L782.7 1019.8 L784.2 1021.3 L785.6 1024.3 L787 1024.9 L788.4 1024.4 L789.9 1024.6 L791.3 1024.3 L792.7 1025.7 L794.1 1025.2 L795.8 1024.1 L797.5 1021.7 L799.2 1024.2 L800.9 1026.9 L802.5 1027.2 L804 1025.4 L805.6 1025.2 L807.2 1026.3 L808.7 1024.1 L810.3 1024.3 L812.9 1027.7 L814.4 1026.8 L815.9 1026.6 L817.4 1028.1 L818.9 1028.5 L820.5 1026.6 L822 1027.6 L823.5 1027.5 L825 1027.3 L826.5 1027.7 L827.9 1027.2 L829.3 1027.7 L830.8 1027.3 L832.2 1029.3 L833.6 1027.7 L835 1028.6 L836.4 1028.5 L837.9 1028.6 L839.3 1028.5 L840.7 1027.9 L842.2 1027.9 L843.6 1027.7 L845.2 1028.3 L846.8 1026.1 L848.4 1025.7 L850 1026 L852.5 1029.3 L859.4 1025.9 L861.7 1029.3 L898.7 1029.3 L921.8 1030.5 L1049 1030.5 L1055.9 1017.8 L1059.4 1031.7 L1100 1030.5 L1300 1030.4 L1400 1029.5 L1463 1027.8"/>
</g>
<path fill="#000" d="M116 575h1347v1h-1347zM116 1054h1347v1h-1347zM116 575h1v479h-1zM1462 575h1v479h-1zM116 1055h1v4.6h-1zM284 1055h1v4.6h-1zM453 1055h1v4.6h-1zM621 1055h1v4.6h-1zM789 1055h1v4.6h-1zM957 1055h1v4.6h-1zM1126 1055h1v4.6h-1zM1294 1055h1v4.6h-1zM111 604h5v1h-5zM111 658h5v1h-5zM111 711h5v1h-5zM111 764h5v1h-5zM111 818h5v1h-5zM111 871h5v1h-5zM111 925h5v1h-5zM111 978h5v1h-5zM111 1031h5v1h-5z"/>
<rect x="1047.14" y="584.76" width="406.06" height="80.77" rx="3.7" fill="#fff" fill-opacity="0.8" stroke="#cccccc" stroke-width="1.39"/>
<circle cx="1073.05" cy="599.75" r="2.78" fill="#1f77b4"/>
<path d="M1054.54 639.28H1091.57" stroke="#ff7f0e" stroke-width="2.08" stroke-linecap="square"/>
<text x="1106.62" y="606.23" font-size="19.44" textLength="97.65" lengthAdjust="spacingAndGlyphs">Raw Data</text>
<text x="1106.57" y="633.4" font-size="19.44" textLength="269.61" lengthAdjust="spacingAndGlyphs">Butterworth Filtered Data</text>
<text x="1106.85" y="654.12" font-size="19.44" textLength="338.46" lengthAdjust="spacingAndGlyphs">(N=6, Tc=3.3333 min, Type: low)</text>
<text x="73.88" y="473.04" font-size="23.33" textLength="32.09" lengthAdjust="spacingAndGlyphs">−2</text>
<text x="73.88" y="398.2" font-size="23.33" textLength="32.15" lengthAdjust="spacingAndGlyphs">−1</text>
<text x="91.27" y="323.36" font-size="23.33" textLength="15.59" lengthAdjust="spacingAndGlyphs">0</text>
<text x="92.28" y="248.53" font-size="23.33" textLength="13.66" lengthAdjust="spacingAndGlyphs">1</text>
<text x="92.23" y="173.69" font-size="23.33" textLength="13.60" lengthAdjust="spacingAndGlyphs">2</text>
<text x="92.24" y="98.85" font-size="23.33" textLength="13.66" lengthAdjust="spacingAndGlyphs">3</text>
<text x="67.35" y="1039.83" font-size="23.33" textLength="39.53" lengthAdjust="spacingAndGlyphs">0.0</text>
<text x="67.38" y="986.45" font-size="23.33" textLength="38.65" lengthAdjust="spacingAndGlyphs">0.1</text>
<text x="67.38" y="933.06" font-size="23.33" textLength="38.58" lengthAdjust="spacingAndGlyphs">0.2</text>
<text x="67.38" y="879.68" font-size="23.33" textLength="38.64" lengthAdjust="spacingAndGlyphs">0.3</text>
<text x="67.38" y="826.3" font-size="23.33" textLength="38.53" lengthAdjust="spacingAndGlyphs">0.4</text>
<text x="67.38" y="772.92" font-size="23.33" textLength="38.62" lengthAdjust="spacingAndGlyphs">0.5</text>
<text x="67.36" y="719.53" font-size="23.33" textLength="39.25" lengthAdjust="spacingAndGlyphs">0.6</text>
<text x="67.37" y="666.15" font-size="23.33" textLength="38.87" lengthAdjust="spacingAndGlyphs">0.7</text>
<text x="67.37" y="612.77" font-size="23.33" textLength="38.89" lengthAdjust="spacingAndGlyphs">0.8</text>
<text x="-50.34" y="278.4" font-size="23.33" textLength="225.56" lengthAdjust="spacingAndGlyphs" transform="rotate(-90 62.52 278.4)">Doppler Shift [Hz]</text>
<text x="-47.47" y="815" font-size="23.33" textLength="208.91" lengthAdjust="spacingAndGlyphs" transform="rotate(-90 57.06 815)">Peak Voltage [V]</text>
<text x="-0.04" y="0" font-size="23.33" textLength="109.85" lengthAdjust="spacingAndGlyphs" transform="translate(19.16 1133.71) rotate(-30)">06-07 00</text>
<text x="-0.03" y="0" font-size="23.33" textLength="108.99" lengthAdjust="spacingAndGlyphs" transform="translate(187.42 1133.71) rotate(-30)">06-07 03</text>
<text x="-0.03" y="0" font-size="23.33" textLength="109.58" lengthAdjust="spacingAndGlyphs" transform="translate(355.69 1133.71) rotate(-30)">06-07 06</text>
<text x="-0.03" y="0" font-size="23.33" textLength="109.37" lengthAdjust="spacingAndGlyphs" transform="translate(523.95 1133.71) rotate(-30)">06-07 09</text>
<text x="-0.03" y="0" font-size="23.33" textLength="108.93" lengthAdjust="spacingAndGlyphs" transform="translate(692.21 1133.71) rotate(-30)">06-07 12</text>
<text x="-0.03" y="0" font-size="23.33" textLength="108.98" lengthAdjust="spacingAndGlyphs" transform="translate(860.48 1133.71) rotate(-30)">06-07 15</text>
<text x="-0.03" y="0" font-size="23.33" textLength="109.24" lengthAdjust="spacingAndGlyphs" transform="translate(1028.74 1133.71) rotate(-30)">06-07 18</text>
<text x="-0.03" y="0" font-size="23.33" textLength="109.00" lengthAdjust="spacingAndGlyphs" transform="translate(1197 1133.71) rotate(-30)">06-07 21</text>
<text x="765.35" y="1158.15" font-size="23.33" textLength="48.10" lengthAdjust="spacingAndGlyphs">UTC</text>
<text x="117.12" y="30.07" font-size="28.00" textLength="41.14" lengthAdjust="spacingAndGlyphs">(a)</text>
<text x="117.15" y="567.17" font-size="28.00" textLength="42.17" lengthAdjust="spacingAndGlyphs">(b)</text>
<text x="634.65" y="30.07" font-size="28.00" textLength="300.06" lengthAdjust="spacingAndGlyphs">10.0 MHz N0000010</text>
</svg></body></html>
